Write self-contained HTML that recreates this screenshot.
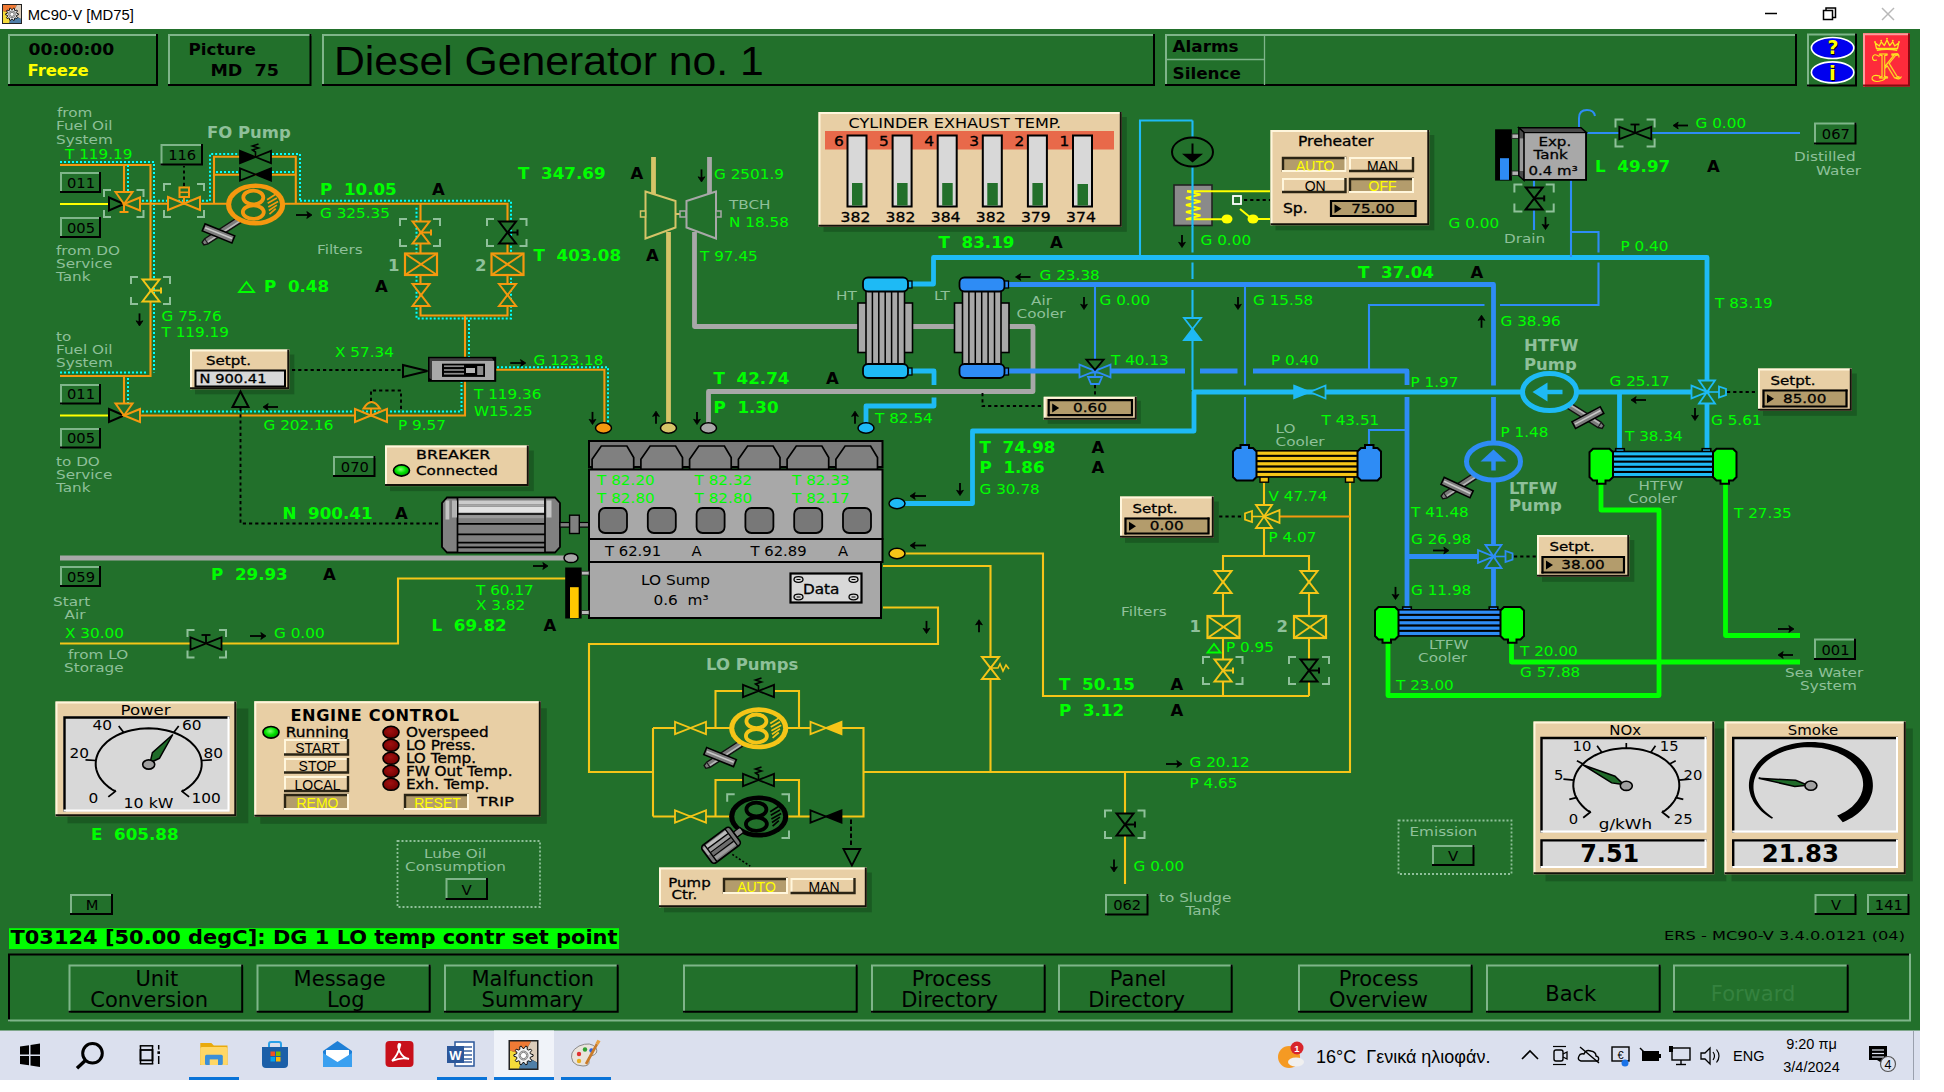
<!DOCTYPE html>
<html lang="en"><head><meta charset="utf-8"><title>MC90-V [MD75]</title>
<style>
html,body{margin:0;padding:0;background:#fff;overflow:hidden}
svg{display:block}
text{white-space:pre}
</style></head><body>
<svg width="1944" height="1092" viewBox="0 0 1944 1092">
<rect x="0.0" y="0.0" width="1944.0" height="1092.0" fill="#fff" />
<rect x="0.0" y="29.0" width="1920.0" height="1002.0" fill="#22702b" />
<rect x="2.0" y="4.0" width="20.0" height="20.0" fill="#222" />
<polygon points="3.0,5.0 17.0,5.0 12.0,14.0 3.0,11.0" fill="#f07a35" stroke-linejoin="miter" />
<polygon points="17.0,5.0 21.0,5.0 21.0,19.0 12.0,14.0" fill="#dccdbb" stroke-linejoin="miter" />
<polygon points="21.0,19.0 21.0,23.0 9.0,23.0 12.0,14.0" fill="#4f7fa8" stroke-linejoin="miter" />
<polygon points="9.0,23.0 3.0,23.0 3.0,11.0 12.0,14.0" fill="#f5dc3a" stroke-linejoin="miter" />
<polygon points="18.4,13.8 18.4,14.8 16.6,15.4 16.3,16.1 17.5,17.6 16.9,18.5 15.1,17.9 14.5,18.3 14.4,20.2 13.5,20.5 12.4,19.0 11.6,19.0 10.5,20.5 9.6,20.2 9.5,18.3 8.9,17.9 7.1,18.5 6.5,17.6 7.7,16.1 7.4,15.4 5.6,14.8 5.6,13.8 7.4,13.2 7.7,12.5 6.5,11.0 7.1,10.1 8.9,10.7 9.5,10.3 9.6,8.4 10.5,8.1 11.6,9.6 12.4,9.6 13.5,8.1 14.4,8.4 14.5,10.3 15.1,10.7 16.9,10.1 17.5,11.0 16.3,12.5 16.6,13.2" fill="#f2f2f2" stroke="#111" stroke-width="1.0" stroke-linejoin="miter" />
<ellipse cx="12.0" cy="14.3" rx="3.4" ry="3.4" fill="none" stroke="#7a7a7a" stroke-width="1.0"/>
<ellipse cx="12.0" cy="14.3" rx="2.1" ry="2.1" fill="#fff" stroke="#555" stroke-width="0.8"/>
<text transform="translate(27.8,20.1) scale(0.955,1)" font-size="15.5" fill="#000" font-family='"Liberation Sans", "DejaVu Sans", sans-serif' >MC90-V [MD75]</text>
<path d="M1765.0,13.5 L1777.0,13.5" fill="none" stroke="#000" stroke-width="1.5" stroke-linejoin="miter" />
<rect x="1823.5" y="10.5" width="9.0" height="9.0" fill="#fff" stroke="#000" stroke-width="1.5" />
<path d="M1826.0,10.0 L1826.0,8.0 L1835.5,8.0 L1835.5,17.5 L1833.0,17.5" fill="none" stroke="#000" stroke-width="1.5" stroke-linejoin="miter" />
<path d="M1882.0,8.0 L1894.0,20.0" fill="none" stroke="#b8b8b8" stroke-width="1.5" stroke-linejoin="miter" />
<path d="M1894.0,8.0 L1882.0,20.0" fill="none" stroke="#b8b8b8" stroke-width="1.5" stroke-linejoin="miter" />
<path d="M9.0,86.0 L9.0,35.0 L158.0,35.0" fill="none" stroke="#7fb58a" stroke-width="2" stroke-linejoin="miter" />
<path d="M8.0,85.0 L157.0,85.0 L157.0,34.0" fill="none" stroke="#000" stroke-width="2" stroke-linejoin="miter" />
<text transform="translate(28.5,54.5) scale(1.135,1)" font-size="15.2" fill="#000" font-weight="bold" font-family='"DejaVu Sans", "Liberation Sans", sans-serif' >00:00:00</text>
<text transform="translate(27.5,75.5) scale(1.08,1)" font-size="15.2" fill="#ffff00" font-weight="bold" font-family='"DejaVu Sans", "Liberation Sans", sans-serif' >Freeze</text>
<path d="M169.0,86.0 L169.0,35.0 L311.5,35.0" fill="none" stroke="#7fb58a" stroke-width="2" stroke-linejoin="miter" />
<path d="M168.0,85.0 L310.5,85.0 L310.5,34.0" fill="none" stroke="#000" stroke-width="2" stroke-linejoin="miter" />
<text transform="translate(188.5,54.5) scale(1.1,1)" font-size="15.2" fill="#000" font-weight="bold" font-family='"DejaVu Sans", "Liberation Sans", sans-serif' >Picture</text>
<text transform="translate(210.5,75.5) scale(1.15,1)" font-size="15.2" fill="#000" font-weight="bold" font-family='"DejaVu Sans", "Liberation Sans", sans-serif' >MD  75</text>
<path d="M323.0,86.0 L323.0,35.0 L1155.0,35.0" fill="none" stroke="#7fb58a" stroke-width="2" stroke-linejoin="miter" />
<path d="M322.0,85.0 L1154.0,85.0 L1154.0,34.0" fill="none" stroke="#000" stroke-width="2" stroke-linejoin="miter" />
<text transform="translate(334.0,75.3) scale(1.063,1)" font-size="40.2" fill="#000" font-family='"Liberation Sans", "DejaVu Sans", sans-serif' >Diesel Generator no. 1</text>
<path d="M1166.0,86.0 L1166.0,35.0 L1797.0,35.0" fill="none" stroke="#7fb58a" stroke-width="2" stroke-linejoin="miter" />
<path d="M1165.0,85.0 L1796.0,85.0 L1796.0,34.0" fill="none" stroke="#000" stroke-width="2" stroke-linejoin="miter" />
<path d="M1166.0,59.5 L1264.0,59.5" fill="none" stroke="#7fb58a" stroke-width="1.3" stroke-linejoin="miter" />
<path d="M1264.5,35.0 L1264.5,85.0" fill="none" stroke="#7fb58a" stroke-width="1.3" stroke-linejoin="miter" />
<text transform="translate(1172.5,52.0) scale(1.04,1)" font-size="16.2" fill="#000" font-weight="bold" font-family='"DejaVu Sans", "Liberation Sans", sans-serif' >Alarms</text>
<text transform="translate(1172.5,79.0) scale(1.04,1)" font-size="16.2" fill="#000" font-weight="bold" font-family='"DejaVu Sans", "Liberation Sans", sans-serif' >Silence</text>
<path d="M1808.0,86.5 L1808.0,34.5 L1857.0,34.5" fill="none" stroke="#7fb58a" stroke-width="2" stroke-linejoin="miter" />
<path d="M1807.0,85.5 L1856.0,85.5 L1856.0,33.5" fill="none" stroke="#000" stroke-width="2" stroke-linejoin="miter" />
<ellipse cx="1832.6" cy="48.0" rx="21.2" ry="10.5" fill="#0000ee" stroke="#fff" stroke-width="1.6"/>
<ellipse cx="1832.6" cy="72.4" rx="21.2" ry="10.5" fill="#0000ee" stroke="#fff" stroke-width="1.6"/>
<text x="1834.0" y="55.0" font-size="18.8" fill="#000" font-weight="bold" text-anchor="middle" font-family='"DejaVu Sans", "Liberation Sans", sans-serif' >?</text>
<text x="1833.0" y="54.0" font-size="18.8" fill="#ffff00" font-weight="bold" text-anchor="middle" font-family='"DejaVu Sans", "Liberation Sans", sans-serif' >?</text>
<text x="1833.6" y="80.9" font-size="19.7" fill="#000" font-weight="bold" text-anchor="middle" font-family='"DejaVu Sans", "Liberation Sans", sans-serif' >i</text>
<text x="1832.4" y="79.9" font-size="19.7" fill="#ffff00" font-weight="bold" text-anchor="middle" font-family='"DejaVu Sans", "Liberation Sans", sans-serif' >i</text>
<rect x="1863.0" y="33.2" width="47.0" height="53.4" fill="#fd2b3b" />
<path d="M1864.0,86.6 L1864.0,34.2 L1910.0,34.2" fill="none" stroke="#ff9c9c" stroke-width="2" stroke-linejoin="miter" />
<path d="M1863.0,85.6 L1909.0,85.6 L1909.0,33.2" fill="none" stroke="#8b0a12" stroke-width="2" stroke-linejoin="miter" />
<path d="M1876.5,48.5 L1875.3,43 L1879.3,46 L1881.3,41.8 L1884.3,45.6 L1887,40 L1889.7,45.6 L1892.7,41.8 L1894.7,46 L1898.7,43 L1897.5,48.5 Z" fill="none" stroke="#ffe61e" stroke-width="1.3" stroke-linejoin="round"/>
<ellipse cx="1875.0" cy="42.0" rx="0.9" ry="0.9" fill="#ffe61e"/>
<ellipse cx="1881.2" cy="40.6" rx="0.9" ry="0.9" fill="#ffe61e"/>
<ellipse cx="1887.0" cy="38.6" rx="0.9" ry="0.9" fill="#ffe61e"/>
<ellipse cx="1892.8" cy="40.6" rx="0.9" ry="0.9" fill="#ffe61e"/>
<ellipse cx="1899.0" cy="42.0" rx="0.9" ry="0.9" fill="#ffe61e"/>
<path d="M1876.8,50.3 Q1887,48.2 1897.2,50.3" fill="none" stroke="#ffe61e" stroke-width="1.5"/>
<text transform="translate(1889,78.3) scale(0.82,1)" font-size="35" text-anchor="middle" fill="#fd2b3b" stroke="#ffe61e" stroke-width="1.15" font-family='"Liberation Serif", "DejaVu Serif", serif'>K</text>
<path d="M1879.5,56.5 Q1873.5,52.5 1872.5,57.5 Q1872.5,61.5 1877,60 M1880,76 Q1871.5,74 1872,79 Q1874,83 1882,80.5 Q1887.5,78.5 1884,75.5 M1895.5,77.5 Q1899,81 1901.5,76.5 M1893,55 Q1899.5,52 1899,57.5" fill="none" stroke="#ffe61e" stroke-width="1.15"/>
<rect x="9.0" y="928.2" width="610.0" height="20.8" fill="#00ff00" />
<text x="10.5" y="944.3" font-size="19" font-weight="bold" fill="#000" font-family='"DejaVu Sans", "Liberation Sans", sans-serif' textLength="607" lengthAdjust="spacingAndGlyphs">T03124 [50.00 degC]: DG 1 LO temp contr set point</text>
<text x="1664" y="940" font-size="12.8" fill="#000" font-family='"DejaVu Sans", "Liberation Sans", sans-serif' textLength="241" lengthAdjust="spacingAndGlyphs">ERS - MC90-V 3.4.0.0121 (04)</text>
<path d="M9.0,1021.5 L9.0,954.5 L1911.0,954.5" fill="none" stroke="#000" stroke-width="2" stroke-linejoin="miter" />
<path d="M8.0,1020.5 L1910.0,1020.5 L1910.0,953.5" fill="none" stroke="#7fb58a" stroke-width="2" stroke-linejoin="miter" />
<path d="M69.5,1012.8 L69.5,965.5 L243.2,965.5" fill="none" stroke="#7fb58a" stroke-width="2" stroke-linejoin="miter" />
<path d="M68.5,1011.8 L242.2,1011.8 L242.2,964.5" fill="none" stroke="#000" stroke-width="2" stroke-linejoin="miter" />
<text x="135.5" y="985.5" font-size="21" fill="#000" font-family='"DejaVu Sans", "Liberation Sans", sans-serif' >Unit</text>
<text x="90.3" y="1006.5" font-size="21" fill="#000" font-family='"DejaVu Sans", "Liberation Sans", sans-serif' >Conversion</text>
<path d="M257.5,1012.8 L257.5,965.5 L430.7,965.5" fill="none" stroke="#7fb58a" stroke-width="2" stroke-linejoin="miter" />
<path d="M256.5,1011.8 L429.7,1011.8 L429.7,964.5" fill="none" stroke="#000" stroke-width="2" stroke-linejoin="miter" />
<text x="293.6" y="985.5" font-size="21" fill="#000" font-family='"DejaVu Sans", "Liberation Sans", sans-serif' >Message</text>
<text x="327.0" y="1006.5" font-size="21" fill="#000" font-family='"DejaVu Sans", "Liberation Sans", sans-serif' >Log</text>
<path d="M445.0,1012.8 L445.0,965.5 L618.7,965.5" fill="none" stroke="#7fb58a" stroke-width="2" stroke-linejoin="miter" />
<path d="M444.0,1011.8 L617.7,1011.8 L617.7,964.5" fill="none" stroke="#000" stroke-width="2" stroke-linejoin="miter" />
<text x="471.5" y="985.5" font-size="21" fill="#000" font-family='"DejaVu Sans", "Liberation Sans", sans-serif' >Malfunction</text>
<text x="481.6" y="1006.5" font-size="21" fill="#000" font-family='"DejaVu Sans", "Liberation Sans", sans-serif' >Summary</text>
<path d="M684.0,1012.8 L684.0,965.5 L857.7,965.5" fill="none" stroke="#7fb58a" stroke-width="2" stroke-linejoin="miter" />
<path d="M683.0,1011.8 L856.7,1011.8 L856.7,964.5" fill="none" stroke="#000" stroke-width="2" stroke-linejoin="miter" />
<path d="M872.0,1012.8 L872.0,965.5 L1045.7,965.5" fill="none" stroke="#7fb58a" stroke-width="2" stroke-linejoin="miter" />
<path d="M871.0,1011.8 L1044.7,1011.8 L1044.7,964.5" fill="none" stroke="#000" stroke-width="2" stroke-linejoin="miter" />
<text x="911.8" y="985.5" font-size="21" fill="#000" font-family='"DejaVu Sans", "Liberation Sans", sans-serif' >Process</text>
<text x="901.2" y="1006.5" font-size="21" fill="#000" font-family='"DejaVu Sans", "Liberation Sans", sans-serif' >Directory</text>
<path d="M1059.0,1012.8 L1059.0,965.5 L1232.7,965.5" fill="none" stroke="#7fb58a" stroke-width="2" stroke-linejoin="miter" />
<path d="M1058.0,1011.8 L1231.7,1011.8 L1231.7,964.5" fill="none" stroke="#000" stroke-width="2" stroke-linejoin="miter" />
<text x="1109.8" y="985.5" font-size="21" fill="#000" font-family='"DejaVu Sans", "Liberation Sans", sans-serif' >Panel</text>
<text x="1088.2" y="1006.5" font-size="21" fill="#000" font-family='"DejaVu Sans", "Liberation Sans", sans-serif' >Directory</text>
<path d="M1299.0,1012.8 L1299.0,965.5 L1472.7,965.5" fill="none" stroke="#7fb58a" stroke-width="2" stroke-linejoin="miter" />
<path d="M1298.0,1011.8 L1471.7,1011.8 L1471.7,964.5" fill="none" stroke="#000" stroke-width="2" stroke-linejoin="miter" />
<text x="1338.8" y="985.5" font-size="21" fill="#000" font-family='"DejaVu Sans", "Liberation Sans", sans-serif' >Process</text>
<text x="1329.0" y="1006.5" font-size="21" fill="#000" font-family='"DejaVu Sans", "Liberation Sans", sans-serif' >Overview</text>
<path d="M1487.0,1012.8 L1487.0,965.5 L1660.7,965.5" fill="none" stroke="#7fb58a" stroke-width="2" stroke-linejoin="miter" />
<path d="M1486.0,1011.8 L1659.7,1011.8 L1659.7,964.5" fill="none" stroke="#000" stroke-width="2" stroke-linejoin="miter" />
<text x="1545.3" y="1000.5" font-size="21" fill="#000" font-family='"DejaVu Sans", "Liberation Sans", sans-serif' >Back</text>
<path d="M1674.0,1012.8 L1674.0,965.5 L1848.7,965.5" fill="none" stroke="#7fb58a" stroke-width="2" stroke-linejoin="miter" />
<path d="M1673.0,1011.8 L1847.7,1011.8 L1847.7,964.5" fill="none" stroke="#000" stroke-width="2" stroke-linejoin="miter" />
<text x="1710.8" y="1000.5" font-size="21" fill="#35823f" font-family='"DejaVu Sans", "Liberation Sans", sans-serif' >Forward</text>
<path d="M60.0,165.0 L150.5,165.0 L150.5,376.0 L60.0,376.0" fill="none" stroke="#f5980f" stroke-width="2.1" stroke-linejoin="miter" />
<path d="M60.0,162.0 L154.0,162.0 L154.0,372.5" fill="none" stroke="#00ffff" stroke-width="2" stroke-linejoin="miter" stroke-dasharray="2 2"/>
<path d="M60.0,372.5 L146.0,372.5" fill="none" stroke="#00ffff" stroke-width="2" stroke-linejoin="miter" stroke-dasharray="2 2"/>
<path d="M124.0,165.0 L124.0,200.0" fill="none" stroke="#f5980f" stroke-width="2.1" stroke-linejoin="miter" />
<path d="M128.0,165.0 L128.0,197.0" fill="none" stroke="#00ffff" stroke-width="2" stroke-linejoin="miter" stroke-dasharray="2 2"/>
<path d="M60.0,204.0 L110.0,204.0" fill="none" stroke="#ffff00" stroke-width="2.1" stroke-linejoin="miter" />
<path d="M140.0,203.8 L228.0,203.8" fill="none" stroke="#f5980f" stroke-width="2.1" stroke-linejoin="miter" />
<path d="M142.0,200.8 L209.0,200.8" fill="none" stroke="#00ffff" stroke-width="2" stroke-linejoin="miter" stroke-dasharray="2 2"/>
<path d="M214.0,203.8 L214.0,156.8 L295.8,156.8 L295.8,203.8" fill="none" stroke="#f5980f" stroke-width="2.1" stroke-linejoin="miter" />
<path d="M214.0,174.7 L295.8,174.7" fill="none" stroke="#f5980f" stroke-width="2.1" stroke-linejoin="miter" />
<path d="M210.0,200.8 L210.0,154.0 L239.0,154.0" fill="none" stroke="#00ffff" stroke-width="2" stroke-linejoin="miter" stroke-dasharray="2 2"/>
<path d="M272.0,154.0 L300.0,154.0 L300.0,200.8" fill="none" stroke="#00ffff" stroke-width="2" stroke-linejoin="miter" stroke-dasharray="2 2"/>
<path d="M216.0,172.0 L239.0,172.0" fill="none" stroke="#00ffff" stroke-width="2" stroke-linejoin="miter" stroke-dasharray="2 2"/>
<path d="M272.0,172.0 L295.0,172.0" fill="none" stroke="#00ffff" stroke-width="2" stroke-linejoin="miter" stroke-dasharray="2 2"/>
<path d="M284.0,203.8 L507.5,203.8 L507.5,315.5 L420.5,315.5 L420.5,203.8" fill="none" stroke="#f5980f" stroke-width="2.1" stroke-linejoin="miter" />
<path d="M300.0,200.8 L511.0,200.8 L511.0,318.5 L416.5,318.5 L416.5,206.0" fill="none" stroke="#00ffff" stroke-width="2" stroke-linejoin="miter" stroke-dasharray="2 2"/>
<path d="M465.0,315.5 L465.0,358.0" fill="none" stroke="#f5980f" stroke-width="2.1" stroke-linejoin="miter" />
<path d="M469.0,320.0 L469.0,357.0" fill="none" stroke="#00ffff" stroke-width="2" stroke-linejoin="miter" stroke-dasharray="2 2"/>
<path d="M495.0,369.8 L604.4,369.8 L604.4,424.0" fill="none" stroke="#f5980f" stroke-width="2.1" stroke-linejoin="miter" />
<path d="M497.0,367.3 L608.0,367.3 L608.0,424.0" fill="none" stroke="#00ffff" stroke-width="2" stroke-linejoin="miter" stroke-dasharray="2 2"/>
<path d="M124.0,376.0 L124.0,405.0" fill="none" stroke="#f5980f" stroke-width="2.1" stroke-linejoin="miter" />
<path d="M128.0,378.0 L128.0,405.0" fill="none" stroke="#00ffff" stroke-width="2" stroke-linejoin="miter" stroke-dasharray="2 2"/>
<path d="M60.0,415.5 L110.0,415.5" fill="none" stroke="#ffff00" stroke-width="2.1" stroke-linejoin="miter" />
<path d="M140.0,415.5 L465.0,415.5 L465.0,381.0" fill="none" stroke="#f5980f" stroke-width="2.1" stroke-linejoin="miter" />
<path d="M142.0,411.5 L461.5,411.5 L461.5,382.0" fill="none" stroke="#00ffff" stroke-width="2" stroke-linejoin="miter" stroke-dasharray="2 2"/>
<path d="M60.0,558.0 L566.0,558.0" fill="none" stroke="#a8a8a8" stroke-width="4.8" stroke-linejoin="round" />
<path d="M653.5,157.0 L653.5,194.0" fill="none" stroke="#d6c468" stroke-width="4.8" stroke-linejoin="round" />
<path d="M668.5,232.0 L668.5,425.0" fill="none" stroke="#d6c468" stroke-width="4.8" stroke-linejoin="round" />
<path d="M709.5,157.0 L709.5,194.0" fill="none" stroke="#a8a8a8" stroke-width="4.8" stroke-linejoin="round" />
<path d="M694.5,232.0 L694.5,326.5 L1033.0,326.5 L1033.0,391.5 L708.5,391.5 L708.5,425.0" fill="none" stroke="#a8a8a8" stroke-width="4.8" stroke-linejoin="round" />
<path d="M910.0,284.0 L933.5,284.0 L933.5,257.5 L1707.0,257.5 L1707.0,452.0" fill="none" stroke="#1ebaf5" stroke-width="4.8" stroke-linejoin="round" />
<path d="M910.0,371.0 L934.0,371.0 L934.0,385.0" fill="none" stroke="#1ebaf5" stroke-width="4.8" stroke-linejoin="round" />
<path d="M934.0,397.5 L934.0,406.0 L866.0,406.0 L866.0,425.0" fill="none" stroke="#1ebaf5" stroke-width="4.8" stroke-linejoin="round" />
<path d="M903.0,503.5 L972.5,503.5 L972.5,431.0 L1194.0,431.0 L1194.0,392.0 L1522.0,392.0" fill="none" stroke="#1ebaf5" stroke-width="4.8" stroke-linejoin="round" />
<path d="M1578.0,392.0 L1707.0,392.0" fill="none" stroke="#1ebaf5" stroke-width="4.8" stroke-linejoin="round" />
<path d="M1619.5,392.0 L1619.5,452.0" fill="none" stroke="#1ebaf5" stroke-width="4.8" stroke-linejoin="round" />
<path d="M1192.5,120.5 L1140.0,120.5 L1140.0,257.0" fill="none" stroke="#1ebaf5" stroke-width="2.1" stroke-linejoin="miter" />
<path d="M1192.5,120.5 L1192.5,252.5" fill="none" stroke="#1ebaf5" stroke-width="2.1" stroke-linejoin="miter" />
<path d="M1192.5,262.5 L1192.5,279.0" fill="none" stroke="#1ebaf5" stroke-width="2.1" stroke-linejoin="miter" />
<path d="M1192.5,290.0 L1192.5,390.0" fill="none" stroke="#1ebaf5" stroke-width="2.1" stroke-linejoin="miter" />
<path d="M1579,130 V118 Q1579,110 1587,110 Q1594,110 1595,116" fill="none" stroke="#2e8cf5" stroke-width="2"/>
<path d="M1006.0,284.5 L1493.5,284.5 L1493.5,385.5" fill="none" stroke="#2e8cf5" stroke-width="4.8" stroke-linejoin="round" />
<path d="M1493.5,397.0 L1493.5,612.0" fill="none" stroke="#2e8cf5" stroke-width="4.8" stroke-linejoin="round" />
<path d="M1006.0,371.0 L1185.0,371.0" fill="none" stroke="#2e8cf5" stroke-width="4.8" stroke-linejoin="round" />
<path d="M1200.0,371.0 L1237.5,371.0" fill="none" stroke="#2e8cf5" stroke-width="4.8" stroke-linejoin="round" />
<path d="M1253.0,371.0 L1407.0,371.0 L1407.0,385.0" fill="none" stroke="#2e8cf5" stroke-width="4.8" stroke-linejoin="round" />
<path d="M1407.0,397.0 L1407.0,612.0" fill="none" stroke="#2e8cf5" stroke-width="4.8" stroke-linejoin="round" />
<path d="M1407.0,556.5 L1493.0,556.5" fill="none" stroke="#2e8cf5" stroke-width="4.8" stroke-linejoin="round" />
<path d="M1095.0,286.0 L1095.0,371.0" fill="none" stroke="#2e8cf5" stroke-width="2.1" stroke-linejoin="miter" />
<path d="M1245.0,286.0 L1245.0,385.5" fill="none" stroke="#2e8cf5" stroke-width="2.1" stroke-linejoin="miter" />
<path d="M1245.0,397.0 L1245.0,448.0" fill="none" stroke="#2e8cf5" stroke-width="2.1" stroke-linejoin="miter" />
<path d="M1369.0,369.0 L1369.0,305.0 L1484.5,305.0" fill="none" stroke="#2e8cf5" stroke-width="2.1" stroke-linejoin="miter" />
<path d="M1500.0,305.0 L1598.5,305.0 L1598.5,262.5" fill="none" stroke="#2e8cf5" stroke-width="2.1" stroke-linejoin="miter" />
<path d="M1598.5,252.5 L1598.5,232.0 L1571.0,232.0" fill="none" stroke="#2e8cf5" stroke-width="2.1" stroke-linejoin="miter" />
<path d="M1571.0,180.0 L1571.0,257.0" fill="none" stroke="#2e8cf5" stroke-width="2.1" stroke-linejoin="miter" />
<path d="M1369.0,448.0 L1369.0,430.0 L1407.0,430.0" fill="none" stroke="#2e8cf5" stroke-width="2.1" stroke-linejoin="miter" />
<path d="M1587.0,133.0 L1800.0,133.0" fill="none" stroke="#2e8cf5" stroke-width="2.1" stroke-linejoin="miter" />
<path d="M1534.0,180.0 L1534.0,230.0" fill="none" stroke="#2e8cf5" stroke-width="2.1" stroke-linejoin="miter" />
<path d="M1601.0,480.0 L1601.0,510.0 L1659.0,510.0 L1659.0,695.5 L1388.0,695.5 L1388.0,639.0" fill="none" stroke="#00ff00" stroke-width="4.8" stroke-linejoin="round" />
<path d="M1725.5,480.0 L1725.5,635.5 L1800.0,635.5" fill="none" stroke="#00ff00" stroke-width="4.8" stroke-linejoin="round" />
<path d="M1511.5,639.0 L1511.5,662.0 L1800.0,662.0" fill="none" stroke="#00ff00" stroke-width="4.8" stroke-linejoin="round" />
<path d="M60.0,643.5 L398.0,643.5 L398.0,578.5 L566.0,578.5" fill="none" stroke="#f5c518" stroke-width="2.1" stroke-linejoin="miter" />
<path d="M903.0,553.5 L1043.0,553.5 L1043.0,696.0 L1309.0,696.0" fill="none" stroke="#f5c518" stroke-width="2.1" stroke-linejoin="miter" />
<path d="M883.0,566.0 L990.5,566.0 L990.5,772.0" fill="none" stroke="#f5c518" stroke-width="2.1" stroke-linejoin="miter" />
<path d="M883.0,607.5 L938.0,607.5 L938.0,644.0 L589.0,644.0 L589.0,772.0 L653.0,772.0" fill="none" stroke="#f5c518" stroke-width="2.1" stroke-linejoin="miter" />
<path d="M653.0,728.0 L653.0,816.5" fill="none" stroke="#f5c518" stroke-width="2.1" stroke-linejoin="miter" />
<path d="M653.0,728.0 L730.0,728.0" fill="none" stroke="#f5c518" stroke-width="2.1" stroke-linejoin="miter" />
<path d="M788.0,728.0 L863.5,728.0 L863.5,816.5 L842.0,816.5" fill="none" stroke="#f5c518" stroke-width="2.1" stroke-linejoin="miter" />
<path d="M653.0,816.5 L730.0,816.5" fill="none" stroke="#f5c518" stroke-width="2.1" stroke-linejoin="miter" />
<path d="M788.0,816.5 L812.0,816.5" fill="none" stroke="#f5c518" stroke-width="2.1" stroke-linejoin="miter" />
<path d="M715.5,728.0 L715.5,691.0 L799.0,691.0 L799.0,728.0" fill="none" stroke="#f5c518" stroke-width="2.1" stroke-linejoin="miter" />
<path d="M715.5,816.5 L715.5,780.0 L799.0,780.0 L799.0,816.5" fill="none" stroke="#f5c518" stroke-width="2.1" stroke-linejoin="miter" />
<path d="M863.5,772.0 L1350.0,772.0 L1350.0,480.0" fill="none" stroke="#f5c518" stroke-width="2.1" stroke-linejoin="miter" />
<path d="M1125.0,772.0 L1125.0,884.0" fill="none" stroke="#f5c518" stroke-width="2.1" stroke-linejoin="miter" />
<path d="M1264.0,480.0 L1264.0,556.0 L1223.0,556.0 L1223.0,696.0" fill="none" stroke="#f5c518" stroke-width="2.1" stroke-linejoin="miter" />
<path d="M1264.0,556.0 L1309.0,556.0 L1309.0,696.0" fill="none" stroke="#f5c518" stroke-width="2.1" stroke-linejoin="miter" />
<path d="M1280.0,516.5 L1350.0,516.5" fill="none" stroke="#f5980f" stroke-width="2.1" stroke-linejoin="miter" />
<defs><radialGradient id="lg" cx="0.45" cy="0.4" r="0.6"><stop offset="0" stop-color="#7dff6a"/><stop offset="0.55" stop-color="#00e000"/><stop offset="1" stop-color="#009a00"/></radialGradient><radialGradient id="lr" cx="0.45" cy="0.4" r="0.65"><stop offset="0" stop-color="#a01010"/><stop offset="1" stop-color="#6e0000"/></radialGradient></defs>
<path d="M111.0,190.0 L104.0,190.0 L104.0,197.0" fill="none" stroke="#8fc09a" stroke-width="2" stroke-linejoin="miter" />
<path d="M136.5,190.0 L143.5,190.0 L143.5,197.0" fill="none" stroke="#8fc09a" stroke-width="2" stroke-linejoin="miter" />
<path d="M111.0,217.0 L104.0,217.0 L104.0,210.0" fill="none" stroke="#8fc09a" stroke-width="2" stroke-linejoin="miter" />
<path d="M136.5,217.0 L143.5,217.0 L143.5,210.0" fill="none" stroke="#8fc09a" stroke-width="2" stroke-linejoin="miter" />
<polygon points="109.0,197.5 124.0,204.0 109.0,210.5" fill="#22702b" stroke="#000" stroke-width="2" stroke-linejoin="miter" />
<polygon points="140.0,197.5 124.0,204.0 140.0,210.5" fill="#22702b" stroke="#f5980f" stroke-width="2" stroke-linejoin="miter" />
<polygon points="115.5,192.0 124.0,204.0 132.5,192.0" fill="#22702b" stroke="#f5980f" stroke-width="2" stroke-linejoin="miter" />
<path d="M124.0,204.0 L124.0,212.0" fill="none" stroke="#f5980f" stroke-width="2" stroke-linejoin="miter" />
<path d="M119.5,212.0 L128.5,212.0" fill="none" stroke="#f5980f" stroke-width="2" stroke-linejoin="miter" />
<polygon points="109.0,409.0 124.0,415.5 109.0,422.0" fill="#22702b" stroke="#000" stroke-width="2" stroke-linejoin="miter" />
<polygon points="140.0,409.0 124.0,415.5 140.0,422.0" fill="#22702b" stroke="#f5980f" stroke-width="2" stroke-linejoin="miter" />
<polygon points="115.5,403.5 124.0,415.5 132.5,403.5" fill="#22702b" stroke="#f5980f" stroke-width="2" stroke-linejoin="miter" />
<path d="M171.0,184.0 L164.0,184.0 L164.0,191.0" fill="none" stroke="#8fc09a" stroke-width="2" stroke-linejoin="miter" />
<path d="M197.0,184.0 L204.0,184.0 L204.0,191.0" fill="none" stroke="#8fc09a" stroke-width="2" stroke-linejoin="miter" />
<path d="M171.0,217.0 L164.0,217.0 L164.0,210.0" fill="none" stroke="#8fc09a" stroke-width="2" stroke-linejoin="miter" />
<path d="M197.0,217.0 L204.0,217.0 L204.0,210.0" fill="none" stroke="#8fc09a" stroke-width="2" stroke-linejoin="miter" />
<polygon points="168.0,197.0 184.0,203.5 168.0,210.0" fill="#22702b" stroke="#f5980f" stroke-width="2" stroke-linejoin="miter" />
<polygon points="200.0,197.0 184.0,203.5 200.0,210.0" fill="#22702b" stroke="#f5980f" stroke-width="2" stroke-linejoin="miter" />
<path d="M184.0,203.5 L184.0,197.0" fill="none" stroke="#f5980f" stroke-width="2" stroke-linejoin="miter" />
<rect x="179.5" y="187.5" width="9.5" height="9.5" fill="#22702b" stroke="#f5980f" stroke-width="2" />
<path d="M180.0,192.3 L188.0,192.3" fill="none" stroke="#f5980f" stroke-width="1.6" stroke-linejoin="miter" />
<path d="M184.0,186.0 L184.0,166.0" fill="none" stroke="#000" stroke-width="1.9" stroke-linejoin="miter" stroke-dasharray="3.2 3"/>
<path d="M161.5,165.5 L161.5,145.0 L203.0,145.0" fill="none" stroke="#7fb58a" stroke-width="2" stroke-linejoin="miter" />
<path d="M160.5,164.5 L202.0,164.5 L202.0,144.0" fill="none" stroke="#000" stroke-width="2" stroke-linejoin="miter" />
<text transform="translate(182.2,160.0) scale(1.08,1)" font-size="13.6" fill="#000" text-anchor="middle" font-family='"DejaVu Sans", "Liberation Sans", sans-serif' >116</text>
<polygon points="240.0,150.8 255.5,157.0 240.0,163.2" fill="#000" stroke="#000" stroke-width="1.8" stroke-linejoin="miter" />
<polygon points="271.0,150.8 255.5,157.0 271.0,163.2" fill="#22702b" stroke="#000" stroke-width="1.8" stroke-linejoin="miter" />
<path d="M255.5,157.0 L255.5,152.0 L252.5,150.0 L258.5,148.0 L252.5,146.0 L258.5,144.0" fill="none" stroke="#000" stroke-width="1.6" stroke-linejoin="miter" />
<polygon points="240.0,168.3 255.5,174.5 240.0,180.7" fill="#22702b" stroke="#000" stroke-width="1.8" stroke-linejoin="miter" />
<polygon points="271.0,168.3 255.5,174.5 271.0,180.7" fill="#000" stroke="#000" stroke-width="1.8" stroke-linejoin="miter" />
<g transform="translate(240.0,219.5) rotate(147.0)">
<path d="M0,-3.1 H40.1 L44.1,-1.6 V1.6 L40.1,3.1 H0 Z" fill="#7c7c7c" stroke="#111" stroke-width="1.4"/>
<path d="M1.0,-1.3 L39.1,-1.3" fill="none" stroke="#b8b8b8" stroke-width="1.6" stroke-linejoin="miter" />
<path d="M40.1,-3.1 L40.1,3.1" fill="none" stroke="#1a1a1a" stroke-width="1" stroke-linejoin="miter" />
</g>
<g transform="translate(218.5,233.4) rotate(22.0)">
<rect x="-16.0" y="-3.8" width="32.0" height="7.6" fill="#7c7c7c" stroke="#000" stroke-width="1.6" />
<path d="M-14.5,-0.3 L14.5,-0.3" fill="none" stroke="#c8c8c8" stroke-width="1.6" stroke-linejoin="miter" />
</g>
<ellipse cx="255.6" cy="204.5" rx="29.6" ry="21.0" fill="#f5980f"/>
<ellipse cx="255.6" cy="204.5" rx="24.4" ry="16.4" fill="#22702b"/>
<path d="M267.1,199.7 L275.7,194.3" fill="none" stroke="#f5980f" stroke-width="1.7" stroke-linejoin="miter" />
<path d="M267.7,203.3 L276.9,197.9" fill="none" stroke="#f5980f" stroke-width="1.7" stroke-linejoin="miter" />
<path d="M268.3,206.9 L278.1,201.5" fill="none" stroke="#f5980f" stroke-width="1.7" stroke-linejoin="miter" />
<path d="M268.9,210.5 L276.9,205.1" fill="none" stroke="#f5980f" stroke-width="1.7" stroke-linejoin="miter" />
<path d="M269.5,214.1 L275.7,208.7" fill="none" stroke="#f5980f" stroke-width="1.7" stroke-linejoin="miter" />
<ellipse cx="253.3" cy="197.5" rx="10.0" ry="6.8" fill="#22702b" stroke="#f5980f" stroke-width="3.8"/>
<ellipse cx="253.3" cy="212.1" rx="10.5" ry="6.8" fill="#22702b" stroke="#f5980f" stroke-width="3.8"/>
<path d="M138.0,277.0 L131.0,277.0 L131.0,284.0" fill="none" stroke="#8fc09a" stroke-width="2" stroke-linejoin="miter" />
<path d="M163.0,277.0 L170.0,277.0 L170.0,284.0" fill="none" stroke="#8fc09a" stroke-width="2" stroke-linejoin="miter" />
<path d="M138.0,304.0 L131.0,304.0 L131.0,297.0" fill="none" stroke="#8fc09a" stroke-width="2" stroke-linejoin="miter" />
<path d="M163.0,304.0 L170.0,304.0 L170.0,297.0" fill="none" stroke="#8fc09a" stroke-width="2" stroke-linejoin="miter" />
<polygon points="142.5,279.5 151.0,290.5 159.5,279.5" fill="#22702b" stroke="#f5c518" stroke-width="2" stroke-linejoin="miter" />
<polygon points="142.5,301.5 151.0,290.5 159.5,301.5" fill="#22702b" stroke="#f5c518" stroke-width="2" stroke-linejoin="miter" />
<path d="M151.0,290.5 L161.0,290.5" fill="none" stroke="#f5c518" stroke-width="2" stroke-linejoin="miter" />
<path d="M161.0,287.5 L161.0,293.5" fill="none" stroke="#f5c518" stroke-width="2" stroke-linejoin="miter" />
<path d="M407.0,219.0 L400.0,219.0 L400.0,226.0" fill="none" stroke="#8fc09a" stroke-width="2" stroke-linejoin="miter" />
<path d="M433.0,219.0 L440.0,219.0 L440.0,226.0" fill="none" stroke="#8fc09a" stroke-width="2" stroke-linejoin="miter" />
<path d="M407.0,246.0 L400.0,246.0 L400.0,239.0" fill="none" stroke="#8fc09a" stroke-width="2" stroke-linejoin="miter" />
<path d="M433.0,246.0 L440.0,246.0 L440.0,239.0" fill="none" stroke="#8fc09a" stroke-width="2" stroke-linejoin="miter" />
<polygon points="412.5,221.5 421.0,232.5 429.5,221.5" fill="#22702b" stroke="#f5980f" stroke-width="2" stroke-linejoin="miter" />
<polygon points="412.5,243.5 421.0,232.5 429.5,243.5" fill="#22702b" stroke="#f5980f" stroke-width="2" stroke-linejoin="miter" />
<path d="M421.0,232.5 L431.0,232.5" fill="none" stroke="#f5980f" stroke-width="2" stroke-linejoin="miter" />
<path d="M431.0,229.5 L431.0,235.5" fill="none" stroke="#f5980f" stroke-width="2" stroke-linejoin="miter" />
<path d="M494.0,219.0 L487.0,219.0 L487.0,226.0" fill="none" stroke="#8fc09a" stroke-width="2" stroke-linejoin="miter" />
<path d="M519.5,219.0 L526.5,219.0 L526.5,226.0" fill="none" stroke="#8fc09a" stroke-width="2" stroke-linejoin="miter" />
<path d="M494.0,246.0 L487.0,246.0 L487.0,239.0" fill="none" stroke="#8fc09a" stroke-width="2" stroke-linejoin="miter" />
<path d="M519.5,246.0 L526.5,246.0 L526.5,239.0" fill="none" stroke="#8fc09a" stroke-width="2" stroke-linejoin="miter" />
<polygon points="499.0,221.5 507.5,232.5 516.0,221.5" fill="#22702b" stroke="#000" stroke-width="2" stroke-linejoin="miter" />
<polygon points="499.0,243.5 507.5,232.5 516.0,243.5" fill="#22702b" stroke="#000" stroke-width="2" stroke-linejoin="miter" />
<path d="M507.5,232.5 L517.5,232.5" fill="none" stroke="#000" stroke-width="2" stroke-linejoin="miter" />
<path d="M517.5,229.5 L517.5,235.5" fill="none" stroke="#000" stroke-width="2" stroke-linejoin="miter" />
<rect x="405.0" y="253.5" width="32.0" height="21.5" fill="#22702b" stroke="#f5980f" stroke-width="2.2" />
<path d="M405.0,253.5 L437.0,275.0" fill="none" stroke="#f5980f" stroke-width="2" stroke-linejoin="miter" />
<path d="M405.0,275.0 L437.0,253.5" fill="none" stroke="#f5980f" stroke-width="2" stroke-linejoin="miter" />
<rect x="491.5" y="253.5" width="32.0" height="21.5" fill="#22702b" stroke="#f5980f" stroke-width="2.2" />
<path d="M491.5,253.5 L523.5,275.0" fill="none" stroke="#f5980f" stroke-width="2" stroke-linejoin="miter" />
<path d="M491.5,275.0 L523.5,253.5" fill="none" stroke="#f5980f" stroke-width="2" stroke-linejoin="miter" />
<polygon points="412.5,284.0 421.0,295.0 429.5,284.0" fill="#22702b" stroke="#f5980f" stroke-width="2" stroke-linejoin="miter" />
<polygon points="412.5,306.0 421.0,295.0 429.5,306.0" fill="#22702b" stroke="#f5980f" stroke-width="2" stroke-linejoin="miter" />
<polygon points="499.0,284.0 507.5,295.0 516.0,284.0" fill="#22702b" stroke="#f5980f" stroke-width="2" stroke-linejoin="miter" />
<polygon points="499.0,306.0 507.5,295.0 516.0,306.0" fill="#22702b" stroke="#f5980f" stroke-width="2" stroke-linejoin="miter" />
<polygon points="403.0,365.0 427.5,371.0 403.0,377.0" fill="#22702b" stroke="#000" stroke-width="2" stroke-linejoin="miter" />
<rect x="428.0" y="356.8" width="68.2" height="25.0" fill="#000" />
<polygon points="429.5,358.3 492.0,358.3 494.0,361.0 432.0,361.0 432.0,380.0 429.5,378.0" fill="#3c3c3c" stroke-linejoin="miter" />
<rect x="432.0" y="361.0" width="62.2" height="19.0" fill="#a8a8a8" />
<rect x="442.0" y="363.7" width="43.0" height="13.2" fill="#000" />
<path d="M444.0,366.2 L464.0,366.2" fill="none" stroke="#8c8c8c" stroke-width="1.7" stroke-linejoin="miter" />
<path d="M444.0,370.0 L464.0,370.0" fill="none" stroke="#8c8c8c" stroke-width="1.7" stroke-linejoin="miter" />
<path d="M444.0,373.7 L464.0,373.7" fill="none" stroke="#8c8c8c" stroke-width="1.7" stroke-linejoin="miter" />
<rect x="466.0" y="368.0" width="9.0" height="5.0" fill="#b4b4b4" />
<rect x="477.2" y="366.0" width="6.0" height="9.0" fill="#8c8c8c" />
<rect x="195.0" y="354.5" width="99.3" height="39.8" fill="#1a5a22" />
<rect x="190.0" y="349.5" width="99.3" height="39.8" fill="#e8cfa5" />
<path d="M191.0,389.3 L191.0,350.5 L289.3,350.5" fill="none" stroke="#fff6dc" stroke-width="2" stroke-linejoin="miter" />
<path d="M190.0,388.3 L288.3,388.3 L288.3,349.5" fill="none" stroke="#14120a" stroke-width="2" stroke-linejoin="miter" />
<text transform="translate(206.0,365.2) scale(1.16,1)" font-size="13.0" fill="#000" font-family='"DejaVu Sans", "Liberation Sans", sans-serif' stroke="#000" stroke-width="0.3">Setpt.</text>
<rect x="195.5" y="370.5" width="89.5" height="16.0" fill="#d8d8d8" stroke="#000" stroke-width="2" />
<text transform="translate(199.5,383.3) scale(1.13,1)" font-size="13.0" fill="#000" font-family='"DejaVu Sans", "Liberation Sans", sans-serif' stroke="#000" stroke-width="0.3">N 900.41</text>
<path d="M292.0,370.0 L402.0,370.0" fill="none" stroke="#000" stroke-width="1.9" stroke-linejoin="miter" stroke-dasharray="3.2 3"/>
<polygon points="232.5,407.0 240.5,391.5 248.5,407.0" fill="#22702b" stroke="#000" stroke-width="2" stroke-linejoin="miter" />
<path d="M240.5,408.0 L240.5,523.5 L441.0,523.5" fill="none" stroke="#000" stroke-width="1.9" stroke-linejoin="miter" stroke-dasharray="3.2 3"/>
<polygon points="355.0,409.0 371.0,415.5 355.0,422.0" fill="#22702b" stroke="#f5980f" stroke-width="2" stroke-linejoin="miter" />
<polygon points="387.0,409.0 371.0,415.5 387.0,422.0" fill="#22702b" stroke="#f5980f" stroke-width="2" stroke-linejoin="miter" />
<path d="M371.0,415.5 L371.0,409.0" fill="none" stroke="#f5980f" stroke-width="2" stroke-linejoin="miter" />
<path d="M363.5,408.5 Q371.5,395.5 380,408.5 Z" fill="#22702b" stroke="#f5980f" stroke-width="2"/>
<path d="M371.0,401.0 L371.0,390.5 L401.0,390.5 L401.0,411.0" fill="none" stroke="#000" stroke-width="1.9" stroke-linejoin="miter" stroke-dasharray="3.2 3"/>
<ellipse cx="603.5" cy="428.0" rx="8.0" ry="5.2" fill="#f5980f" stroke="#000" stroke-width="1.5"/>
<ellipse cx="668.5" cy="428.0" rx="8.0" ry="5.2" fill="#d6c468" stroke="#000" stroke-width="1.5"/>
<ellipse cx="708.5" cy="428.0" rx="8.0" ry="5.2" fill="#a8a8a8" stroke="#000" stroke-width="1.5"/>
<ellipse cx="866.0" cy="428.0" rx="8.0" ry="5.2" fill="#1ebaf5" stroke="#000" stroke-width="1.5"/>
<ellipse cx="897.0" cy="503.5" rx="8.0" ry="5.2" fill="#1ebaf5" stroke="#000" stroke-width="1.5"/>
<ellipse cx="897.0" cy="553.5" rx="8.0" ry="5.2" fill="#f5c518" stroke="#000" stroke-width="1.5"/>
<ellipse cx="571.0" cy="558.0" rx="7.0" ry="4.6" fill="#a8a8a8" stroke="#000" stroke-width="1.5"/>
<path d="M61.0,193.0 L61.0,173.0 L101.0,173.0" fill="none" stroke="#7fb58a" stroke-width="2" stroke-linejoin="miter" />
<path d="M60.0,192.0 L100.0,192.0 L100.0,172.0" fill="none" stroke="#000" stroke-width="2" stroke-linejoin="miter" />
<text transform="translate(81.0,187.5) scale(1.08,1)" font-size="13.6" fill="#000" text-anchor="middle" font-family='"DejaVu Sans", "Liberation Sans", sans-serif' >011</text>
<path d="M61.0,238.0 L61.0,218.0 L101.0,218.0" fill="none" stroke="#7fb58a" stroke-width="2" stroke-linejoin="miter" />
<path d="M60.0,237.0 L100.0,237.0 L100.0,217.0" fill="none" stroke="#000" stroke-width="2" stroke-linejoin="miter" />
<text transform="translate(81.0,232.5) scale(1.08,1)" font-size="13.6" fill="#000" text-anchor="middle" font-family='"DejaVu Sans", "Liberation Sans", sans-serif' >005</text>
<path d="M61.0,404.5 L61.0,385.0 L101.0,385.0" fill="none" stroke="#7fb58a" stroke-width="2" stroke-linejoin="miter" />
<path d="M60.0,403.5 L100.0,403.5 L100.0,384.0" fill="none" stroke="#000" stroke-width="2" stroke-linejoin="miter" />
<text transform="translate(81.0,399.0) scale(1.08,1)" font-size="13.6" fill="#000" text-anchor="middle" font-family='"DejaVu Sans", "Liberation Sans", sans-serif' >011</text>
<path d="M61.0,448.5 L61.0,429.0 L101.0,429.0" fill="none" stroke="#7fb58a" stroke-width="2" stroke-linejoin="miter" />
<path d="M60.0,447.5 L100.0,447.5 L100.0,428.0" fill="none" stroke="#000" stroke-width="2" stroke-linejoin="miter" />
<text transform="translate(81.0,443.0) scale(1.08,1)" font-size="13.6" fill="#000" text-anchor="middle" font-family='"DejaVu Sans", "Liberation Sans", sans-serif' >005</text>
<path d="M61.0,587.0 L61.0,567.0 L101.0,567.0" fill="none" stroke="#7fb58a" stroke-width="2" stroke-linejoin="miter" />
<path d="M60.0,586.0 L100.0,586.0 L100.0,566.0" fill="none" stroke="#000" stroke-width="2" stroke-linejoin="miter" />
<text transform="translate(81.0,581.5) scale(1.08,1)" font-size="13.6" fill="#000" text-anchor="middle" font-family='"DejaVu Sans", "Liberation Sans", sans-serif' >059</text>
<path d="M334.0,477.0 L334.0,457.0 L375.5,457.0" fill="none" stroke="#7fb58a" stroke-width="2" stroke-linejoin="miter" />
<path d="M333.0,476.0 L374.5,476.0 L374.5,456.0" fill="none" stroke="#000" stroke-width="2" stroke-linejoin="miter" />
<text transform="translate(354.8,471.5) scale(1.08,1)" font-size="13.6" fill="#000" text-anchor="middle" font-family='"DejaVu Sans", "Liberation Sans", sans-serif' >070</text>
<path d="M71.0,915.0 L71.0,895.0 L113.0,895.0" fill="none" stroke="#7fb58a" stroke-width="2" stroke-linejoin="miter" />
<path d="M70.0,914.0 L112.0,914.0 L112.0,894.0" fill="none" stroke="#000" stroke-width="2" stroke-linejoin="miter" />
<text transform="translate(92.0,909.5) scale(1.08,1)" font-size="13.6" fill="#000" text-anchor="middle" font-family='"DejaVu Sans", "Liberation Sans", sans-serif' >M</text>
<path d="M1106.0,915.5 L1106.0,895.0 L1148.5,895.0" fill="none" stroke="#7fb58a" stroke-width="2" stroke-linejoin="miter" />
<path d="M1105.0,914.5 L1147.5,914.5 L1147.5,894.0" fill="none" stroke="#000" stroke-width="2" stroke-linejoin="miter" />
<text transform="translate(1127.2,910.0) scale(1.08,1)" font-size="13.6" fill="#000" text-anchor="middle" font-family='"DejaVu Sans", "Liberation Sans", sans-serif' >062</text>
<path d="M1815.0,144.5 L1815.0,123.5 L1856.5,123.5" fill="none" stroke="#7fb58a" stroke-width="2" stroke-linejoin="miter" />
<path d="M1814.0,143.5 L1855.5,143.5 L1855.5,122.5" fill="none" stroke="#000" stroke-width="2" stroke-linejoin="miter" />
<text transform="translate(1835.8,139.0) scale(1.08,1)" font-size="13.6" fill="#000" text-anchor="middle" font-family='"DejaVu Sans", "Liberation Sans", sans-serif' >067</text>
<path d="M1815.0,660.0 L1815.0,639.5 L1856.0,639.5" fill="none" stroke="#7fb58a" stroke-width="2" stroke-linejoin="miter" />
<path d="M1814.0,659.0 L1855.0,659.0 L1855.0,638.5" fill="none" stroke="#000" stroke-width="2" stroke-linejoin="miter" />
<text transform="translate(1835.5,654.5) scale(1.08,1)" font-size="13.6" fill="#000" text-anchor="middle" font-family='"DejaVu Sans", "Liberation Sans", sans-serif' >001</text>
<path d="M1815.5,915.0 L1815.5,895.0 L1856.5,895.0" fill="none" stroke="#7fb58a" stroke-width="2" stroke-linejoin="miter" />
<path d="M1814.5,914.0 L1855.5,914.0 L1855.5,894.0" fill="none" stroke="#000" stroke-width="2" stroke-linejoin="miter" />
<text transform="translate(1836.0,909.5) scale(1.08,1)" font-size="13.6" fill="#000" text-anchor="middle" font-family='"DejaVu Sans", "Liberation Sans", sans-serif' >V</text>
<path d="M1868.0,915.0 L1868.0,895.0 L1909.5,895.0" fill="none" stroke="#7fb58a" stroke-width="2" stroke-linejoin="miter" />
<path d="M1867.0,914.0 L1908.5,914.0 L1908.5,894.0" fill="none" stroke="#000" stroke-width="2" stroke-linejoin="miter" />
<text transform="translate(1888.8,909.5) scale(1.08,1)" font-size="13.6" fill="#000" text-anchor="middle" font-family='"DejaVu Sans", "Liberation Sans", sans-serif' >141</text>
<rect x="390.0" y="450.5" width="143.8" height="40.6" fill="#1a5a22" />
<rect x="385.0" y="445.5" width="143.8" height="40.6" fill="#e8cfa5" />
<path d="M386.0,486.1 L386.0,446.5 L528.8,446.5" fill="none" stroke="#fff6dc" stroke-width="2" stroke-linejoin="miter" />
<path d="M385.0,485.1 L527.8,485.1 L527.8,445.5" fill="none" stroke="#14120a" stroke-width="2" stroke-linejoin="miter" />
<text transform="translate(416.0,458.8) scale(1.225,1)" font-size="13" fill="#000" font-family='"DejaVu Sans", "Liberation Sans", sans-serif' stroke="#000" stroke-width="0.3">BREAKER</text>
<text transform="translate(416.0,474.6) scale(1.17,1)" font-size="13" fill="#000" font-family='"DejaVu Sans", "Liberation Sans", sans-serif' stroke="#000" stroke-width="0.3">Connected</text>
<ellipse cx="401.5" cy="470.5" rx="8.0" ry="5.6" fill="url(#lg)" stroke="#000" stroke-width="1.6"/>
<polygon points="447.0,497.5 555.0,497.5 560.0,503.0 560.0,547.0 555.0,552.5 447.0,552.5 442.0,547.0 442.0,503.0" fill="#808080" stroke="#000" stroke-width="1.8" stroke-linejoin="miter" />
<rect x="457.5" y="498.4" width="87.5" height="53.2" fill="#808080" />
<rect x="458.5" y="500.5" width="85.5" height="3.6" fill="#cccccc" />
<rect x="458.5" y="507.0" width="85.5" height="5.6" fill="#e2e2e2" />
<rect x="458.5" y="504.3" width="85.5" height="2.4" fill="#a8a8a8" />
<path d="M457.5,514.0 L545.0,514.0" fill="none" stroke="#000" stroke-width="1.7" stroke-linejoin="miter" />
<path d="M457.5,523.8 L545.0,523.8" fill="none" stroke="#000" stroke-width="1.7" stroke-linejoin="miter" />
<path d="M457.5,534.4 L545.0,534.4" fill="none" stroke="#000" stroke-width="1.7" stroke-linejoin="miter" />
<path d="M457.5,542.7 L545.0,542.7" fill="none" stroke="#000" stroke-width="1.7" stroke-linejoin="miter" />
<path d="M457.5,547.3 L545.0,547.3" fill="none" stroke="#000" stroke-width="1.7" stroke-linejoin="miter" />
<rect x="458.5" y="515.2" width="85.5" height="3.0" fill="#9a9a9a" />
<path d="M457.5,498.0 L457.5,552.0" fill="none" stroke="#000" stroke-width="1.7" stroke-linejoin="miter" />
<path d="M545.0,498.0 L545.0,552.0" fill="none" stroke="#000" stroke-width="1.7" stroke-linejoin="miter" />
<rect x="445.5" y="500.5" width="3.8" height="19.0" fill="#c4c4c4" />
<rect x="452.0" y="500.5" width="5.0" height="17.0" fill="#b4b4b4" />
<rect x="546.5" y="500.5" width="5.0" height="17.0" fill="#c4c4c4" />
<rect x="560.0" y="522.5" width="29.0" height="4.6" fill="#808080" stroke="#000" stroke-width="1.2" />
<rect x="569.6" y="515.2" width="9.7" height="18.3" fill="#808080" stroke="#000" stroke-width="1.4" />
<rect x="589.0" y="441.0" width="293.5" height="26.0" fill="#787878" stroke="#000" stroke-width="2" />
<path d="M592.1,469.5 V459.3 L601.3,446 H626.9 L633.7,457.5 V469.5 Z" fill="#808080" stroke="#000" stroke-width="1.7"/>
<path d="M640.9,469.5 V459.3 L650.1,446 H675.6 L682.5,457.5 V469.5 Z" fill="#808080" stroke="#000" stroke-width="1.7"/>
<path d="M689.6,469.5 V459.3 L698.8,446 H724.4 L731.2,457.5 V469.5 Z" fill="#808080" stroke="#000" stroke-width="1.7"/>
<path d="M738.4,469.5 V459.3 L747.6,446 H773.1 L780.0,457.5 V469.5 Z" fill="#808080" stroke="#000" stroke-width="1.7"/>
<path d="M787.1,469.5 V459.3 L796.3,446 H821.9 L828.7,457.5 V469.5 Z" fill="#808080" stroke="#000" stroke-width="1.7"/>
<path d="M835.9,469.5 V459.3 L845.1,446 H870.6 L877.5,457.5 V469.5 Z" fill="#808080" stroke="#000" stroke-width="1.7"/>
<rect x="589.0" y="469.5" width="293.5" height="69.5" fill="#a8a8a8" stroke="#000" stroke-width="2" />
<rect x="599.0" y="508.0" width="28.0" height="25.0" fill="#787878" stroke="#000" stroke-width="1.8" rx="6" />
<rect x="647.8" y="508.0" width="28.0" height="25.0" fill="#787878" stroke="#000" stroke-width="1.8" rx="6" />
<rect x="696.6" y="508.0" width="28.0" height="25.0" fill="#787878" stroke="#000" stroke-width="1.8" rx="6" />
<rect x="745.4" y="508.0" width="28.0" height="25.0" fill="#787878" stroke="#000" stroke-width="1.8" rx="6" />
<rect x="794.2" y="508.0" width="28.0" height="25.0" fill="#787878" stroke="#000" stroke-width="1.8" rx="6" />
<rect x="843.0" y="508.0" width="28.0" height="25.0" fill="#787878" stroke="#000" stroke-width="1.8" rx="6" />
<rect x="589.0" y="539.0" width="293.5" height="23.0" fill="#a8a8a8" stroke="#000" stroke-width="2" />
<rect x="589.0" y="562.0" width="292.0" height="56.0" fill="#a8a8a8" stroke="#000" stroke-width="2" />
<rect x="790.5" y="573.5" width="71.0" height="29.0" fill="#d8d8d8" stroke="#000" stroke-width="2.2" />
<ellipse cx="798.5" cy="579.5" rx="4.5" ry="2.8" fill="#d8d8d8" stroke="#000" stroke-width="1.3"/>
<path d="M796.5,579.5 L800.5,579.5" fill="none" stroke="#000" stroke-width="1" stroke-linejoin="miter" />
<ellipse cx="853.5" cy="579.5" rx="4.5" ry="2.8" fill="#d8d8d8" stroke="#000" stroke-width="1.3"/>
<path d="M851.5,579.5 L855.5,579.5" fill="none" stroke="#000" stroke-width="1" stroke-linejoin="miter" />
<ellipse cx="798.5" cy="597.0" rx="4.5" ry="2.8" fill="#d8d8d8" stroke="#000" stroke-width="1.3"/>
<path d="M796.5,597.0 L800.5,597.0" fill="none" stroke="#000" stroke-width="1" stroke-linejoin="miter" />
<ellipse cx="853.5" cy="597.0" rx="4.5" ry="2.8" fill="#d8d8d8" stroke="#000" stroke-width="1.3"/>
<path d="M851.5,597.0 L855.5,597.0" fill="none" stroke="#000" stroke-width="1" stroke-linejoin="miter" />
<text transform="translate(803.0,593.8) scale(1.14,1)" font-size="13.4" fill="#000" font-family='"DejaVu Sans", "Liberation Sans", sans-serif' stroke="#000" stroke-width="0.3">Data</text>
<rect x="565.2" y="567.5" width="16.4" height="51.0" fill="#000" />
<rect x="570.0" y="587.2" width="8.7" height="30.8" fill="#ffc800" />
<rect x="581.6" y="571.2" width="7.5" height="3.8" fill="#bbb" stroke="#222" stroke-width="0.8" />
<rect x="581.6" y="610.6" width="7.5" height="3.8" fill="#bbb" stroke="#222" stroke-width="0.8" />
<polygon points="645.5,191.5 675.5,201.0 675.5,227.5 645.5,238.5" fill="#22702b" stroke="#d6c468" stroke-width="2" stroke-linejoin="miter" />
<rect x="640.5" y="211.0" width="5.0" height="6.0" fill="#22702b" stroke="#d6c468" stroke-width="1.5" />
<path d="M675.5,214.0 L686.5,214.0" fill="none" stroke="#d6c468" stroke-width="2" stroke-linejoin="miter" />
<rect x="680.0" y="211.0" width="6.0" height="6.0" fill="#22702b" stroke="#a8a8a8" stroke-width="1.5" />
<polygon points="716.0,191.5 686.5,201.0 686.5,227.5 716.0,238.5" fill="#22702b" stroke="#a8a8a8" stroke-width="2" stroke-linejoin="miter" />
<rect x="716.0" y="211.0" width="5.0" height="6.0" fill="#22702b" stroke="#a8a8a8" stroke-width="1.5" />
<rect x="858.0" y="303.0" width="54.5" height="49.5" fill="#a8a8a8" stroke="#000" stroke-width="1.6" />
<rect x="866.0" y="290.0" width="38.5" height="76.0" fill="#a8a8a8" stroke="#000" stroke-width="1.6" />
<path d="M872.4,291.0 L872.4,365.0" fill="none" stroke="#000" stroke-width="1.5" stroke-linejoin="miter" />
<path d="M878.8,291.0 L878.8,365.0" fill="none" stroke="#000" stroke-width="1.5" stroke-linejoin="miter" />
<path d="M885.2,291.0 L885.2,365.0" fill="none" stroke="#000" stroke-width="1.5" stroke-linejoin="miter" />
<path d="M891.6,291.0 L891.6,365.0" fill="none" stroke="#000" stroke-width="1.5" stroke-linejoin="miter" />
<path d="M898.0,291.0 L898.0,365.0" fill="none" stroke="#000" stroke-width="1.5" stroke-linejoin="miter" />
<rect x="907.0" y="281.0" width="5.0" height="7.0" fill="#1ebaf5" stroke="#000" stroke-width="1.3" />
<rect x="907.0" y="368.0" width="5.0" height="7.0" fill="#1ebaf5" stroke="#000" stroke-width="1.3" />
<rect x="863.0" y="277.5" width="45.0" height="14.0" fill="#1ebaf5" stroke="#000" stroke-width="1.8" rx="5" />
<rect x="863.0" y="364.0" width="45.0" height="14.0" fill="#1ebaf5" stroke="#000" stroke-width="1.8" rx="5" />
<rect x="954.5" y="303.0" width="54.5" height="49.5" fill="#a8a8a8" stroke="#000" stroke-width="1.6" />
<rect x="962.5" y="290.0" width="38.5" height="76.0" fill="#a8a8a8" stroke="#000" stroke-width="1.6" />
<path d="M968.9,291.0 L968.9,365.0" fill="none" stroke="#000" stroke-width="1.5" stroke-linejoin="miter" />
<path d="M975.3,291.0 L975.3,365.0" fill="none" stroke="#000" stroke-width="1.5" stroke-linejoin="miter" />
<path d="M981.7,291.0 L981.7,365.0" fill="none" stroke="#000" stroke-width="1.5" stroke-linejoin="miter" />
<path d="M988.1,291.0 L988.1,365.0" fill="none" stroke="#000" stroke-width="1.5" stroke-linejoin="miter" />
<path d="M994.5,291.0 L994.5,365.0" fill="none" stroke="#000" stroke-width="1.5" stroke-linejoin="miter" />
<rect x="1003.5" y="281.0" width="5.0" height="7.0" fill="#2e8cf5" stroke="#000" stroke-width="1.3" />
<rect x="1003.5" y="368.0" width="5.0" height="7.0" fill="#2e8cf5" stroke="#000" stroke-width="1.3" />
<rect x="959.5" y="277.5" width="45.0" height="14.0" fill="#2e8cf5" stroke="#000" stroke-width="1.8" rx="5" />
<rect x="959.5" y="364.0" width="45.0" height="14.0" fill="#2e8cf5" stroke="#000" stroke-width="1.8" rx="5" />
<polygon points="1079.5,364.7 1095.0,371.0 1079.5,377.3" fill="#22702b" stroke="#2e8cf5" stroke-width="1.8" stroke-linejoin="miter" />
<polygon points="1110.5,364.7 1095.0,371.0 1110.5,377.3" fill="#22702b" stroke="#2e8cf5" stroke-width="1.8" stroke-linejoin="miter" />
<polygon points="1086.4,359.7 1095.0,369.8 1103.6,359.7" fill="#22702b" stroke="#000" stroke-width="1.8" stroke-linejoin="miter" />
<path d="M1095.0,371.0 L1095.0,377.0" fill="none" stroke="#2e8cf5" stroke-width="1.6" stroke-linejoin="miter" />
<path d="M1088.0,377.0 H1102.0 L1099.0,384.0 H1091.0 Z" fill="#22702b" stroke="#2e8cf5" stroke-width="1.8"/>
<path d="M1095.0,385.0 L1095.0,396.0" fill="none" stroke="#000" stroke-width="1.9" stroke-linejoin="miter" stroke-dasharray="3.2 3"/>
<path d="M982.5,393.0 L982.5,406.0 L1043.0,406.0" fill="none" stroke="#000" stroke-width="1.9" stroke-linejoin="miter" stroke-dasharray="3.2 3"/>
<rect x="1047.7" y="400.8" width="93.1" height="23.0" fill="#1a5a22" />
<rect x="1043.7" y="396.8" width="93.1" height="23.0" fill="#e8cfa5" />
<path d="M1044.7,419.8 L1044.7,397.8 L1136.8,397.8" fill="none" stroke="#fff6dc" stroke-width="2" stroke-linejoin="miter" />
<path d="M1043.7,418.8 L1135.8,418.8 L1135.8,396.8" fill="none" stroke="#14120a" stroke-width="2" stroke-linejoin="miter" />
<rect x="1047.7" y="399.2" width="85.3" height="17.0" fill="#b39c6c" />
<path d="M1048.7,416.2 L1048.7,400.2 L1133.0,400.2" fill="none" stroke="#000" stroke-width="2.2" stroke-linejoin="miter" />
<path d="M1047.7,415.2 L1132.0,415.2 L1132.0,399.2" fill="none" stroke="#000" stroke-width="2.2" stroke-linejoin="miter" />
<polygon points="1052.2,403.5 1059.2,408.0 1052.2,412.5" fill="#000" stroke-linejoin="miter" />
<text transform="translate(1090.0,411.9) scale(1.17,1)" font-size="13.0" fill="#000" text-anchor="middle" font-family='"DejaVu Sans", "Liberation Sans", sans-serif' stroke="#000" stroke-width="0.3">0.60</text>
<ellipse cx="1192.5" cy="152.0" rx="20.5" ry="14.5" fill="#22702b" stroke="#000" stroke-width="2"/>
<path d="M1192.5,143.5 L1192.5,156.0" fill="none" stroke="#000" stroke-width="2" stroke-linejoin="miter" />
<polygon points="1182.0,153.7 1203.0,153.7 1192.5,162.5" fill="#000" stroke-linejoin="miter" />
<rect x="1174.0" y="185.0" width="38.0" height="40.5" fill="#8a8a8a" stroke="#222" stroke-width="1.6" />
<path d="M1187.0,191.3 L1270.0,191.3" fill="none" stroke="#ffff00" stroke-width="2" stroke-linejoin="miter" />
<path d="M1187.0,191.3 L1200.5,194.5 L1186.0,198.0 L1200.5,201.5 L1186.0,205.0 L1200.5,208.5 L1186.0,212.0 L1200.5,215.5 L1186.0,219.3 L1222.0,219.3" fill="none" stroke="#ffff00" stroke-width="2" stroke-linejoin="miter" />
<path d="M1192.5,184.0 L1192.5,227.0" fill="none" stroke="#1ebaf5" stroke-width="2.1" stroke-linejoin="miter" />
<ellipse cx="1227.0" cy="219.0" rx="5.5" ry="4.5" fill="#ffff00"/>
<ellipse cx="1253.0" cy="219.0" rx="5.5" ry="4.5" fill="#ffff00"/>
<path d="M1240.0,209.0 L1251.0,218.0" fill="none" stroke="#ffff00" stroke-width="2" stroke-linejoin="miter" />
<path d="M1253.0,219.0 L1270.0,219.0" fill="none" stroke="#ffff00" stroke-width="2" stroke-linejoin="miter" />
<rect x="1233.0" y="196.0" width="8.0" height="8.0" fill="#22702b" stroke="#fff" stroke-width="1.8" />
<path d="M1244.0,200.0 L1270.0,200.0" fill="none" stroke="#000" stroke-width="1.9" stroke-linejoin="miter" stroke-dasharray="3.2 3"/>
<polygon points="1184.0,318.0 1192.5,329.0 1201.0,318.0" fill="#22702b" stroke="#1ebaf5" stroke-width="1.8" stroke-linejoin="miter" />
<polygon points="1184.0,340.0 1192.5,329.0 1201.0,340.0" fill="#1ebaf5" stroke="#1ebaf5" stroke-width="1.8" stroke-linejoin="miter" />
<rect x="1275.5" y="135.0" width="158.8" height="95.3" fill="#1a5a22" />
<rect x="1270.5" y="130.0" width="158.8" height="95.3" fill="#e8cfa5" />
<path d="M1271.5,225.3 L1271.5,131.0 L1429.3,131.0" fill="none" stroke="#fff6dc" stroke-width="2" stroke-linejoin="miter" />
<path d="M1270.5,224.3 L1428.3,224.3 L1428.3,130.0" fill="none" stroke="#14120a" stroke-width="2" stroke-linejoin="miter" />
<text transform="translate(1298.0,146.0) scale(1.16,1)" font-size="13.4" fill="#000" font-family='"DejaVu Sans", "Liberation Sans", sans-serif' stroke="#000" stroke-width="0.3">Preheater</text>
<rect x="1282.0" y="157.0" width="64.5" height="15.0" fill="#b39c6c" />
<path d="M1283.0,172.0 L1283.0,158.0 L1346.5,158.0" fill="none" stroke="#2a2414" stroke-width="2.4" stroke-linejoin="miter" />
<path d="M1282.0,171.0 L1345.5,171.0 L1345.5,157.0" fill="none" stroke="#fff6dc" stroke-width="2" stroke-linejoin="miter" />
<clipPath id="c440"><rect x="1284" y="159" width="60.5" height="11.5"/></clipPath>
<g clip-path="url(#c440)">
<text x="1315.2" y="171.1" font-size="14" fill="#ffff00" text-anchor="middle" font-family='"Liberation Sans", "DejaVu Sans", sans-serif' >AUTO</text>
</g>
<rect x="1349.0" y="157.0" width="65.0" height="15.0" fill="#e8cfa5" />
<path d="M1350.0,172.0 L1350.0,158.0 L1414.0,158.0" fill="none" stroke="#fff6dc" stroke-width="2" stroke-linejoin="miter" />
<path d="M1349.0,171.0 L1413.0,171.0 L1413.0,157.0" fill="none" stroke="#2a2414" stroke-width="2.4" stroke-linejoin="miter" />
<clipPath id="c447"><rect x="1351" y="159" width="61" height="11.5"/></clipPath>
<g clip-path="url(#c447)">
<text x="1382.5" y="171.1" font-size="14" fill="#000" text-anchor="middle" font-family='"Liberation Sans", "DejaVu Sans", sans-serif' >MAN</text>
</g>
<rect x="1282.0" y="178.0" width="64.5" height="15.0" fill="#e8cfa5" />
<path d="M1283.0,193.0 L1283.0,179.0 L1346.5,179.0" fill="none" stroke="#fff6dc" stroke-width="2" stroke-linejoin="miter" />
<path d="M1282.0,192.0 L1345.5,192.0 L1345.5,178.0" fill="none" stroke="#2a2414" stroke-width="2.4" stroke-linejoin="miter" />
<clipPath id="c454"><rect x="1284" y="180" width="60.5" height="11.5"/></clipPath>
<g clip-path="url(#c454)">
<text x="1315.2" y="190.8" font-size="14" fill="#000" text-anchor="middle" font-family='"Liberation Sans", "DejaVu Sans", sans-serif' >ON</text>
</g>
<rect x="1349.0" y="178.0" width="65.0" height="15.0" fill="#b39c6c" />
<path d="M1350.0,193.0 L1350.0,179.0 L1414.0,179.0" fill="none" stroke="#2a2414" stroke-width="2.4" stroke-linejoin="miter" />
<path d="M1349.0,192.0 L1413.0,192.0 L1413.0,178.0" fill="none" stroke="#fff6dc" stroke-width="2" stroke-linejoin="miter" />
<clipPath id="c461"><rect x="1351" y="180" width="61" height="11.5"/></clipPath>
<g clip-path="url(#c461)">
<text x="1382.5" y="190.8" font-size="14" fill="#ffff00" text-anchor="middle" font-family='"Liberation Sans", "DejaVu Sans", sans-serif' >OFF</text>
</g>
<text transform="translate(1283.0,213.0) scale(1.16,1)" font-size="13.4" fill="#000" font-family='"DejaVu Sans", "Liberation Sans", sans-serif' stroke="#000" stroke-width="0.3">Sp.</text>
<rect x="1330.0" y="200.0" width="86.5" height="17.0" fill="#b39c6c" />
<path d="M1331.0,217.0 L1331.0,201.0 L1416.5,201.0" fill="none" stroke="#000" stroke-width="2.2" stroke-linejoin="miter" />
<path d="M1330.0,216.0 L1415.5,216.0 L1415.5,200.0" fill="none" stroke="#000" stroke-width="2.2" stroke-linejoin="miter" />
<polygon points="1334.5,204.3 1341.5,208.8 1334.5,213.3" fill="#000" stroke-linejoin="miter" />
<text transform="translate(1373.0,212.7) scale(1.17,1)" font-size="13.0" fill="#000" text-anchor="middle" font-family='"DejaVu Sans", "Liberation Sans", sans-serif' stroke="#000" stroke-width="0.3">75.00</text>
<rect x="1495.1" y="129.3" width="16.8" height="51.3" fill="#000" />
<rect x="1500.0" y="158.2" width="9.0" height="21.6" fill="#2e8cf5" />
<rect x="1511.9" y="134.0" width="12.5" height="4.4" fill="#b4b4b4" stroke="#222" stroke-width="0.9" />
<rect x="1511.9" y="171.0" width="12.5" height="4.4" fill="#b4b4b4" stroke="#222" stroke-width="0.9" />
<polygon points="1518.8,127.8 1581.0,127.8 1586.5,132.6 1524.0,132.6" fill="#4a4a4a" stroke="#000" stroke-width="1.4" stroke-linejoin="miter" />
<polygon points="1518.8,127.8 1524.0,132.6 1524.0,180.5 1518.8,175.8" fill="#4a4a4a" stroke="#000" stroke-width="1.4" stroke-linejoin="miter" />
<rect x="1519.8" y="138.4" width="3.4" height="32.6" fill="#9a9a9a" />
<rect x="1523.6" y="132.0" width="63.4" height="48.8" fill="#000" />
<rect x="1524.8" y="133.2" width="60.3" height="45.8" fill="#a8a8a8" />
<path d="M1522.4,184.5 L1514.4,184.5 L1514.4,192.5" fill="none" stroke="#8fc09a" stroke-width="2" stroke-linejoin="miter" />
<path d="M1545.7,184.5 L1553.7,184.5 L1553.7,192.5" fill="none" stroke="#8fc09a" stroke-width="2" stroke-linejoin="miter" />
<path d="M1522.4,211.6 L1514.4,211.6 L1514.4,203.6" fill="none" stroke="#8fc09a" stroke-width="2" stroke-linejoin="miter" />
<path d="M1545.7,211.6 L1553.7,211.6 L1553.7,203.6" fill="none" stroke="#8fc09a" stroke-width="2" stroke-linejoin="miter" />
<polygon points="1525.7,187.4 1534.2,198.4 1542.7,187.4" fill="#22702b" stroke="#000" stroke-width="2" stroke-linejoin="miter" />
<polygon points="1525.7,209.4 1534.2,198.4 1542.7,209.4" fill="#22702b" stroke="#000" stroke-width="2" stroke-linejoin="miter" />
<path d="M1534.2,198.4 L1544.2,198.4" fill="none" stroke="#000" stroke-width="2" stroke-linejoin="miter" />
<path d="M1544.2,195.4 L1544.2,201.4" fill="none" stroke="#000" stroke-width="2" stroke-linejoin="miter" />
<path d="M1623.5,119.5 L1615.5,119.5 L1615.5,127.5" fill="none" stroke="#8fc09a" stroke-width="2" stroke-linejoin="miter" />
<path d="M1646.6,119.5 L1654.6,119.5 L1654.6,127.5" fill="none" stroke="#8fc09a" stroke-width="2" stroke-linejoin="miter" />
<path d="M1623.5,146.6 L1615.5,146.6 L1615.5,138.6" fill="none" stroke="#8fc09a" stroke-width="2" stroke-linejoin="miter" />
<path d="M1646.6,146.6 L1654.6,146.6 L1654.6,138.6" fill="none" stroke="#8fc09a" stroke-width="2" stroke-linejoin="miter" />
<polygon points="1619.3,126.9 1635.3,133.0 1619.3,139.1" fill="#22702b" stroke="#000" stroke-width="1.8" stroke-linejoin="miter" />
<polygon points="1651.3,126.9 1635.3,133.0 1651.3,139.1" fill="#22702b" stroke="#000" stroke-width="1.8" stroke-linejoin="miter" />
<path d="M1635.0,133.0 L1635.0,124.5" fill="none" stroke="#000" stroke-width="1.8" stroke-linejoin="miter" />
<path d="M1630.5,124.5 L1639.5,124.5" fill="none" stroke="#000" stroke-width="1.8" stroke-linejoin="miter" />
<g transform="translate(1567.0,404.5) rotate(32.0)">
<path d="M0,-3.1 H38.5 L42.5,-1.6 V1.6 L38.5,3.1 H0 Z" fill="#7c7c7c" stroke="#111" stroke-width="1.4"/>
<path d="M1.0,-1.3 L37.5,-1.3" fill="none" stroke="#b8b8b8" stroke-width="1.6" stroke-linejoin="miter" />
<path d="M38.5,-3.1 L38.5,3.1" fill="none" stroke="#1a1a1a" stroke-width="1" stroke-linejoin="miter" />
</g>
<g transform="translate(1587.9,417.6) rotate(-28.0)">
<rect x="-16.0" y="-3.8" width="32.0" height="7.6" fill="#7c7c7c" stroke="#000" stroke-width="1.6" />
<path d="M-14.5,-0.3 L14.5,-0.3" fill="none" stroke="#c8c8c8" stroke-width="1.6" stroke-linejoin="miter" />
</g>
<ellipse cx="1549.5" cy="392.0" rx="27.0" ry="18.5" fill="#22702b" stroke="#1ebaf5" stroke-width="5"/>
<path d="M1541.5,392.0 L1562.5,392.0" fill="none" stroke="#1ebaf5" stroke-width="4.5" stroke-linejoin="round" />
<polygon points="1532.5,392.0 1547.5,382.5 1547.5,401.5" fill="#1ebaf5" stroke-linejoin="miter" />
<polygon points="1294.0,385.5 1310.0,392.0 1294.0,398.5" fill="#1ebaf5" stroke="#1ebaf5" stroke-width="1.5" stroke-linejoin="miter" />
<polygon points="1325.5,385.5 1310.0,392.0 1325.5,398.5" fill="#22702b" stroke="#1ebaf5" stroke-width="1.8" stroke-linejoin="miter" />
<polygon points="1691.5,385.7 1707.0,392.0 1691.5,398.3" fill="#22702b" stroke="#1ebaf5" stroke-width="1.8" stroke-linejoin="miter" />
<polygon points="1699.0,380.5 1707.0,392.0 1715.0,380.5" fill="#22702b" stroke="#1ebaf5" stroke-width="1.8" stroke-linejoin="miter" />
<polygon points="1699.0,403.5 1707.0,392.0 1715.0,403.5" fill="#22702b" stroke="#1ebaf5" stroke-width="1.8" stroke-linejoin="miter" />
<path d="M1707.0,392.0 L1719.0,392.0" fill="none" stroke="#1ebaf5" stroke-width="1.6" stroke-linejoin="miter" />
<path d="M1719.0,386.5 L1726.0,389.0 V395.0 L1719.0,397.5 Z" fill="#22702b" stroke="#1ebaf5" stroke-width="1.8"/>
<path d="M1727.0,392.0 L1758.0,392.0" fill="none" stroke="#000" stroke-width="1.9" stroke-linejoin="miter" stroke-dasharray="3.2 3"/>
<rect x="1763.0" y="373.5" width="93.8" height="42.3" fill="#1a5a22" />
<rect x="1758.0" y="368.5" width="93.8" height="42.3" fill="#e8cfa5" />
<path d="M1759.0,410.8 L1759.0,369.5 L1851.8,369.5" fill="none" stroke="#fff6dc" stroke-width="2" stroke-linejoin="miter" />
<path d="M1758.0,409.8 L1850.8,409.8 L1850.8,368.5" fill="none" stroke="#14120a" stroke-width="2" stroke-linejoin="miter" />
<text transform="translate(1770.5,384.8) scale(1.16,1)" font-size="13.0" fill="#000" font-family='"DejaVu Sans", "Liberation Sans", sans-serif' stroke="#000" stroke-width="0.3">Setpt.</text>
<rect x="1762.5" y="389.5" width="85.0" height="18.0" fill="#b39c6c" />
<path d="M1763.5,407.5 L1763.5,390.5 L1847.5,390.5" fill="none" stroke="#000" stroke-width="2.2" stroke-linejoin="miter" />
<path d="M1762.5,406.5 L1846.5,406.5 L1846.5,389.5" fill="none" stroke="#000" stroke-width="2.2" stroke-linejoin="miter" />
<polygon points="1767.0,394.3 1774.0,398.8 1767.0,403.3" fill="#000" stroke-linejoin="miter" />
<text transform="translate(1804.7,403.2) scale(1.17,1)" font-size="13.0" fill="#000" text-anchor="middle" font-family='"DejaVu Sans", "Liberation Sans", sans-serif' stroke="#000" stroke-width="0.3">85.00</text>
<g transform="translate(1478.0,474.0) rotate(146.9)">
<path d="M0,-3.1 H39.0 L43.0,-1.6 V1.6 L39.0,3.1 H0 Z" fill="#7c7c7c" stroke="#111" stroke-width="1.4"/>
<path d="M1.0,-1.3 L38.0,-1.3" fill="none" stroke="#b8b8b8" stroke-width="1.6" stroke-linejoin="miter" />
<path d="M39.0,-3.1 L39.0,3.1" fill="none" stroke="#1a1a1a" stroke-width="1" stroke-linejoin="miter" />
</g>
<g transform="translate(1457.1,487.6) rotate(25.0)">
<rect x="-16.0" y="-3.8" width="32.0" height="7.6" fill="#7c7c7c" stroke="#000" stroke-width="1.6" />
<path d="M-14.5,-0.3 L14.5,-0.3" fill="none" stroke="#c8c8c8" stroke-width="1.6" stroke-linejoin="miter" />
</g>
<ellipse cx="1493.5" cy="461.5" rx="27.0" ry="18.5" fill="#22702b" stroke="#2e8cf5" stroke-width="5"/>
<path d="M1493.5,470.5 L1493.5,456.5" fill="none" stroke="#2e8cf5" stroke-width="4.5" stroke-linejoin="round" />
<polygon points="1493.5,449.5 1480.5,461.5 1506.5,461.5" fill="#2e8cf5" stroke-linejoin="miter" />
<polygon points="1478.0,550.2 1493.5,556.5 1478.0,562.8" fill="#22702b" stroke="#2e8cf5" stroke-width="1.8" stroke-linejoin="miter" />
<polygon points="1485.5,545.0 1493.5,556.5 1501.5,545.0" fill="#22702b" stroke="#2e8cf5" stroke-width="1.8" stroke-linejoin="miter" />
<polygon points="1485.5,568.0 1493.5,556.5 1501.5,568.0" fill="#22702b" stroke="#2e8cf5" stroke-width="1.8" stroke-linejoin="miter" />
<path d="M1493.5,556.5 L1505.5,556.5" fill="none" stroke="#2e8cf5" stroke-width="1.6" stroke-linejoin="miter" />
<path d="M1505.5,551.0 L1512.5,553.5 V559.5 L1505.5,562.0 Z" fill="#22702b" stroke="#2e8cf5" stroke-width="1.8"/>
<path d="M1514.0,556.5 L1537.0,556.5" fill="none" stroke="#000" stroke-width="1.9" stroke-linejoin="miter" stroke-dasharray="3.2 3"/>
<rect x="1542.0" y="540.0" width="92.3" height="41.8" fill="#1a5a22" />
<rect x="1537.0" y="535.0" width="92.3" height="41.8" fill="#e8cfa5" />
<path d="M1538.0,576.8 L1538.0,536.0 L1629.3,536.0" fill="none" stroke="#fff6dc" stroke-width="2" stroke-linejoin="miter" />
<path d="M1537.0,575.8 L1628.3,575.8 L1628.3,535.0" fill="none" stroke="#14120a" stroke-width="2" stroke-linejoin="miter" />
<text transform="translate(1549.5,551.3) scale(1.16,1)" font-size="13.0" fill="#000" font-family='"DejaVu Sans", "Liberation Sans", sans-serif' stroke="#000" stroke-width="0.3">Setpt.</text>
<rect x="1541.5" y="556.0" width="83.5" height="17.5" fill="#b39c6c" />
<path d="M1542.5,573.5 L1542.5,557.0 L1625.0,557.0" fill="none" stroke="#000" stroke-width="2.2" stroke-linejoin="miter" />
<path d="M1541.5,572.5 L1624.0,572.5 L1624.0,556.0" fill="none" stroke="#000" stroke-width="2.2" stroke-linejoin="miter" />
<polygon points="1546.0,560.5 1553.0,565.0 1546.0,569.5" fill="#000" stroke-linejoin="miter" />
<text transform="translate(1583.0,569.2) scale(1.17,1)" font-size="13.0" fill="#000" text-anchor="middle" font-family='"DejaVu Sans", "Liberation Sans", sans-serif' stroke="#000" stroke-width="0.3">38.00</text>
<rect x="1260.0" y="476.7" width="8.5" height="5.5" fill="#f5c518" stroke="#000" stroke-width="1.4" />
<rect x="1345.5" y="476.7" width="8.5" height="5.5" fill="#f5c518" stroke="#000" stroke-width="1.4" />
<rect x="1255.5" y="450.0" width="103.0" height="27.7" fill="#000" />
<rect x="1256.5" y="451.6" width="101.0" height="3.2" fill="#f5c518" />
<rect x="1256.5" y="456.9" width="101.0" height="3.2" fill="#f5c518" />
<rect x="1256.5" y="462.2" width="101.0" height="3.2" fill="#f5c518" />
<rect x="1256.5" y="467.6" width="101.0" height="3.2" fill="#f5c518" />
<rect x="1256.5" y="472.9" width="101.0" height="3.2" fill="#f5c518" />
<polygon points="1236.5,448.0 1240.5,448.0 1240.5,445.0 1249.0,445.0 1249.0,448.0 1253.0,448.0 1256.5,451.5 1256.5,477.0 1253.0,480.5 1236.5,480.5 1233.0,477.0 1233.0,451.5" fill="#2e8cf5" stroke="#000" stroke-width="2" stroke-linejoin="miter" />
<polygon points="1361.0,448.0 1365.0,448.0 1365.0,445.0 1373.5,445.0 1373.5,448.0 1377.5,448.0 1381.0,451.5 1381.0,477.0 1377.5,480.5 1361.0,480.5 1357.5,477.0 1357.5,451.5" fill="#2e8cf5" stroke="#000" stroke-width="2" stroke-linejoin="miter" />
<rect x="1615.7" y="448.7" width="8.6" height="4.0" fill="#1ebaf5" stroke="#000" stroke-width="1.6" />
<rect x="1702.2" y="448.7" width="8.6" height="4.0" fill="#1ebaf5" stroke="#000" stroke-width="1.6" />
<rect x="1612.0" y="450.7" width="102.0" height="27.0" fill="#000" />
<rect x="1613.0" y="452.3" width="100.0" height="3.1" fill="#1ebaf5" />
<rect x="1613.0" y="457.5" width="100.0" height="3.1" fill="#1ebaf5" />
<rect x="1613.0" y="462.7" width="100.0" height="3.1" fill="#1ebaf5" />
<rect x="1613.0" y="467.8" width="100.0" height="3.1" fill="#1ebaf5" />
<rect x="1613.0" y="473.0" width="100.0" height="3.1" fill="#1ebaf5" />
<polygon points="1593.0,448.7 1609.5,448.7 1613.0,452.2 1613.0,477.0 1609.5,480.5 1605.5,480.5 1605.5,483.7 1597.0,483.7 1597.0,480.5 1593.0,480.5 1589.5,477.0 1589.5,452.2" fill="#00ff00" stroke="#000" stroke-width="2" stroke-linejoin="miter" />
<polygon points="1716.5,448.7 1733.0,448.7 1736.5,452.2 1736.5,477.0 1733.0,480.5 1729.0,480.5 1729.0,483.7 1720.5,483.7 1720.5,480.5 1716.5,480.5 1713.0,477.0 1713.0,452.2" fill="#00ff00" stroke="#000" stroke-width="2" stroke-linejoin="miter" />
<rect x="1402.7" y="607.0" width="8.6" height="4.0" fill="#2e8cf5" stroke="#000" stroke-width="1.6" />
<rect x="1489.2" y="607.0" width="8.6" height="4.0" fill="#2e8cf5" stroke="#000" stroke-width="1.6" />
<rect x="1397.5" y="609.0" width="104.0" height="27.7" fill="#000" />
<rect x="1398.5" y="610.6" width="102.0" height="3.2" fill="#2e8cf5" />
<rect x="1398.5" y="615.9" width="102.0" height="3.2" fill="#2e8cf5" />
<rect x="1398.5" y="621.2" width="102.0" height="3.2" fill="#2e8cf5" />
<rect x="1398.5" y="626.6" width="102.0" height="3.2" fill="#2e8cf5" />
<rect x="1398.5" y="631.9" width="102.0" height="3.2" fill="#2e8cf5" />
<polygon points="1378.5,607.0 1395.0,607.0 1398.5,610.5 1398.5,636.0 1395.0,639.5 1391.0,639.5 1391.0,642.7 1382.5,642.7 1382.5,639.5 1378.5,639.5 1375.0,636.0 1375.0,610.5" fill="#00ff00" stroke="#000" stroke-width="2" stroke-linejoin="miter" />
<polygon points="1504.0,607.0 1520.5,607.0 1524.0,610.5 1524.0,636.0 1520.5,639.5 1516.5,639.5 1516.5,642.7 1508.0,642.7 1508.0,639.5 1504.0,639.5 1500.5,636.0 1500.5,610.5" fill="#00ff00" stroke="#000" stroke-width="2" stroke-linejoin="miter" />
<polygon points="1256.0,505.0 1264.0,516.5 1272.0,505.0" fill="#22702b" stroke="#f5c518" stroke-width="1.8" stroke-linejoin="miter" />
<polygon points="1256.0,528.0 1264.0,516.5 1272.0,528.0" fill="#22702b" stroke="#f5c518" stroke-width="1.8" stroke-linejoin="miter" />
<polygon points="1279.5,510.2 1264.0,516.5 1279.5,522.8" fill="#22702b" stroke="#f5c518" stroke-width="1.8" stroke-linejoin="miter" />
<path d="M1264.0,516.5 L1252.0,516.5" fill="none" stroke="#f5c518" stroke-width="1.6" stroke-linejoin="miter" />
<path d="M1252.0,511.0 L1245.0,513.5 V519.5 L1252.0,522.0 Z" fill="#22702b" stroke="#f5c518" stroke-width="1.8"/>
<path d="M1213.0,516.5 L1244.0,516.5" fill="none" stroke="#000" stroke-width="1.9" stroke-linejoin="miter" stroke-dasharray="3.2 3"/>
<rect x="1125.0" y="501.5" width="93.8" height="41.3" fill="#1a5a22" />
<rect x="1120.0" y="496.5" width="93.8" height="41.3" fill="#e8cfa5" />
<path d="M1121.0,537.8 L1121.0,497.5 L1213.8,497.5" fill="none" stroke="#fff6dc" stroke-width="2" stroke-linejoin="miter" />
<path d="M1120.0,536.8 L1212.8,536.8 L1212.8,496.5" fill="none" stroke="#14120a" stroke-width="2" stroke-linejoin="miter" />
<text transform="translate(1132.5,512.8) scale(1.16,1)" font-size="13.0" fill="#000" font-family='"DejaVu Sans", "Liberation Sans", sans-serif' stroke="#000" stroke-width="0.3">Setpt.</text>
<rect x="1124.5" y="517.5" width="85.0" height="17.0" fill="#b39c6c" />
<path d="M1125.5,534.5 L1125.5,518.5 L1209.5,518.5" fill="none" stroke="#000" stroke-width="2.2" stroke-linejoin="miter" />
<path d="M1124.5,533.5 L1208.5,533.5 L1208.5,517.5" fill="none" stroke="#000" stroke-width="2.2" stroke-linejoin="miter" />
<polygon points="1129.0,521.8 1136.0,526.3 1129.0,530.8" fill="#000" stroke-linejoin="miter" />
<text transform="translate(1166.7,530.2) scale(1.17,1)" font-size="13.0" fill="#000" text-anchor="middle" font-family='"DejaVu Sans", "Liberation Sans", sans-serif' stroke="#000" stroke-width="0.3">0.00</text>
<polygon points="1214.5,571.0 1223.0,582.0 1231.5,571.0" fill="#22702b" stroke="#f5c518" stroke-width="2" stroke-linejoin="miter" />
<polygon points="1214.5,593.0 1223.0,582.0 1231.5,593.0" fill="#22702b" stroke="#f5c518" stroke-width="2" stroke-linejoin="miter" />
<polygon points="1300.5,571.0 1309.0,582.0 1317.5,571.0" fill="#22702b" stroke="#f5c518" stroke-width="2" stroke-linejoin="miter" />
<polygon points="1300.5,593.0 1309.0,582.0 1317.5,593.0" fill="#22702b" stroke="#f5c518" stroke-width="2" stroke-linejoin="miter" />
<rect x="1207.5" y="616.0" width="32.0" height="22.0" fill="#22702b" stroke="#f5c518" stroke-width="2.2" />
<path d="M1207.5,616.0 L1239.5,638.0" fill="none" stroke="#f5c518" stroke-width="2" stroke-linejoin="miter" />
<path d="M1207.5,638.0 L1239.5,616.0" fill="none" stroke="#f5c518" stroke-width="2" stroke-linejoin="miter" />
<rect x="1294.0" y="616.0" width="32.0" height="22.0" fill="#22702b" stroke="#f5c518" stroke-width="2.2" />
<path d="M1294.0,616.0 L1326.0,638.0" fill="none" stroke="#f5c518" stroke-width="2" stroke-linejoin="miter" />
<path d="M1294.0,638.0 L1326.0,616.0" fill="none" stroke="#f5c518" stroke-width="2" stroke-linejoin="miter" />
<path d="M1210.0,657.0 L1203.0,657.0 L1203.0,664.0" fill="none" stroke="#8fc09a" stroke-width="2" stroke-linejoin="miter" />
<path d="M1235.5,657.0 L1242.5,657.0 L1242.5,664.0" fill="none" stroke="#8fc09a" stroke-width="2" stroke-linejoin="miter" />
<path d="M1210.0,684.0 L1203.0,684.0 L1203.0,677.0" fill="none" stroke="#8fc09a" stroke-width="2" stroke-linejoin="miter" />
<path d="M1235.5,684.0 L1242.5,684.0 L1242.5,677.0" fill="none" stroke="#8fc09a" stroke-width="2" stroke-linejoin="miter" />
<polygon points="1214.5,659.5 1223.0,670.5 1231.5,659.5" fill="#22702b" stroke="#f5c518" stroke-width="2" stroke-linejoin="miter" />
<polygon points="1214.5,681.5 1223.0,670.5 1231.5,681.5" fill="#22702b" stroke="#f5c518" stroke-width="2" stroke-linejoin="miter" />
<path d="M1223.0,670.5 L1233.0,670.5" fill="none" stroke="#f5c518" stroke-width="2" stroke-linejoin="miter" />
<path d="M1233.0,667.5 L1233.0,673.5" fill="none" stroke="#f5c518" stroke-width="2" stroke-linejoin="miter" />
<path d="M1296.0,657.0 L1289.0,657.0 L1289.0,664.0" fill="none" stroke="#8fc09a" stroke-width="2" stroke-linejoin="miter" />
<path d="M1322.0,657.0 L1329.0,657.0 L1329.0,664.0" fill="none" stroke="#8fc09a" stroke-width="2" stroke-linejoin="miter" />
<path d="M1296.0,684.0 L1289.0,684.0 L1289.0,677.0" fill="none" stroke="#8fc09a" stroke-width="2" stroke-linejoin="miter" />
<path d="M1322.0,684.0 L1329.0,684.0 L1329.0,677.0" fill="none" stroke="#8fc09a" stroke-width="2" stroke-linejoin="miter" />
<polygon points="1300.5,659.5 1309.0,670.5 1317.5,659.5" fill="#22702b" stroke="#000" stroke-width="2" stroke-linejoin="miter" />
<polygon points="1300.5,681.5 1309.0,670.5 1317.5,681.5" fill="#22702b" stroke="#000" stroke-width="2" stroke-linejoin="miter" />
<path d="M1309.0,670.5 L1319.0,670.5" fill="none" stroke="#000" stroke-width="2" stroke-linejoin="miter" />
<path d="M1319.0,667.5 L1319.0,673.5" fill="none" stroke="#000" stroke-width="2" stroke-linejoin="miter" />
<polygon points="1207.5,652.5 1214.0,644.0 1220.5,652.5" fill="#22702b" stroke="#00ff00" stroke-width="1.8" stroke-linejoin="miter" />
<polygon points="239.0,292.0 246.5,282.0 254.0,292.0" fill="#22702b" stroke="#00ff00" stroke-width="1.8" stroke-linejoin="miter" />
<path d="M194.5,630.0 L187.5,630.0 L187.5,637.0" fill="none" stroke="#8fc09a" stroke-width="2" stroke-linejoin="miter" />
<path d="M219.0,630.0 L226.0,630.0 L226.0,637.0" fill="none" stroke="#8fc09a" stroke-width="2" stroke-linejoin="miter" />
<path d="M194.5,657.5 L187.5,657.5 L187.5,650.5" fill="none" stroke="#8fc09a" stroke-width="2" stroke-linejoin="miter" />
<path d="M219.0,657.5 L226.0,657.5 L226.0,650.5" fill="none" stroke="#8fc09a" stroke-width="2" stroke-linejoin="miter" />
<polygon points="190.5,637.3 206.0,643.5 190.5,649.7" fill="#22702b" stroke="#000" stroke-width="1.8" stroke-linejoin="miter" />
<polygon points="221.5,637.3 206.0,643.5 221.5,649.7" fill="#22702b" stroke="#000" stroke-width="1.8" stroke-linejoin="miter" />
<path d="M206.0,643.5 L206.0,635.0" fill="none" stroke="#000" stroke-width="1.8" stroke-linejoin="miter" />
<path d="M201.5,635.0 L210.5,635.0" fill="none" stroke="#000" stroke-width="1.8" stroke-linejoin="miter" />
<polygon points="982.0,657.0 990.5,668.0 999.0,657.0" fill="#22702b" stroke="#f5c518" stroke-width="2" stroke-linejoin="miter" />
<polygon points="982.0,679.0 990.5,668.0 999.0,679.0" fill="#22702b" stroke="#f5c518" stroke-width="2" stroke-linejoin="miter" />
<path d="M990.5,668.0 L998.0,668.0 L1000.0,664.0 L1003.0,671.0 L1006.0,665.0 L1009.0,669.0" fill="none" stroke="#f5c518" stroke-width="1.6" stroke-linejoin="miter" />
<path d="M1112.0,810.5 L1105.0,810.5 L1105.0,817.5" fill="none" stroke="#8fc09a" stroke-width="2" stroke-linejoin="miter" />
<path d="M1137.5,810.5 L1144.5,810.5 L1144.5,817.5" fill="none" stroke="#8fc09a" stroke-width="2" stroke-linejoin="miter" />
<path d="M1112.0,838.0 L1105.0,838.0 L1105.0,831.0" fill="none" stroke="#8fc09a" stroke-width="2" stroke-linejoin="miter" />
<path d="M1137.5,838.0 L1144.5,838.0 L1144.5,831.0" fill="none" stroke="#8fc09a" stroke-width="2" stroke-linejoin="miter" />
<polygon points="1116.5,813.5 1125.0,824.5 1133.5,813.5" fill="#22702b" stroke="#000" stroke-width="2" stroke-linejoin="miter" />
<polygon points="1116.5,835.5 1125.0,824.5 1133.5,835.5" fill="#22702b" stroke="#000" stroke-width="2" stroke-linejoin="miter" />
<path d="M1125.0,824.5 L1135.0,824.5" fill="none" stroke="#000" stroke-width="2" stroke-linejoin="miter" />
<path d="M1135.0,821.5 L1135.0,827.5" fill="none" stroke="#000" stroke-width="2" stroke-linejoin="miter" />
<polygon points="675.0,721.8 690.5,728.0 675.0,734.2" fill="#22702b" stroke="#f5c518" stroke-width="1.8" stroke-linejoin="miter" />
<polygon points="706.0,721.8 690.5,728.0 706.0,734.2" fill="#22702b" stroke="#f5c518" stroke-width="1.8" stroke-linejoin="miter" />
<polygon points="675.0,810.3 690.5,816.5 675.0,822.7" fill="#22702b" stroke="#f5c518" stroke-width="1.8" stroke-linejoin="miter" />
<polygon points="706.0,810.3 690.5,816.5 706.0,822.7" fill="#22702b" stroke="#f5c518" stroke-width="1.8" stroke-linejoin="miter" />
<polygon points="810.5,721.8 826.0,728.0 810.5,734.2" fill="#22702b" stroke="#f5c518" stroke-width="1.8" stroke-linejoin="miter" />
<polygon points="841.5,721.8 826.0,728.0 841.5,734.2" fill="#f5c518" stroke="#f5c518" stroke-width="1.8" stroke-linejoin="miter" />
<polygon points="810.5,810.3 826.0,816.5 810.5,822.7" fill="#22702b" stroke="#000" stroke-width="1.8" stroke-linejoin="miter" />
<polygon points="841.5,810.3 826.0,816.5 841.5,822.7" fill="#000" stroke="#000" stroke-width="1.8" stroke-linejoin="miter" />
<polygon points="743.0,684.8 758.5,691.0 743.0,697.2" fill="#22702b" stroke="#000" stroke-width="1.8" stroke-linejoin="miter" />
<polygon points="774.0,684.8 758.5,691.0 774.0,697.2" fill="#22702b" stroke="#000" stroke-width="1.8" stroke-linejoin="miter" />
<path d="M758.5,691.0 L758.5,686.0 L755.5,684.0 L761.5,682.0 L755.5,680.0 L761.5,678.0" fill="none" stroke="#000" stroke-width="1.6" stroke-linejoin="miter" />
<polygon points="743.0,773.8 758.5,780.0 743.0,786.2" fill="#22702b" stroke="#000" stroke-width="1.8" stroke-linejoin="miter" />
<polygon points="774.0,773.8 758.5,780.0 774.0,786.2" fill="#22702b" stroke="#000" stroke-width="1.8" stroke-linejoin="miter" />
<path d="M758.5,780.0 L758.5,775.0 L755.5,773.0 L761.5,771.0 L755.5,769.0 L761.5,767.0" fill="none" stroke="#000" stroke-width="1.6" stroke-linejoin="miter" />
<g transform="translate(741.0,743.5) rotate(146.9)">
<path d="M0,-3.1 H39.0 L43.0,-1.6 V1.6 L39.0,3.1 H0 Z" fill="#7c7c7c" stroke="#111" stroke-width="1.4"/>
<path d="M1.0,-1.3 L38.0,-1.3" fill="none" stroke="#b8b8b8" stroke-width="1.6" stroke-linejoin="miter" />
<path d="M39.0,-3.1 L39.0,3.1" fill="none" stroke="#1a1a1a" stroke-width="1" stroke-linejoin="miter" />
</g>
<g transform="translate(720.1,757.1) rotate(22.0)">
<rect x="-16.0" y="-3.8" width="32.0" height="7.6" fill="#7c7c7c" stroke="#000" stroke-width="1.6" />
<path d="M-14.5,-0.3 L14.5,-0.3" fill="none" stroke="#c8c8c8" stroke-width="1.6" stroke-linejoin="miter" />
</g>
<ellipse cx="758.7" cy="728.3" rx="29.6" ry="21.0" fill="#f5c518"/>
<ellipse cx="758.7" cy="728.3" rx="24.4" ry="16.4" fill="#22702b"/>
<path d="M770.2,723.5 L778.8,718.1" fill="none" stroke="#f5c518" stroke-width="1.7" stroke-linejoin="miter" />
<path d="M770.8,727.1 L780.0,721.7" fill="none" stroke="#f5c518" stroke-width="1.7" stroke-linejoin="miter" />
<path d="M771.4,730.7 L781.2,725.3" fill="none" stroke="#f5c518" stroke-width="1.7" stroke-linejoin="miter" />
<path d="M772.0,734.3 L780.0,728.9" fill="none" stroke="#f5c518" stroke-width="1.7" stroke-linejoin="miter" />
<path d="M772.6,737.9 L778.8,732.5" fill="none" stroke="#f5c518" stroke-width="1.7" stroke-linejoin="miter" />
<ellipse cx="756.4" cy="721.3" rx="10.0" ry="6.8" fill="#22702b" stroke="#f5c518" stroke-width="3.8"/>
<ellipse cx="756.4" cy="735.9" rx="10.5" ry="6.8" fill="#22702b" stroke="#f5c518" stroke-width="3.8"/>
<path d="M734.7,794.2 L727.2,794.2 L727.2,801.7" fill="none" stroke="#8fc09a" stroke-width="2" stroke-linejoin="miter" />
<path d="M781.5,794.2 L789.0,794.2 L789.0,801.7" fill="none" stroke="#8fc09a" stroke-width="2" stroke-linejoin="miter" />
<path d="M734.7,838.0 L727.2,838.0 L727.2,830.5" fill="none" stroke="#8fc09a" stroke-width="2" stroke-linejoin="miter" />
<path d="M781.5,838.0 L789.0,838.0 L789.0,830.5" fill="none" stroke="#8fc09a" stroke-width="2" stroke-linejoin="miter" />
<ellipse cx="758.7" cy="816.5" rx="29.6" ry="21.0" fill="#000"/>
<ellipse cx="758.7" cy="816.5" rx="24.4" ry="16.4" fill="#22702b"/>
<path d="M770.2,811.7 L778.8,806.3" fill="none" stroke="#000" stroke-width="1.7" stroke-linejoin="miter" />
<path d="M770.8,815.3 L780.0,809.9" fill="none" stroke="#000" stroke-width="1.7" stroke-linejoin="miter" />
<path d="M771.4,818.9 L781.2,813.5" fill="none" stroke="#000" stroke-width="1.7" stroke-linejoin="miter" />
<path d="M772.0,822.5 L780.0,817.1" fill="none" stroke="#000" stroke-width="1.7" stroke-linejoin="miter" />
<path d="M772.6,826.1 L778.8,820.7" fill="none" stroke="#000" stroke-width="1.7" stroke-linejoin="miter" />
<ellipse cx="756.4" cy="809.5" rx="10.0" ry="6.8" fill="#22702b" stroke="#000" stroke-width="3.8"/>
<ellipse cx="756.4" cy="824.1" rx="10.5" ry="6.8" fill="#22702b" stroke="#000" stroke-width="3.8"/>
<g transform="translate(721.0,845.3) rotate(-36.7)">
<rect x="17.0" y="-3.2" width="9.0" height="6.4" fill="#8c8c8c" stroke="#000" stroke-width="1.3" rx="1.5" />
<rect x="-17.6" y="-10.9" width="35.3" height="21.8" fill="#787878" stroke="#000" stroke-width="1.7" rx="3.5" />
<rect x="-12.5" y="-9.2" width="25.0" height="3.4" fill="#bcbcbc" />
<rect x="-12.5" y="-4.3" width="25.0" height="3.2" fill="#9c9c9c" />
<rect x="-12.5" y="0.6" width="25.0" height="3.2" fill="#6c6c6c" />
<rect x="-12.5" y="5.2" width="25.0" height="3.4" fill="#9c9c9c" />
<path d="M-12.5,-5.2 L12.5,-5.2" fill="none" stroke="#000" stroke-width="1.2" stroke-linejoin="miter" />
<path d="M-12.5,-0.5 L12.5,-0.5" fill="none" stroke="#000" stroke-width="1.2" stroke-linejoin="miter" />
<path d="M-12.5,4.2 L12.5,4.2" fill="none" stroke="#000" stroke-width="1.2" stroke-linejoin="miter" />
<path d="M-13.0,-10.5 L-13.0,10.5" fill="none" stroke="#000" stroke-width="1.3" stroke-linejoin="miter" />
<path d="M13.0,-10.5 L13.0,10.5" fill="none" stroke="#000" stroke-width="1.3" stroke-linejoin="miter" />
<rect x="-16.2" y="-8.5" width="2.2" height="9.0" fill="#b0b0b0" />
</g>
<path d="M851.0,819.5 L851.0,847.0" fill="none" stroke="#000" stroke-width="2" stroke-linejoin="miter" stroke-dasharray="4.5 2.5"/>
<polygon points="843.4,849.0 860.4,849.0 851.9,865.5" fill="#22702b" stroke="#000" stroke-width="1.8" stroke-linejoin="miter" />
<path d="M732.3,854.4 L750.3,866.2" fill="none" stroke="#000" stroke-width="1.6" stroke-linejoin="miter" stroke-dasharray="2 2"/>
<rect x="664.0" y="872.5" width="207.8" height="39.8" fill="#1a5a22" />
<rect x="659.0" y="867.5" width="207.8" height="39.8" fill="#e8cfa5" />
<path d="M660.0,907.3 L660.0,868.5 L866.8,868.5" fill="none" stroke="#fff6dc" stroke-width="2" stroke-linejoin="miter" />
<path d="M659.0,906.3 L865.8,906.3 L865.8,867.5" fill="none" stroke="#14120a" stroke-width="2" stroke-linejoin="miter" />
<text transform="translate(668.3,886.6) scale(1.17,1)" font-size="12.8" fill="#000" font-family='"DejaVu Sans", "Liberation Sans", sans-serif' stroke="#000" stroke-width="0.3">Pump</text>
<text transform="translate(671.5,899.3) scale(1.17,1)" font-size="12.8" fill="#000" font-family='"DejaVu Sans", "Liberation Sans", sans-serif' stroke="#000" stroke-width="0.3">Ctr.</text>
<rect x="723.0" y="878.0" width="65.0" height="16.0" fill="#b39c6c" />
<path d="M724.0,894.0 L724.0,879.0 L788.0,879.0" fill="none" stroke="#2a2414" stroke-width="2.4" stroke-linejoin="miter" />
<path d="M723.0,893.0 L787.0,893.0 L787.0,878.0" fill="none" stroke="#fff6dc" stroke-width="2" stroke-linejoin="miter" />
<clipPath id="c718"><rect x="725" y="880" width="61" height="12.5"/></clipPath>
<g clip-path="url(#c718)">
<text x="756.5" y="891.8" font-size="14" fill="#ffff00" text-anchor="middle" font-family='"Liberation Sans", "DejaVu Sans", sans-serif' >AUTO</text>
</g>
<rect x="790.5" y="878.0" width="65.0" height="16.0" fill="#e8cfa5" />
<path d="M791.5,894.0 L791.5,879.0 L855.5,879.0" fill="none" stroke="#fff6dc" stroke-width="2" stroke-linejoin="miter" />
<path d="M790.5,893.0 L854.5,893.0 L854.5,878.0" fill="none" stroke="#2a2414" stroke-width="2.4" stroke-linejoin="miter" />
<clipPath id="c725"><rect x="792.5" y="880" width="61.0" height="12.5"/></clipPath>
<g clip-path="url(#c725)">
<text x="824.0" y="891.8" font-size="14" fill="#000" text-anchor="middle" font-family='"Liberation Sans", "DejaVu Sans", sans-serif' >MAN</text>
</g>
<rect x="823.5" y="117.0" width="303.3" height="114.8" fill="#1a5a22" />
<rect x="818.5" y="112.0" width="303.3" height="114.8" fill="#e8cfa5" />
<path d="M819.5,226.8 L819.5,113.0 L1121.8,113.0" fill="none" stroke="#fff6dc" stroke-width="2" stroke-linejoin="miter" />
<path d="M818.5,225.8 L1120.8,225.8 L1120.8,112.0" fill="none" stroke="#14120a" stroke-width="2" stroke-linejoin="miter" />
<rect x="825.0" y="131.0" width="289.0" height="18.5" fill="#e8694a" />
<text transform="translate(848.5,127.5) scale(1.2,1)" font-size="13.4" fill="#000" font-family='"DejaVu Sans", "Liberation Sans", sans-serif' >CYLINDER EXHAUST TEMP.</text>
<rect x="847.5" y="135.5" width="19.0" height="71.0" fill="#d8d8d8" stroke="#000" stroke-width="2" />
<rect x="852.0" y="183.0" width="10.5" height="22.5" fill="#22702b" />
<text transform="translate(834.0,145.5) scale(1.15,1)" font-size="13.4" fill="#000" font-family='"DejaVu Sans", "Liberation Sans", sans-serif' stroke="#000" stroke-width="0.3">6</text>
<text transform="translate(840.5,222.0) scale(1.15,1)" font-size="13.6" fill="#000" font-family='"DejaVu Sans", "Liberation Sans", sans-serif' stroke="#000" stroke-width="0.3">382</text>
<rect x="892.6" y="135.5" width="19.0" height="71.0" fill="#d8d8d8" stroke="#000" stroke-width="2" />
<rect x="897.1" y="183.0" width="10.5" height="22.5" fill="#22702b" />
<text transform="translate(879.1,145.5) scale(1.15,1)" font-size="13.4" fill="#000" font-family='"DejaVu Sans", "Liberation Sans", sans-serif' stroke="#000" stroke-width="0.3">5</text>
<text transform="translate(885.6,222.0) scale(1.15,1)" font-size="13.6" fill="#000" font-family='"DejaVu Sans", "Liberation Sans", sans-serif' stroke="#000" stroke-width="0.3">382</text>
<rect x="937.7" y="135.5" width="19.0" height="71.0" fill="#d8d8d8" stroke="#000" stroke-width="2" />
<rect x="942.2" y="183.0" width="10.5" height="22.5" fill="#22702b" />
<text transform="translate(924.2,145.5) scale(1.15,1)" font-size="13.4" fill="#000" font-family='"DejaVu Sans", "Liberation Sans", sans-serif' stroke="#000" stroke-width="0.3">4</text>
<text transform="translate(930.7,222.0) scale(1.15,1)" font-size="13.6" fill="#000" font-family='"DejaVu Sans", "Liberation Sans", sans-serif' stroke="#000" stroke-width="0.3">384</text>
<rect x="982.8" y="135.5" width="19.0" height="71.0" fill="#d8d8d8" stroke="#000" stroke-width="2" />
<rect x="987.3" y="183.0" width="10.5" height="22.5" fill="#22702b" />
<text transform="translate(969.3,145.5) scale(1.15,1)" font-size="13.4" fill="#000" font-family='"DejaVu Sans", "Liberation Sans", sans-serif' stroke="#000" stroke-width="0.3">3</text>
<text transform="translate(975.8,222.0) scale(1.15,1)" font-size="13.6" fill="#000" font-family='"DejaVu Sans", "Liberation Sans", sans-serif' stroke="#000" stroke-width="0.3">382</text>
<rect x="1027.9" y="135.5" width="19.0" height="71.0" fill="#d8d8d8" stroke="#000" stroke-width="2" />
<rect x="1032.4" y="183.0" width="10.5" height="22.5" fill="#22702b" />
<text transform="translate(1014.4,145.5) scale(1.15,1)" font-size="13.4" fill="#000" font-family='"DejaVu Sans", "Liberation Sans", sans-serif' stroke="#000" stroke-width="0.3">2</text>
<text transform="translate(1020.9,222.0) scale(1.15,1)" font-size="13.6" fill="#000" font-family='"DejaVu Sans", "Liberation Sans", sans-serif' stroke="#000" stroke-width="0.3">379</text>
<rect x="1073.0" y="135.5" width="19.0" height="71.0" fill="#d8d8d8" stroke="#000" stroke-width="2" />
<rect x="1077.5" y="184.0" width="10.5" height="21.5" fill="#22702b" />
<text transform="translate(1059.5,145.5) scale(1.15,1)" font-size="13.4" fill="#000" font-family='"DejaVu Sans", "Liberation Sans", sans-serif' stroke="#000" stroke-width="0.3">1</text>
<text transform="translate(1066.0,222.0) scale(1.15,1)" font-size="13.6" fill="#000" font-family='"DejaVu Sans", "Liberation Sans", sans-serif' stroke="#000" stroke-width="0.3">374</text>
<rect x="397.5" y="841.0" width="142.5" height="66.0" fill="none" stroke="#8fc09a" stroke-width="1.8" stroke-dasharray="2 2"/>
<path d="M446.5,900.0 L446.5,879.0 L488.0,879.0" fill="none" stroke="#7fb58a" stroke-width="2" stroke-linejoin="miter" />
<path d="M445.5,899.0 L487.0,899.0 L487.0,878.0" fill="none" stroke="#000" stroke-width="2" stroke-linejoin="miter" />
<text text-anchor="middle" transform="translate(466.5,895.0) scale(1.1,1)" font-size="13.6" fill="#000" font-family='"DejaVu Sans", "Liberation Sans", sans-serif' >V</text>
<rect x="1398.5" y="820.5" width="113.0" height="53.5" fill="none" stroke="#8fc09a" stroke-width="1.8" stroke-dasharray="2 2"/>
<path d="M1433.0,866.0 L1433.0,846.0 L1474.5,846.0" fill="none" stroke="#7fb58a" stroke-width="2" stroke-linejoin="miter" />
<path d="M1432.0,865.0 L1473.5,865.0 L1473.5,845.0" fill="none" stroke="#000" stroke-width="2" stroke-linejoin="miter" />
<text text-anchor="middle" transform="translate(1453.0,861.0) scale(1.1,1)" font-size="13.6" fill="#000" font-family='"DejaVu Sans", "Liberation Sans", sans-serif' >V</text>
<rect x="67.5" y="708.5" width="180.8" height="114.8" fill="#1a5a22" />
<rect x="55.5" y="701.5" width="180.8" height="114.8" fill="#e8cfa5" />
<path d="M56.5,816.3 L56.5,702.5 L236.3,702.5" fill="none" stroke="#fff6dc" stroke-width="2" stroke-linejoin="miter" />
<path d="M55.5,815.3 L235.3,815.3 L235.3,701.5" fill="none" stroke="#14120a" stroke-width="2" stroke-linejoin="miter" />
<text transform="translate(120.5,714.8) scale(1.22,1)" font-size="13.6" fill="#000" font-family='"DejaVu Sans", "Liberation Sans", sans-serif' >Power</text>
<rect x="63.5" y="716.5" width="166.0" height="95.0" fill="#d8d8d8" />
<path d="M64.5,811.5 L64.5,717.5 L229.5,717.5" fill="none" stroke="#000" stroke-width="2.4" stroke-linejoin="miter" />
<path d="M63.5,810.5 L228.5,810.5 L228.5,716.5" fill="none" stroke="#fff" stroke-width="2" stroke-linejoin="miter" />
<path d="M115.3,791.4 L112.1,789.5 L109.1,787.4 L106.3,785.1 L103.9,782.7 L101.7,780.2 L99.8,777.6 L98.3,774.8 L97.1,772.0 L96.3,769.2 L95.8,766.3 L95.7,763.4 L95.9,760.5 L96.5,757.6 L97.5,754.7 L98.7,751.9 L100.4,749.2 L102.3,746.6 L104.6,744.2 L107.1,741.8 L109.9,739.6 L113.0,737.5 L116.4,735.7 L119.9,734.0 L123.7,732.5 L127.6,731.2 L131.6,730.2 L135.8,729.4 L140.0,728.8 L144.4,728.4 L148.7,728.3 L153.0,728.4 L157.4,728.8 L161.6,729.4 L165.8,730.2 L169.8,731.2 L173.7,732.5 L177.5,734.0 L181.0,735.7 L184.4,737.5 L187.5,739.6 L190.3,741.8 L192.8,744.2 L195.1,746.6 L197.0,749.2 L198.7,751.9 L199.9,754.7 L200.9,757.6 L201.5,760.5 L201.7,763.4 L201.6,766.3 L201.1,769.2 L200.3,772.0 L199.1,774.8 L197.6,777.6 L195.7,780.2 L193.5,782.7 L191.1,785.1 L188.3,787.4 L185.3,789.5 L182.1,791.4" fill="none" stroke="#000" stroke-width="2" stroke-linejoin="miter" />
<path d="M114.3,789.9 L115.3,791.4 L108.3,796.9" fill="none" stroke="#000" stroke-width="1.8" stroke-linejoin="miter" />
<path d="M95.9,760.5 L85.5,759.8" fill="none" stroke="#000" stroke-width="1.7" stroke-linejoin="miter" />
<path d="M123.7,732.5 L118.7,726.0" fill="none" stroke="#000" stroke-width="1.7" stroke-linejoin="miter" />
<path d="M173.7,732.5 L178.7,726.0" fill="none" stroke="#000" stroke-width="1.7" stroke-linejoin="miter" />
<path d="M201.5,760.5 L211.9,759.8" fill="none" stroke="#000" stroke-width="1.7" stroke-linejoin="miter" />
<path d="M183.1,789.9 L182.1,791.4 L189.1,796.9" fill="none" stroke="#000" stroke-width="1.8" stroke-linejoin="miter" />
<text transform="translate(88.5,803.0) scale(1.13,1)" font-size="13.6" fill="#000" font-family='"DejaVu Sans", "Liberation Sans", sans-serif' >0</text>
<text transform="translate(69.5,758.0) scale(1.13,1)" font-size="13.6" fill="#000" font-family='"DejaVu Sans", "Liberation Sans", sans-serif' >20</text>
<text transform="translate(92.5,730.0) scale(1.13,1)" font-size="13.6" fill="#000" font-family='"DejaVu Sans", "Liberation Sans", sans-serif' >40</text>
<text transform="translate(182.0,730.0) scale(1.13,1)" font-size="13.6" fill="#000" font-family='"DejaVu Sans", "Liberation Sans", sans-serif' >60</text>
<text transform="translate(203.5,758.0) scale(1.13,1)" font-size="13.6" fill="#000" font-family='"DejaVu Sans", "Liberation Sans", sans-serif' >80</text>
<text transform="translate(191.5,803.0) scale(1.13,1)" font-size="13.6" fill="#000" font-family='"DejaVu Sans", "Liberation Sans", sans-serif' >100</text>
<text transform="translate(123.5,808.0) scale(1.13,1)" font-size="14" fill="#000" font-family='"DejaVu Sans", "Liberation Sans", sans-serif' >10 kW</text>
<polygon points="150.1,762.7 159.4,758.3 172.8,734.5 152.4,752.7" fill="#1f6b29" stroke="#000" stroke-width="1.5" stroke-linejoin="miter" />
<ellipse cx="148.7" cy="764.5" rx="6.0" ry="4.6" fill="#a0a0a0" stroke="#000" stroke-width="1.6"/>
<text transform="translate(91.0,840.3) scale(1.1,1)" font-size="15.2" fill="#00ff00" font-weight="bold" font-family='"DejaVu Sans", "Liberation Sans", sans-serif' xml:space="preserve">E  605.88</text>
<rect x="1545.5" y="728.5" width="180.8" height="152.8" fill="#1a5a22" />
<rect x="1533.5" y="721.5" width="180.8" height="152.8" fill="#e8cfa5" />
<path d="M1534.5,874.3 L1534.5,722.5 L1714.3,722.5" fill="none" stroke="#fff6dc" stroke-width="2" stroke-linejoin="miter" />
<path d="M1533.5,873.3 L1713.3,873.3 L1713.3,721.5" fill="none" stroke="#14120a" stroke-width="2" stroke-linejoin="miter" />
<text transform="translate(1609.3,734.8) scale(1.1,1)" font-size="13.6" fill="#000" font-family='"DejaVu Sans", "Liberation Sans", sans-serif' >NOx</text>
<rect x="1540.5" y="737.0" width="166.0" height="95.5" fill="#d8d8d8" />
<path d="M1541.5,832.5 L1541.5,738.0 L1706.5,738.0" fill="none" stroke="#000" stroke-width="2.4" stroke-linejoin="miter" />
<path d="M1540.5,831.5 L1705.5,831.5 L1705.5,737.0" fill="none" stroke="#fff" stroke-width="2" stroke-linejoin="miter" />
<rect x="1540.5" y="839.4" width="166.0" height="28.6" fill="#d8d8d8" />
<path d="M1541.5,868.0 L1541.5,840.4 L1706.5,840.4" fill="none" stroke="#000" stroke-width="2.4" stroke-linejoin="miter" />
<path d="M1540.5,867.0 L1705.5,867.0 L1705.5,839.4" fill="none" stroke="#fff" stroke-width="2" stroke-linejoin="miter" />
<path d="M1590.2,812.3 L1587.2,810.2 L1584.5,807.9 L1582.0,805.5 L1579.8,803.0 L1577.9,800.3 L1576.4,797.6 L1575.1,794.8 L1574.2,791.9 L1573.6,789.0 L1573.3,786.1 L1573.4,783.1 L1573.8,780.2 L1574.5,777.3 L1575.6,774.4 L1577.0,771.6 L1578.7,768.9 L1580.7,766.3 L1583.0,763.9 L1585.6,761.5 L1588.4,759.3 L1591.5,757.3 L1594.7,755.5 L1598.2,753.8 L1601.9,752.4 L1605.7,751.1 L1609.7,750.1 L1613.7,749.3 L1617.9,748.7 L1622.1,748.3 L1626.3,748.2 L1630.5,748.3 L1634.7,748.7 L1638.9,749.3 L1642.9,750.1 L1646.9,751.1 L1650.7,752.4 L1654.4,753.8 L1657.9,755.5 L1661.1,757.3 L1664.2,759.3 L1667.0,761.5 L1669.6,763.9 L1671.9,766.3 L1673.9,768.9 L1675.6,771.6 L1677.0,774.4 L1678.1,777.3 L1678.8,780.2 L1679.2,783.1 L1679.3,786.1 L1679.0,789.0 L1678.4,791.9 L1677.5,794.8 L1676.2,797.6 L1674.7,800.3 L1672.8,803.0 L1670.6,805.5 L1668.1,807.9 L1665.4,810.2 L1662.4,812.3" fill="none" stroke="#000" stroke-width="2" stroke-linejoin="miter" />
<path d="M1589.2,810.8 L1590.2,812.3 L1583.2,817.8" fill="none" stroke="#000" stroke-width="1.8" stroke-linejoin="miter" />
<path d="M1576.4,797.6 L1569.3,799.4" fill="none" stroke="#000" stroke-width="1.7" stroke-linejoin="miter" />
<path d="M1573.8,780.2 L1563.4,779.2" fill="none" stroke="#000" stroke-width="1.7" stroke-linejoin="miter" />
<path d="M1583.0,763.9 L1576.9,760.8" fill="none" stroke="#000" stroke-width="1.7" stroke-linejoin="miter" />
<path d="M1601.9,752.4 L1597.1,745.8" fill="none" stroke="#000" stroke-width="1.7" stroke-linejoin="miter" />
<path d="M1626.3,748.2 L1626.3,743.0" fill="none" stroke="#000" stroke-width="1.7" stroke-linejoin="miter" />
<path d="M1650.7,752.4 L1655.5,745.8" fill="none" stroke="#000" stroke-width="1.7" stroke-linejoin="miter" />
<path d="M1669.6,763.9 L1675.7,760.8" fill="none" stroke="#000" stroke-width="1.7" stroke-linejoin="miter" />
<path d="M1678.8,780.2 L1689.2,779.2" fill="none" stroke="#000" stroke-width="1.7" stroke-linejoin="miter" />
<path d="M1676.2,797.6 L1683.3,799.4" fill="none" stroke="#000" stroke-width="1.7" stroke-linejoin="miter" />
<path d="M1663.4,810.8 L1662.4,812.3 L1669.4,817.8" fill="none" stroke="#000" stroke-width="1.8" stroke-linejoin="miter" />
<text transform="translate(1568.7,823.5) scale(1.12,1)" font-size="13.2" fill="#000" font-family='"DejaVu Sans", "Liberation Sans", sans-serif' >0</text>
<text transform="translate(1554.0,779.6) scale(1.12,1)" font-size="13.2" fill="#000" font-family='"DejaVu Sans", "Liberation Sans", sans-serif' >5</text>
<text transform="translate(1572.5,750.7) scale(1.12,1)" font-size="13.2" fill="#000" font-family='"DejaVu Sans", "Liberation Sans", sans-serif' >10</text>
<text transform="translate(1659.8,750.7) scale(1.12,1)" font-size="13.2" fill="#000" font-family='"DejaVu Sans", "Liberation Sans", sans-serif' >15</text>
<text transform="translate(1683.5,779.6) scale(1.12,1)" font-size="13.2" fill="#000" font-family='"DejaVu Sans", "Liberation Sans", sans-serif' >20</text>
<text transform="translate(1673.8,823.5) scale(1.12,1)" font-size="13.2" fill="#000" font-family='"DejaVu Sans", "Liberation Sans", sans-serif' >25</text>
<text transform="translate(1598.8,828.8) scale(1.2,1)" font-size="14" fill="#000" font-family='"DejaVu Sans", "Liberation Sans", sans-serif' >g/kWh</text>
<polygon points="1623.7,784.6 1615.0,776.2 1583.2,765.0 1611.7,782.9" fill="#1f6b29" stroke="#000" stroke-width="1.5" stroke-linejoin="miter" />
<ellipse cx="1626.3" cy="785.8" rx="6.0" ry="4.6" fill="#a0a0a0" stroke="#000" stroke-width="1.6"/>
<text transform="translate(1580.2,862.4) scale(0.965,1)" font-size="24.8" fill="#000" font-weight="bold" font-family='"DejaVu Sans", "Liberation Sans", sans-serif' >7.51</text>
<rect x="1731.5" y="728.5" width="181.3" height="152.8" fill="#1a5a22" />
<rect x="1724.5" y="721.5" width="181.3" height="152.8" fill="#e8cfa5" />
<path d="M1725.5,874.3 L1725.5,722.5 L1905.8,722.5" fill="none" stroke="#fff6dc" stroke-width="2" stroke-linejoin="miter" />
<path d="M1724.5,873.3 L1904.8,873.3 L1904.8,721.5" fill="none" stroke="#14120a" stroke-width="2" stroke-linejoin="miter" />
<text transform="translate(1787.8,734.8) scale(1.1,1)" font-size="13.6" fill="#000" font-family='"DejaVu Sans", "Liberation Sans", sans-serif' >Smoke</text>
<rect x="1732.2" y="737.0" width="165.8" height="95.5" fill="#d8d8d8" />
<path d="M1733.2,832.5 L1733.2,738.0 L1898.0,738.0" fill="none" stroke="#000" stroke-width="2.4" stroke-linejoin="miter" />
<path d="M1732.2,831.5 L1897.0,831.5 L1897.0,737.0" fill="none" stroke="#fff" stroke-width="2" stroke-linejoin="miter" />
<rect x="1732.2" y="839.4" width="165.8" height="28.6" fill="#d8d8d8" />
<path d="M1733.2,868.0 L1733.2,840.4 L1898.0,840.4" fill="none" stroke="#000" stroke-width="2.4" stroke-linejoin="miter" />
<path d="M1732.2,867.0 L1897.0,867.0 L1897.0,839.4" fill="none" stroke="#fff" stroke-width="2" stroke-linejoin="miter" />
<polygon points="1771.9,818.8 1768.9,817.0 1766.1,815.1 1763.5,813.0 1761.1,810.9 1758.8,808.6 1756.8,806.3 1755.0,803.9 1753.4,801.4 1752.1,798.8 1750.9,796.2 1750.1,793.5 1749.4,790.8 1749.0,788.1 1748.9,785.4 1749.0,782.7 1749.4,779.9 1750.0,777.2 1750.8,774.6 1751.9,771.9 1753.2,769.4 1754.8,766.9 1756.5,764.4 1758.5,762.1 1760.7,759.8 1763.1,757.6 1765.7,755.6 1768.5,753.7 1771.5,751.9 1774.6,750.2 1777.8,748.7 1781.2,747.3 1784.7,746.0 1788.3,745.0 1792.0,744.1 1795.8,743.3 1799.6,742.7 1803.5,742.3 1807.4,742.1 1811.3,742.0 1815.2,742.1 1819.1,742.4 1823.0,742.8 1826.8,743.4 1830.6,744.2 1834.3,745.2 1837.8,746.3 1841.3,747.6 1844.7,749.0 1847.9,750.5 1851.0,752.2 1853.9,754.1 1856.6,756.0 1859.2,758.1 1861.5,760.3 1863.7,762.5 1865.6,764.9 1867.4,767.4 1868.9,769.9 1870.2,772.5 1871.2,775.1 1872.0,777.8 1872.5,780.5 1872.8,783.2 1872.9,786.0 1872.7,788.7 1872.3,791.4 1871.6,794.1 1870.6,796.7 1869.5,799.4 1868.1,801.9 1866.4,804.4 1864.6,806.8 1862.5,809.1 1860.3,811.3 1857.8,813.5 1855.1,815.5 1852.3,817.4 1849.3,819.1 1846.1,820.7 1842.8,822.2 1837.1,815.6 1839.8,814.4 1842.5,813.1 1845.0,811.7 1847.4,810.2 1849.7,808.6 1851.8,806.9 1853.7,805.0 1855.5,803.1 1857.1,801.2 1858.6,799.1 1859.8,797.0 1860.9,794.9 1861.7,792.6 1862.4,790.4 1862.8,788.1 1863.1,785.8 1863.1,783.5 1862.9,781.2 1862.6,778.9 1862.0,776.7 1861.2,774.4 1860.2,772.2 1859.0,770.0 1857.6,767.9 1856.0,765.8 1854.2,763.9 1852.3,761.9 1850.2,760.1 1847.9,758.4 1845.4,756.8 1842.8,755.3 1840.1,753.9 1837.3,752.6 1834.3,751.4 1831.2,750.4 1828.0,749.5 1824.8,748.8 1821.5,748.1 1818.1,747.7 1814.7,747.4 1811.3,747.2 1807.8,747.2 1804.3,747.3 1800.9,747.6 1797.5,748.1 1794.1,748.7 1790.8,749.4 1787.6,750.3 1784.4,751.3 1781.3,752.5 1778.3,753.8 1775.5,755.3 1772.8,756.8 1770.2,758.5 1767.8,760.3 1765.5,762.2 1763.4,764.2 1761.5,766.3 1759.8,768.5 1758.2,770.7 1756.9,773.1 1755.8,775.4 1754.9,777.9 1754.2,780.3 1753.7,782.9 1753.5,785.4 1753.5,787.9 1753.7,790.4 1754.2,793.0 1754.8,795.5 1755.7,798.0 1756.9,800.4 1758.2,802.8 1759.8,805.2 1761.5,807.4 1763.5,809.7 1765.6,811.8 1768.0,813.8 1770.5,815.8 1773.1,817.8" fill="#000" stroke-linejoin="miter" />
<polygon points="1807.8,785.2 1795.7,780.3 1758.7,778.2 1794.8,786.5" fill="#1f6b29" stroke="#000" stroke-width="1.5" stroke-linejoin="miter" />
<ellipse cx="1810.9" cy="785.6" rx="6.0" ry="4.6" fill="#a0a0a0" stroke="#000" stroke-width="1.6"/>
<text transform="translate(1761.7,862.4) scale(0.985,1)" font-size="24.8" fill="#000" font-weight="bold" font-family='"DejaVu Sans", "Liberation Sans", sans-serif' >21.83</text>
<rect x="260.3" y="708.3" width="286.5" height="115.5" fill="#1a5a22" />
<rect x="254.3" y="701.3" width="286.5" height="115.5" fill="#e8cfa5" />
<path d="M255.3,816.8 L255.3,702.3 L540.8,702.3" fill="none" stroke="#fff6dc" stroke-width="2" stroke-linejoin="miter" />
<path d="M254.3,815.8 L539.8,815.8 L539.8,701.3" fill="none" stroke="#14120a" stroke-width="2" stroke-linejoin="miter" />
<text transform="translate(290.4,720.5) scale(1.05,1)" font-size="15.4" fill="#000" font-weight="bold" font-family='"DejaVu Sans", "Liberation Sans", sans-serif' letter-spacing="0.6">ENGINE CONTROL</text>
<ellipse cx="271.0" cy="732.3" rx="8.0" ry="5.8" fill="url(#lg)" stroke="#000" stroke-width="1.6"/>
<text transform="translate(285.8,736.8) scale(1.165,1)" font-size="13.2" fill="#000" font-family='"DejaVu Sans", "Liberation Sans", sans-serif' stroke="#000" stroke-width="0.3">Running</text>
<rect x="284.0" y="739.0" width="65.0" height="16.5" fill="#e8cfa5" />
<path d="M285.0,755.5 L285.0,740.0 L349.0,740.0" fill="none" stroke="#fff6dc" stroke-width="2" stroke-linejoin="miter" />
<path d="M284.0,754.5 L348.0,754.5 L348.0,739.0" fill="none" stroke="#2a2414" stroke-width="2.4" stroke-linejoin="miter" />
<clipPath id="c850"><rect x="286" y="741" width="61" height="13.0"/></clipPath>
<g clip-path="url(#c850)">
<text x="317.5" y="753.3" font-size="14" fill="#000" text-anchor="middle" font-family='"Liberation Sans", "DejaVu Sans", sans-serif' >START</text>
</g>
<rect x="284.0" y="758.0" width="65.0" height="15.5" fill="#e8cfa5" />
<path d="M285.0,773.5 L285.0,759.0 L349.0,759.0" fill="none" stroke="#fff6dc" stroke-width="2" stroke-linejoin="miter" />
<path d="M284.0,772.5 L348.0,772.5 L348.0,758.0" fill="none" stroke="#2a2414" stroke-width="2.4" stroke-linejoin="miter" />
<clipPath id="c857"><rect x="286" y="760" width="61" height="12.0"/></clipPath>
<g clip-path="url(#c857)">
<text x="317.5" y="771.3" font-size="14" fill="#000" text-anchor="middle" font-family='"Liberation Sans", "DejaVu Sans", sans-serif' >STOP</text>
</g>
<rect x="284.0" y="776.0" width="65.0" height="16.0" fill="#e8cfa5" />
<path d="M285.0,792.0 L285.0,777.0 L349.0,777.0" fill="none" stroke="#fff6dc" stroke-width="2" stroke-linejoin="miter" />
<path d="M284.0,791.0 L348.0,791.0 L348.0,776.0" fill="none" stroke="#2a2414" stroke-width="2.4" stroke-linejoin="miter" />
<clipPath id="c864"><rect x="286" y="778" width="61" height="12.5"/></clipPath>
<g clip-path="url(#c864)">
<text x="317.5" y="790.4" font-size="14" fill="#000" text-anchor="middle" font-family='"Liberation Sans", "DejaVu Sans", sans-serif' >LOCAL</text>
</g>
<rect x="284.0" y="794.0" width="65.0" height="16.0" fill="#b39c6c" />
<path d="M285.0,810.0 L285.0,795.0 L349.0,795.0" fill="none" stroke="#2a2414" stroke-width="2.4" stroke-linejoin="miter" />
<path d="M284.0,809.0 L348.0,809.0 L348.0,794.0" fill="none" stroke="#fff6dc" stroke-width="2" stroke-linejoin="miter" />
<clipPath id="c871"><rect x="286" y="796" width="61" height="12.5"/></clipPath>
<g clip-path="url(#c871)">
<text x="317.5" y="807.8" font-size="14" fill="#ffff00" text-anchor="middle" font-family='"Liberation Sans", "DejaVu Sans", sans-serif' >REMO</text>
</g>
<ellipse cx="391.0" cy="732.3" rx="8.0" ry="6.0" fill="url(#lr)" stroke="#000" stroke-width="1.6"/>
<text transform="translate(405.9,736.7) scale(1.155,1)" font-size="13.2" fill="#000" font-family='"DejaVu Sans", "Liberation Sans", sans-serif' stroke="#000" stroke-width="0.3">Overspeed</text>
<ellipse cx="391.0" cy="745.3" rx="8.0" ry="6.0" fill="url(#lr)" stroke="#000" stroke-width="1.6"/>
<text transform="translate(405.9,749.8) scale(1.155,1)" font-size="13.2" fill="#000" font-family='"DejaVu Sans", "Liberation Sans", sans-serif' stroke="#000" stroke-width="0.3">LO Press.</text>
<ellipse cx="391.0" cy="758.3" rx="8.0" ry="6.0" fill="url(#lr)" stroke="#000" stroke-width="1.6"/>
<text transform="translate(405.9,762.9) scale(1.155,1)" font-size="13.2" fill="#000" font-family='"DejaVu Sans", "Liberation Sans", sans-serif' stroke="#000" stroke-width="0.3">LO Temp.</text>
<ellipse cx="391.0" cy="771.3" rx="8.0" ry="6.0" fill="url(#lr)" stroke="#000" stroke-width="1.6"/>
<text transform="translate(405.9,775.9) scale(1.155,1)" font-size="13.2" fill="#000" font-family='"DejaVu Sans", "Liberation Sans", sans-serif' stroke="#000" stroke-width="0.3">FW Out Temp.</text>
<ellipse cx="391.0" cy="784.3" rx="8.0" ry="6.0" fill="url(#lr)" stroke="#000" stroke-width="1.6"/>
<text transform="translate(405.9,789.0) scale(1.155,1)" font-size="13.2" fill="#000" font-family='"DejaVu Sans", "Liberation Sans", sans-serif' stroke="#000" stroke-width="0.3">Exh. Temp.</text>
<rect x="404.0" y="794.0" width="65.0" height="16.0" fill="#b39c6c" />
<path d="M405.0,810.0 L405.0,795.0 L469.0,795.0" fill="none" stroke="#2a2414" stroke-width="2.4" stroke-linejoin="miter" />
<path d="M404.0,809.0 L468.0,809.0 L468.0,794.0" fill="none" stroke="#fff6dc" stroke-width="2" stroke-linejoin="miter" />
<clipPath id="c888"><rect x="406" y="796" width="61" height="12.5"/></clipPath>
<g clip-path="url(#c888)">
<text x="437.5" y="807.8" font-size="14" fill="#ffff00" text-anchor="middle" font-family='"Liberation Sans", "DejaVu Sans", sans-serif' >RESET</text>
</g>
<text transform="translate(477.6,806.4) scale(1.29,1)" font-size="12.8" fill="#000" font-family='"DejaVu Sans", "Liberation Sans", sans-serif' stroke="#000" stroke-width="0.3">TRIP</text>
<text transform="translate(57.0,117.0) scale(1.21,1)" font-size="12.6" fill="#8fc09a" font-family='"DejaVu Sans", "Liberation Sans", sans-serif' >from</text>
<text transform="translate(56.0,130.0) scale(1.21,1)" font-size="12.6" fill="#8fc09a" font-family='"DejaVu Sans", "Liberation Sans", sans-serif' >Fuel Oil</text>
<text transform="translate(56.0,143.5) scale(1.21,1)" font-size="12.6" fill="#8fc09a" font-family='"DejaVu Sans", "Liberation Sans", sans-serif' >System</text>
<text transform="translate(56.0,255.0) scale(1.21,1)" font-size="12.6" fill="#8fc09a" font-family='"DejaVu Sans", "Liberation Sans", sans-serif' >from DO</text>
<text transform="translate(56.0,268.0) scale(1.21,1)" font-size="12.6" fill="#8fc09a" font-family='"DejaVu Sans", "Liberation Sans", sans-serif' >Service</text>
<text transform="translate(56.0,281.0) scale(1.21,1)" font-size="12.6" fill="#8fc09a" font-family='"DejaVu Sans", "Liberation Sans", sans-serif' >Tank</text>
<text transform="translate(56.0,341.0) scale(1.21,1)" font-size="12.6" fill="#8fc09a" font-family='"DejaVu Sans", "Liberation Sans", sans-serif' >to</text>
<text transform="translate(56.0,354.0) scale(1.21,1)" font-size="12.6" fill="#8fc09a" font-family='"DejaVu Sans", "Liberation Sans", sans-serif' >Fuel Oil</text>
<text transform="translate(56.0,367.0) scale(1.21,1)" font-size="12.6" fill="#8fc09a" font-family='"DejaVu Sans", "Liberation Sans", sans-serif' >System</text>
<text transform="translate(56.0,466.0) scale(1.21,1)" font-size="12.6" fill="#8fc09a" font-family='"DejaVu Sans", "Liberation Sans", sans-serif' >to DO</text>
<text transform="translate(56.0,479.0) scale(1.21,1)" font-size="12.6" fill="#8fc09a" font-family='"DejaVu Sans", "Liberation Sans", sans-serif' >Service</text>
<text transform="translate(56.0,492.0) scale(1.21,1)" font-size="12.6" fill="#8fc09a" font-family='"DejaVu Sans", "Liberation Sans", sans-serif' >Tank</text>
<text transform="translate(53.0,605.5) scale(1.21,1)" font-size="12.6" fill="#8fc09a" font-family='"DejaVu Sans", "Liberation Sans", sans-serif' >Start</text>
<text transform="translate(64.5,618.5) scale(1.21,1)" font-size="12.6" fill="#8fc09a" font-family='"DejaVu Sans", "Liberation Sans", sans-serif' >Air</text>
<text transform="translate(68.0,659.0) scale(1.21,1)" font-size="12.6" fill="#8fc09a" font-family='"DejaVu Sans", "Liberation Sans", sans-serif' >from LO</text>
<text transform="translate(64.0,672.0) scale(1.21,1)" font-size="12.6" fill="#8fc09a" font-family='"DejaVu Sans", "Liberation Sans", sans-serif' >Storage</text>
<text transform="translate(207.0,137.5) scale(1.085,1)" font-size="15.2" fill="#8fc09a" font-weight="bold" font-family='"DejaVu Sans", "Liberation Sans", sans-serif' >FO Pump</text>
<text transform="translate(317.0,253.5) scale(1.21,1)" font-size="12.6" fill="#8fc09a" font-family='"DejaVu Sans", "Liberation Sans", sans-serif' >Filters</text>
<text transform="translate(388.0,271.0) scale(1.085,1)" font-size="15.2" fill="#8fc09a" font-weight="bold" font-family='"DejaVu Sans", "Liberation Sans", sans-serif' >1</text>
<text transform="translate(475.0,271.0) scale(1.085,1)" font-size="15.2" fill="#8fc09a" font-weight="bold" font-family='"DejaVu Sans", "Liberation Sans", sans-serif' >2</text>
<text transform="translate(729.0,208.5) scale(1.21,1)" font-size="12.6" fill="#8fc09a" font-family='"DejaVu Sans", "Liberation Sans", sans-serif' >TBCH</text>
<text transform="translate(836.0,300.0) scale(1.21,1)" font-size="12.6" fill="#8fc09a" font-family='"DejaVu Sans", "Liberation Sans", sans-serif' >HT</text>
<text transform="translate(934.0,300.0) scale(1.21,1)" font-size="12.6" fill="#8fc09a" font-family='"DejaVu Sans", "Liberation Sans", sans-serif' >LT</text>
<text transform="translate(1031.0,305.0) scale(1.21,1)" font-size="12.6" fill="#8fc09a" font-family='"DejaVu Sans", "Liberation Sans", sans-serif' >Air</text>
<text transform="translate(1016.5,318.0) scale(1.21,1)" font-size="12.6" fill="#8fc09a" font-family='"DejaVu Sans", "Liberation Sans", sans-serif' >Cooler</text>
<text transform="translate(1504.0,243.0) scale(1.21,1)" font-size="12.6" fill="#8fc09a" font-family='"DejaVu Sans", "Liberation Sans", sans-serif' >Drain</text>
<text transform="translate(1794.0,161.0) scale(1.21,1)" font-size="12.6" fill="#8fc09a" font-family='"DejaVu Sans", "Liberation Sans", sans-serif' >Distilled</text>
<text transform="translate(1816.0,174.5) scale(1.21,1)" font-size="12.6" fill="#8fc09a" font-family='"DejaVu Sans", "Liberation Sans", sans-serif' >Water</text>
<text transform="translate(1524.0,351.0) scale(1.085,1)" font-size="15.2" fill="#8fc09a" font-weight="bold" font-family='"DejaVu Sans", "Liberation Sans", sans-serif' >HTFW</text>
<text transform="translate(1524.0,369.5) scale(1.085,1)" font-size="15.2" fill="#8fc09a" font-weight="bold" font-family='"DejaVu Sans", "Liberation Sans", sans-serif' >Pump</text>
<text transform="translate(1509.0,493.5) scale(1.085,1)" font-size="15.2" fill="#8fc09a" font-weight="bold" font-family='"DejaVu Sans", "Liberation Sans", sans-serif' >LTFW</text>
<text transform="translate(1509.0,511.0) scale(1.085,1)" font-size="15.2" fill="#8fc09a" font-weight="bold" font-family='"DejaVu Sans", "Liberation Sans", sans-serif' >Pump</text>
<text transform="translate(1275.5,433.0) scale(1.21,1)" font-size="12.6" fill="#8fc09a" font-family='"DejaVu Sans", "Liberation Sans", sans-serif' >LO</text>
<text transform="translate(1275.5,446.0) scale(1.21,1)" font-size="12.6" fill="#8fc09a" font-family='"DejaVu Sans", "Liberation Sans", sans-serif' >Cooler</text>
<text transform="translate(1638.5,490.0) scale(1.21,1)" font-size="12.6" fill="#8fc09a" font-family='"DejaVu Sans", "Liberation Sans", sans-serif' >HTFW</text>
<text transform="translate(1628.0,503.0) scale(1.21,1)" font-size="12.6" fill="#8fc09a" font-family='"DejaVu Sans", "Liberation Sans", sans-serif' >Cooler</text>
<text transform="translate(1429.0,649.0) scale(1.21,1)" font-size="12.6" fill="#8fc09a" font-family='"DejaVu Sans", "Liberation Sans", sans-serif' >LTFW</text>
<text transform="translate(1418.0,662.0) scale(1.21,1)" font-size="12.6" fill="#8fc09a" font-family='"DejaVu Sans", "Liberation Sans", sans-serif' >Cooler</text>
<text transform="translate(1785.0,677.0) scale(1.21,1)" font-size="12.6" fill="#8fc09a" font-family='"DejaVu Sans", "Liberation Sans", sans-serif' >Sea Water</text>
<text transform="translate(1800.0,690.0) scale(1.21,1)" font-size="12.6" fill="#8fc09a" font-family='"DejaVu Sans", "Liberation Sans", sans-serif' >System</text>
<text transform="translate(1121.0,615.5) scale(1.21,1)" font-size="12.6" fill="#8fc09a" font-family='"DejaVu Sans", "Liberation Sans", sans-serif' >Filters</text>
<text transform="translate(1189.5,631.5) scale(1.085,1)" font-size="15.2" fill="#8fc09a" font-weight="bold" font-family='"DejaVu Sans", "Liberation Sans", sans-serif' >1</text>
<text transform="translate(1276.5,631.5) scale(1.085,1)" font-size="15.2" fill="#8fc09a" font-weight="bold" font-family='"DejaVu Sans", "Liberation Sans", sans-serif' >2</text>
<text transform="translate(706.0,669.5) scale(1.085,1)" font-size="15.2" fill="#8fc09a" font-weight="bold" font-family='"DejaVu Sans", "Liberation Sans", sans-serif' >LO Pumps</text>
<text transform="translate(1159.0,902.0) scale(1.21,1)" font-size="12.6" fill="#8fc09a" font-family='"DejaVu Sans", "Liberation Sans", sans-serif' >to Sludge</text>
<text transform="translate(1185.5,915.0) scale(1.21,1)" font-size="12.6" fill="#8fc09a" font-family='"DejaVu Sans", "Liberation Sans", sans-serif' >Tank</text>
<text transform="translate(424.0,858.0) scale(1.21,1)" font-size="12.6" fill="#8fc09a" font-family='"DejaVu Sans", "Liberation Sans", sans-serif' >Lube Oil</text>
<text transform="translate(405.0,871.0) scale(1.21,1)" font-size="12.6" fill="#8fc09a" font-family='"DejaVu Sans", "Liberation Sans", sans-serif' >Consumption</text>
<text transform="translate(1409.5,836.0) scale(1.21,1)" font-size="12.6" fill="#8fc09a" font-family='"DejaVu Sans", "Liberation Sans", sans-serif' >Emission</text>
<text transform="translate(320.0,194.8) scale(1.1,1)" font-size="15.2" fill="#00ff00" font-weight="bold" font-family='"DejaVu Sans", "Liberation Sans", sans-serif' xml:space="preserve">P  10.05</text>
<text transform="translate(432.0,194.5) scale(1.085,1)" font-size="15.2" fill="#000" font-weight="bold" font-family='"DejaVu Sans", "Liberation Sans", sans-serif' >A</text>
<text transform="translate(264.0,292.3) scale(1.1,1)" font-size="15.2" fill="#00ff00" font-weight="bold" font-family='"DejaVu Sans", "Liberation Sans", sans-serif' xml:space="preserve">P  0.48</text>
<text transform="translate(375.0,292.0) scale(1.085,1)" font-size="15.2" fill="#000" font-weight="bold" font-family='"DejaVu Sans", "Liberation Sans", sans-serif' >A</text>
<text transform="translate(518.0,179.3) scale(1.1,1)" font-size="15.2" fill="#00ff00" font-weight="bold" font-family='"DejaVu Sans", "Liberation Sans", sans-serif' xml:space="preserve">T  347.69</text>
<text transform="translate(630.5,179.0) scale(1.085,1)" font-size="15.2" fill="#000" font-weight="bold" font-family='"DejaVu Sans", "Liberation Sans", sans-serif' >A</text>
<text transform="translate(533.5,260.8) scale(1.1,1)" font-size="15.2" fill="#00ff00" font-weight="bold" font-family='"DejaVu Sans", "Liberation Sans", sans-serif' xml:space="preserve">T  403.08</text>
<text transform="translate(646.0,260.5) scale(1.085,1)" font-size="15.2" fill="#000" font-weight="bold" font-family='"DejaVu Sans", "Liberation Sans", sans-serif' >A</text>
<text transform="translate(282.5,519.3) scale(1.1,1)" font-size="15.2" fill="#00ff00" font-weight="bold" font-family='"DejaVu Sans", "Liberation Sans", sans-serif' xml:space="preserve">N  900.41</text>
<text transform="translate(395.0,519.0) scale(1.085,1)" font-size="15.2" fill="#000" font-weight="bold" font-family='"DejaVu Sans", "Liberation Sans", sans-serif' >A</text>
<text transform="translate(211.0,579.8) scale(1.1,1)" font-size="15.2" fill="#00ff00" font-weight="bold" font-family='"DejaVu Sans", "Liberation Sans", sans-serif' xml:space="preserve">P  29.93</text>
<text transform="translate(323.0,579.5) scale(1.085,1)" font-size="15.2" fill="#000" font-weight="bold" font-family='"DejaVu Sans", "Liberation Sans", sans-serif' >A</text>
<text transform="translate(431.5,630.8) scale(1.1,1)" font-size="15.2" fill="#00ff00" font-weight="bold" font-family='"DejaVu Sans", "Liberation Sans", sans-serif' xml:space="preserve">L  69.82</text>
<text transform="translate(543.5,630.5) scale(1.085,1)" font-size="15.2" fill="#000" font-weight="bold" font-family='"DejaVu Sans", "Liberation Sans", sans-serif' >A</text>
<text transform="translate(938.5,248.3) scale(1.1,1)" font-size="15.2" fill="#00ff00" font-weight="bold" font-family='"DejaVu Sans", "Liberation Sans", sans-serif' xml:space="preserve">T  83.19</text>
<text transform="translate(1050.0,248.0) scale(1.085,1)" font-size="15.2" fill="#000" font-weight="bold" font-family='"DejaVu Sans", "Liberation Sans", sans-serif' >A</text>
<text transform="translate(713.5,383.8) scale(1.1,1)" font-size="15.2" fill="#00ff00" font-weight="bold" font-family='"DejaVu Sans", "Liberation Sans", sans-serif' xml:space="preserve">T  42.74</text>
<text transform="translate(826.0,383.5) scale(1.085,1)" font-size="15.2" fill="#000" font-weight="bold" font-family='"DejaVu Sans", "Liberation Sans", sans-serif' >A</text>
<text transform="translate(713.5,412.8) scale(1.1,1)" font-size="15.2" fill="#00ff00" font-weight="bold" font-family='"DejaVu Sans", "Liberation Sans", sans-serif' xml:space="preserve">P  1.30</text>
<text transform="translate(979.5,452.9) scale(1.1,1)" font-size="15.2" fill="#00ff00" font-weight="bold" font-family='"DejaVu Sans", "Liberation Sans", sans-serif' xml:space="preserve">T  74.98</text>
<text transform="translate(1091.5,452.6) scale(1.085,1)" font-size="15.2" fill="#000" font-weight="bold" font-family='"DejaVu Sans", "Liberation Sans", sans-serif' >A</text>
<text transform="translate(979.5,472.9) scale(1.1,1)" font-size="15.2" fill="#00ff00" font-weight="bold" font-family='"DejaVu Sans", "Liberation Sans", sans-serif' xml:space="preserve">P  1.86</text>
<text transform="translate(1091.5,472.6) scale(1.085,1)" font-size="15.2" fill="#000" font-weight="bold" font-family='"DejaVu Sans", "Liberation Sans", sans-serif' >A</text>
<text transform="translate(1358.0,277.8) scale(1.1,1)" font-size="15.2" fill="#00ff00" font-weight="bold" font-family='"DejaVu Sans", "Liberation Sans", sans-serif' xml:space="preserve">T  37.04</text>
<text transform="translate(1470.5,277.5) scale(1.085,1)" font-size="15.2" fill="#000" font-weight="bold" font-family='"DejaVu Sans", "Liberation Sans", sans-serif' >A</text>
<text transform="translate(1595.0,172.3) scale(1.1,1)" font-size="15.2" fill="#00ff00" font-weight="bold" font-family='"DejaVu Sans", "Liberation Sans", sans-serif' xml:space="preserve">L  49.97</text>
<text transform="translate(1707.0,172.0) scale(1.085,1)" font-size="15.2" fill="#000" font-weight="bold" font-family='"DejaVu Sans", "Liberation Sans", sans-serif' >A</text>
<text transform="translate(1059.0,690.3) scale(1.1,1)" font-size="15.2" fill="#00ff00" font-weight="bold" font-family='"DejaVu Sans", "Liberation Sans", sans-serif' xml:space="preserve">T  50.15</text>
<text transform="translate(1170.5,690.0) scale(1.085,1)" font-size="15.2" fill="#000" font-weight="bold" font-family='"DejaVu Sans", "Liberation Sans", sans-serif' >A</text>
<text transform="translate(1059.0,716.3) scale(1.1,1)" font-size="15.2" fill="#00ff00" font-weight="bold" font-family='"DejaVu Sans", "Liberation Sans", sans-serif' xml:space="preserve">P  3.12</text>
<text transform="translate(1170.5,716.0) scale(1.085,1)" font-size="15.2" fill="#000" font-weight="bold" font-family='"DejaVu Sans", "Liberation Sans", sans-serif' >A</text>
<text transform="translate(65.0,159.0) scale(1.155,1)" font-size="13.2" fill="#00ff00" font-family='"DejaVu Sans", "Liberation Sans", sans-serif' >T 119.19</text>
<text transform="translate(320.0,218.0) scale(1.155,1)" font-size="13.2" fill="#00ff00" font-family='"DejaVu Sans", "Liberation Sans", sans-serif' >G 325.35</text>
<text transform="translate(161.5,320.5) scale(1.155,1)" font-size="13.2" fill="#00ff00" font-family='"DejaVu Sans", "Liberation Sans", sans-serif' >G 75.76</text>
<text transform="translate(161.5,337.0) scale(1.155,1)" font-size="13.2" fill="#00ff00" font-family='"DejaVu Sans", "Liberation Sans", sans-serif' >T 119.19</text>
<text transform="translate(335.0,357.0) scale(1.155,1)" font-size="13.2" fill="#00ff00" font-family='"DejaVu Sans", "Liberation Sans", sans-serif' >X 57.34</text>
<text transform="translate(533.5,365.0) scale(1.155,1)" font-size="13.2" fill="#00ff00" font-family='"DejaVu Sans", "Liberation Sans", sans-serif' >G 123.18</text>
<text transform="translate(474.0,399.0) scale(1.155,1)" font-size="13.2" fill="#00ff00" font-family='"DejaVu Sans", "Liberation Sans", sans-serif' >T 119.36</text>
<text transform="translate(474.0,415.5) scale(1.155,1)" font-size="13.2" fill="#00ff00" font-family='"DejaVu Sans", "Liberation Sans", sans-serif' >W15.25</text>
<text transform="translate(263.5,430.0) scale(1.155,1)" font-size="13.2" fill="#00ff00" font-family='"DejaVu Sans", "Liberation Sans", sans-serif' >G 202.16</text>
<text transform="translate(398.0,430.0) scale(1.155,1)" font-size="13.2" fill="#00ff00" font-family='"DejaVu Sans", "Liberation Sans", sans-serif' >P 9.57</text>
<text transform="translate(65.0,638.0) scale(1.155,1)" font-size="13.2" fill="#00ff00" font-family='"DejaVu Sans", "Liberation Sans", sans-serif' >X 30.00</text>
<text transform="translate(274.0,638.0) scale(1.155,1)" font-size="13.2" fill="#00ff00" font-family='"DejaVu Sans", "Liberation Sans", sans-serif' >G 0.00</text>
<text transform="translate(476.0,594.5) scale(1.155,1)" font-size="13.2" fill="#00ff00" font-family='"DejaVu Sans", "Liberation Sans", sans-serif' >T 60.17</text>
<text transform="translate(476.0,610.0) scale(1.155,1)" font-size="13.2" fill="#00ff00" font-family='"DejaVu Sans", "Liberation Sans", sans-serif' >X 3.82</text>
<text transform="translate(714.0,179.0) scale(1.155,1)" font-size="13.2" fill="#00ff00" font-family='"DejaVu Sans", "Liberation Sans", sans-serif' >G 2501.9</text>
<text transform="translate(729.0,227.0) scale(1.155,1)" font-size="13.2" fill="#00ff00" font-family='"DejaVu Sans", "Liberation Sans", sans-serif' >N 18.58</text>
<text transform="translate(700.0,260.5) scale(1.155,1)" font-size="13.2" fill="#00ff00" font-family='"DejaVu Sans", "Liberation Sans", sans-serif' >T 97.45</text>
<text transform="translate(875.0,422.8) scale(1.155,1)" font-size="13.2" fill="#00ff00" font-family='"DejaVu Sans", "Liberation Sans", sans-serif' >T 82.54</text>
<text transform="translate(1039.5,279.5) scale(1.155,1)" font-size="13.2" fill="#00ff00" font-family='"DejaVu Sans", "Liberation Sans", sans-serif' >G 23.38</text>
<text transform="translate(1099.5,305.0) scale(1.155,1)" font-size="13.2" fill="#00ff00" font-family='"DejaVu Sans", "Liberation Sans", sans-serif' >G 0.00</text>
<text transform="translate(1111.0,365.0) scale(1.155,1)" font-size="13.2" fill="#00ff00" font-family='"DejaVu Sans", "Liberation Sans", sans-serif' >T 40.13</text>
<text transform="translate(1200.5,245.0) scale(1.155,1)" font-size="13.2" fill="#00ff00" font-family='"DejaVu Sans", "Liberation Sans", sans-serif' >G 0.00</text>
<text transform="translate(1448.5,227.5) scale(1.155,1)" font-size="13.2" fill="#00ff00" font-family='"DejaVu Sans", "Liberation Sans", sans-serif' >G 0.00</text>
<text transform="translate(1695.5,127.5) scale(1.155,1)" font-size="13.2" fill="#00ff00" font-family='"DejaVu Sans", "Liberation Sans", sans-serif' >G 0.00</text>
<text transform="translate(1620.5,251.0) scale(1.155,1)" font-size="13.2" fill="#00ff00" font-family='"DejaVu Sans", "Liberation Sans", sans-serif' >P 0.40</text>
<text transform="translate(1715.0,308.0) scale(1.155,1)" font-size="13.2" fill="#00ff00" font-family='"DejaVu Sans", "Liberation Sans", sans-serif' >T 83.19</text>
<text transform="translate(1253.0,305.0) scale(1.155,1)" font-size="13.2" fill="#00ff00" font-family='"DejaVu Sans", "Liberation Sans", sans-serif' >G 15.58</text>
<text transform="translate(1500.5,326.0) scale(1.155,1)" font-size="13.2" fill="#00ff00" font-family='"DejaVu Sans", "Liberation Sans", sans-serif' >G 38.96</text>
<text transform="translate(1271.0,365.0) scale(1.155,1)" font-size="13.2" fill="#00ff00" font-family='"DejaVu Sans", "Liberation Sans", sans-serif' >P 0.40</text>
<text transform="translate(1410.5,386.5) scale(1.155,1)" font-size="13.2" fill="#00ff00" font-family='"DejaVu Sans", "Liberation Sans", sans-serif' >P 1.97</text>
<text transform="translate(1609.5,386.0) scale(1.155,1)" font-size="13.2" fill="#00ff00" font-family='"DejaVu Sans", "Liberation Sans", sans-serif' >G 25.17</text>
<text transform="translate(1711.0,425.0) scale(1.155,1)" font-size="13.2" fill="#00ff00" font-family='"DejaVu Sans", "Liberation Sans", sans-serif' >G 5.61</text>
<text transform="translate(1625.0,441.0) scale(1.155,1)" font-size="13.2" fill="#00ff00" font-family='"DejaVu Sans", "Liberation Sans", sans-serif' >T 38.34</text>
<text transform="translate(1500.5,437.0) scale(1.155,1)" font-size="13.2" fill="#00ff00" font-family='"DejaVu Sans", "Liberation Sans", sans-serif' >P 1.48</text>
<text transform="translate(1321.5,425.0) scale(1.155,1)" font-size="13.2" fill="#00ff00" font-family='"DejaVu Sans", "Liberation Sans", sans-serif' >T 43.51</text>
<text transform="translate(1411.0,516.5) scale(1.155,1)" font-size="13.2" fill="#00ff00" font-family='"DejaVu Sans", "Liberation Sans", sans-serif' >T 41.48</text>
<text transform="translate(1411.0,543.5) scale(1.155,1)" font-size="13.2" fill="#00ff00" font-family='"DejaVu Sans", "Liberation Sans", sans-serif' >G 26.98</text>
<text transform="translate(1411.0,595.0) scale(1.155,1)" font-size="13.2" fill="#00ff00" font-family='"DejaVu Sans", "Liberation Sans", sans-serif' >G 11.98</text>
<text transform="translate(1734.0,518.0) scale(1.155,1)" font-size="13.2" fill="#00ff00" font-family='"DejaVu Sans", "Liberation Sans", sans-serif' >T 27.35</text>
<text transform="translate(1520.0,656.0) scale(1.155,1)" font-size="13.2" fill="#00ff00" font-family='"DejaVu Sans", "Liberation Sans", sans-serif' >T 20.00</text>
<text transform="translate(1520.0,677.0) scale(1.155,1)" font-size="13.2" fill="#00ff00" font-family='"DejaVu Sans", "Liberation Sans", sans-serif' >G 57.88</text>
<text transform="translate(1396.0,690.0) scale(1.155,1)" font-size="13.2" fill="#00ff00" font-family='"DejaVu Sans", "Liberation Sans", sans-serif' >T 23.00</text>
<text transform="translate(979.5,493.6) scale(1.155,1)" font-size="13.2" fill="#00ff00" font-family='"DejaVu Sans", "Liberation Sans", sans-serif' >G 30.78</text>
<text transform="translate(1268.5,500.5) scale(1.155,1)" font-size="13.2" fill="#00ff00" font-family='"DejaVu Sans", "Liberation Sans", sans-serif' >V 47.74</text>
<text transform="translate(1268.5,542.0) scale(1.155,1)" font-size="13.2" fill="#00ff00" font-family='"DejaVu Sans", "Liberation Sans", sans-serif' >P 4.07</text>
<text transform="translate(1226.0,652.0) scale(1.155,1)" font-size="13.2" fill="#00ff00" font-family='"DejaVu Sans", "Liberation Sans", sans-serif' >P 0.95</text>
<text transform="translate(1189.5,767.0) scale(1.155,1)" font-size="13.2" fill="#00ff00" font-family='"DejaVu Sans", "Liberation Sans", sans-serif' >G 20.12</text>
<text transform="translate(1189.5,788.0) scale(1.155,1)" font-size="13.2" fill="#00ff00" font-family='"DejaVu Sans", "Liberation Sans", sans-serif' >P 4.65</text>
<text transform="translate(1133.5,871.0) scale(1.155,1)" font-size="13.2" fill="#00ff00" font-family='"DejaVu Sans", "Liberation Sans", sans-serif' >G 0.00</text>
<text transform="translate(597.0,484.5) scale(1.155,1)" font-size="13.2" fill="#00ff00" font-family='"DejaVu Sans", "Liberation Sans", sans-serif' >T 82.20</text>
<text transform="translate(597.0,502.6) scale(1.155,1)" font-size="13.2" fill="#00ff00" font-family='"DejaVu Sans", "Liberation Sans", sans-serif' >T 82.80</text>
<text transform="translate(694.5,484.5) scale(1.155,1)" font-size="13.2" fill="#00ff00" font-family='"DejaVu Sans", "Liberation Sans", sans-serif' >T 82.32</text>
<text transform="translate(694.5,502.6) scale(1.155,1)" font-size="13.2" fill="#00ff00" font-family='"DejaVu Sans", "Liberation Sans", sans-serif' >T 82.80</text>
<text transform="translate(792.0,484.5) scale(1.155,1)" font-size="13.2" fill="#00ff00" font-family='"DejaVu Sans", "Liberation Sans", sans-serif' >T 82.33</text>
<text transform="translate(792.0,502.6) scale(1.155,1)" font-size="13.2" fill="#00ff00" font-family='"DejaVu Sans", "Liberation Sans", sans-serif' >T 82.17</text>
<text transform="translate(605.0,556.0) scale(1.09,1)" font-size="13.6" fill="#000" font-family='"DejaVu Sans", "Liberation Sans", sans-serif' >T 62.91</text>
<text transform="translate(691.5,556.0) scale(1.09,1)" font-size="13.6" fill="#000" font-family='"DejaVu Sans", "Liberation Sans", sans-serif' >A</text>
<text transform="translate(750.5,556.0) scale(1.09,1)" font-size="13.6" fill="#000" font-family='"DejaVu Sans", "Liberation Sans", sans-serif' >T 62.89</text>
<text transform="translate(838.0,556.0) scale(1.09,1)" font-size="13.6" fill="#000" font-family='"DejaVu Sans", "Liberation Sans", sans-serif' >A</text>
<text transform="translate(641.0,584.5) scale(1.08,1)" font-size="14.2" fill="#000" font-family='"DejaVu Sans", "Liberation Sans", sans-serif' >LO Sump</text>
<text transform="translate(653.5,605.0) scale(1.08,1)" font-size="14.2" fill="#000" font-family='"DejaVu Sans", "Liberation Sans", sans-serif' >0.6  m³</text>
<text transform="translate(1538.4,145.5) scale(1.16,1)" font-size="13.0" fill="#000" font-family='"DejaVu Sans", "Liberation Sans", sans-serif' stroke="#000" stroke-width="0.3">Exp.</text>
<text transform="translate(1533.6,158.6) scale(1.16,1)" font-size="13.0" fill="#000" font-family='"DejaVu Sans", "Liberation Sans", sans-serif' stroke="#000" stroke-width="0.3">Tank</text>
<text transform="translate(1528.6,174.7) scale(1.15,1)" font-size="13.0" fill="#000" font-family='"DejaVu Sans", "Liberation Sans", sans-serif' stroke="#000" stroke-width="0.3">0.4 m³</text>
<path d="M296.0,215.0 L309.0,215.0" fill="none" stroke="#000" stroke-width="1.8" stroke-linejoin="miter" />
<polygon points="312.0,215.0 306.8,211.6 308.0,215.0 306.8,218.4" fill="#000" stroke="#000" stroke-width="0.8" stroke-linejoin="miter" />
<path d="M139.5,313.4 L139.5,323.0" fill="none" stroke="#000" stroke-width="1.8" stroke-linejoin="miter" />
<polygon points="139.5,326.0 136.1,320.8 139.5,322.0 142.9,320.8" fill="#000" stroke="#000" stroke-width="0.8" stroke-linejoin="miter" />
<path d="M510.2,363.0 L522.8,363.0" fill="none" stroke="#000" stroke-width="1.8" stroke-linejoin="miter" />
<polygon points="525.8,363.0 520.5,359.6 521.8,363.0 520.5,366.4" fill="#000" stroke="#000" stroke-width="0.8" stroke-linejoin="miter" />
<path d="M278.0,407.0 L266.0,407.0" fill="none" stroke="#000" stroke-width="1.8" stroke-linejoin="miter" />
<polygon points="263.0,407.0 268.2,403.6 267.0,407.0 268.2,410.4" fill="#000" stroke="#000" stroke-width="0.8" stroke-linejoin="miter" />
<path d="M592.5,411.9 L592.5,421.5" fill="none" stroke="#000" stroke-width="1.8" stroke-linejoin="miter" />
<polygon points="592.5,424.5 589.1,419.3 592.5,420.5 595.9,419.3" fill="#000" stroke="#000" stroke-width="0.8" stroke-linejoin="miter" />
<path d="M656.0,423.8 L656.0,414.2" fill="none" stroke="#000" stroke-width="1.8" stroke-linejoin="miter" />
<polygon points="656.0,411.2 652.6,416.4 656.0,415.2 659.4,416.4" fill="#000" stroke="#000" stroke-width="0.8" stroke-linejoin="miter" />
<path d="M697.0,411.9 L697.0,421.5" fill="none" stroke="#000" stroke-width="1.8" stroke-linejoin="miter" />
<polygon points="697.0,424.5 693.6,419.3 697.0,420.5 700.4,419.3" fill="#000" stroke="#000" stroke-width="0.8" stroke-linejoin="miter" />
<path d="M855.0,423.8 L855.0,414.2" fill="none" stroke="#000" stroke-width="1.8" stroke-linejoin="miter" />
<polygon points="855.0,411.2 851.6,416.4 855.0,415.2 858.4,416.4" fill="#000" stroke="#000" stroke-width="0.8" stroke-linejoin="miter" />
<path d="M701.5,169.4 L701.5,179.0" fill="none" stroke="#000" stroke-width="1.8" stroke-linejoin="miter" />
<polygon points="701.5,182.0 698.1,176.8 701.5,178.0 704.9,176.8" fill="#000" stroke="#000" stroke-width="0.8" stroke-linejoin="miter" />
<path d="M533.0,566.0 L545.0,566.0" fill="none" stroke="#000" stroke-width="1.8" stroke-linejoin="miter" />
<polygon points="548.0,566.0 542.8,562.6 544.0,566.0 542.8,569.4" fill="#000" stroke="#000" stroke-width="0.8" stroke-linejoin="miter" />
<path d="M250.0,636.0 L263.0,636.0" fill="none" stroke="#000" stroke-width="1.8" stroke-linejoin="miter" />
<polygon points="266.0,636.0 260.8,632.6 262.0,636.0 260.8,639.4" fill="#000" stroke="#000" stroke-width="0.8" stroke-linejoin="miter" />
<path d="M1030.5,277.0 L1018.5,277.0" fill="none" stroke="#000" stroke-width="1.8" stroke-linejoin="miter" />
<polygon points="1015.5,277.0 1020.7,273.6 1019.5,277.0 1020.7,280.4" fill="#000" stroke="#000" stroke-width="0.8" stroke-linejoin="miter" />
<path d="M1084.0,296.9 L1084.0,306.5" fill="none" stroke="#000" stroke-width="1.8" stroke-linejoin="miter" />
<polygon points="1084.0,309.5 1080.6,304.3 1084.0,305.5 1087.4,304.3" fill="#000" stroke="#000" stroke-width="0.8" stroke-linejoin="miter" />
<path d="M1182.0,234.9 L1182.0,244.5" fill="none" stroke="#000" stroke-width="1.8" stroke-linejoin="miter" />
<polygon points="1182.0,247.5 1178.6,242.3 1182.0,243.5 1185.4,242.3" fill="#000" stroke="#000" stroke-width="0.8" stroke-linejoin="miter" />
<path d="M1238.0,296.9 L1238.0,306.5" fill="none" stroke="#000" stroke-width="1.8" stroke-linejoin="miter" />
<polygon points="1238.0,309.5 1234.6,304.3 1238.0,305.5 1241.4,304.3" fill="#000" stroke="#000" stroke-width="0.8" stroke-linejoin="miter" />
<path d="M1481.5,327.8 L1481.5,318.2" fill="none" stroke="#000" stroke-width="1.8" stroke-linejoin="miter" />
<polygon points="1481.5,315.2 1478.1,320.4 1481.5,319.2 1484.9,320.4" fill="#000" stroke="#000" stroke-width="0.8" stroke-linejoin="miter" />
<path d="M1545.5,216.9 L1545.5,226.5" fill="none" stroke="#000" stroke-width="1.8" stroke-linejoin="miter" />
<polygon points="1545.5,229.5 1542.1,224.3 1545.5,225.5 1548.9,224.3" fill="#000" stroke="#000" stroke-width="0.8" stroke-linejoin="miter" />
<path d="M1688.0,125.5 L1676.0,125.5" fill="none" stroke="#000" stroke-width="1.8" stroke-linejoin="miter" />
<polygon points="1673.0,125.5 1678.2,122.1 1677.0,125.5 1678.2,128.9" fill="#000" stroke="#000" stroke-width="0.8" stroke-linejoin="miter" />
<path d="M1646.0,400.0 L1634.0,400.0" fill="none" stroke="#000" stroke-width="1.8" stroke-linejoin="miter" />
<polygon points="1631.0,400.0 1636.2,396.6 1635.0,400.0 1636.2,403.4" fill="#000" stroke="#000" stroke-width="0.8" stroke-linejoin="miter" />
<path d="M1695.0,407.9 L1695.0,417.5" fill="none" stroke="#000" stroke-width="1.8" stroke-linejoin="miter" />
<polygon points="1695.0,420.5 1691.6,415.3 1695.0,416.5 1698.4,415.3" fill="#000" stroke="#000" stroke-width="0.8" stroke-linejoin="miter" />
<path d="M1433.0,550.5 L1446.0,550.5" fill="none" stroke="#000" stroke-width="1.8" stroke-linejoin="miter" />
<polygon points="1449.0,550.5 1443.8,547.1 1445.0,550.5 1443.8,553.9" fill="#000" stroke="#000" stroke-width="0.8" stroke-linejoin="miter" />
<path d="M1395.5,586.9 L1395.5,596.5" fill="none" stroke="#000" stroke-width="1.8" stroke-linejoin="miter" />
<polygon points="1395.5,599.5 1392.1,594.3 1395.5,595.5 1398.9,594.3" fill="#000" stroke="#000" stroke-width="0.8" stroke-linejoin="miter" />
<path d="M1778.0,629.0 L1791.0,629.0" fill="none" stroke="#000" stroke-width="1.8" stroke-linejoin="miter" />
<polygon points="1794.0,629.0 1788.8,625.6 1790.0,629.0 1788.8,632.4" fill="#000" stroke="#000" stroke-width="0.8" stroke-linejoin="miter" />
<path d="M1793.0,655.0 L1781.0,655.0" fill="none" stroke="#000" stroke-width="1.8" stroke-linejoin="miter" />
<polygon points="1778.0,655.0 1783.2,651.6 1782.0,655.0 1783.2,658.4" fill="#000" stroke="#000" stroke-width="0.8" stroke-linejoin="miter" />
<path d="M926.0,496.0 L913.0,496.0" fill="none" stroke="#000" stroke-width="1.8" stroke-linejoin="miter" />
<polygon points="910.0,496.0 915.2,492.6 914.0,496.0 915.2,499.4" fill="#000" stroke="#000" stroke-width="0.8" stroke-linejoin="miter" />
<path d="M960.0,482.9 L960.0,492.5" fill="none" stroke="#000" stroke-width="1.8" stroke-linejoin="miter" />
<polygon points="960.0,495.5 956.6,490.3 960.0,491.5 963.4,490.3" fill="#000" stroke="#000" stroke-width="0.8" stroke-linejoin="miter" />
<path d="M926.0,545.5 L913.0,545.5" fill="none" stroke="#000" stroke-width="1.8" stroke-linejoin="miter" />
<polygon points="910.0,545.5 915.2,542.1 914.0,545.5 915.2,548.9" fill="#000" stroke="#000" stroke-width="0.8" stroke-linejoin="miter" />
<path d="M926.5,620.9 L926.5,630.5" fill="none" stroke="#000" stroke-width="1.8" stroke-linejoin="miter" />
<polygon points="926.5,633.5 923.1,628.3 926.5,629.5 929.9,628.3" fill="#000" stroke="#000" stroke-width="0.8" stroke-linejoin="miter" />
<path d="M979.0,632.3 L979.0,622.7" fill="none" stroke="#000" stroke-width="1.8" stroke-linejoin="miter" />
<polygon points="979.0,619.7 975.6,624.9 979.0,623.7 982.4,624.9" fill="#000" stroke="#000" stroke-width="0.8" stroke-linejoin="miter" />
<path d="M1166.0,764.0 L1179.0,764.0" fill="none" stroke="#000" stroke-width="1.8" stroke-linejoin="miter" />
<polygon points="1182.0,764.0 1176.8,760.6 1178.0,764.0 1176.8,767.4" fill="#000" stroke="#000" stroke-width="0.8" stroke-linejoin="miter" />
<path d="M1114.0,859.4 L1114.0,869.0" fill="none" stroke="#000" stroke-width="1.8" stroke-linejoin="miter" />
<polygon points="1114.0,872.0 1110.6,866.8 1114.0,868.0 1117.4,866.8" fill="#000" stroke="#000" stroke-width="0.8" stroke-linejoin="miter" />
<rect x="0.0" y="1030.5" width="1920.0" height="49.5" fill="#dbe0ee" />
<rect x="494.0" y="1030.5" width="60.0" height="49.5" fill="#f0f3f9" />
<rect x="189.0" y="1077.0" width="50.0" height="3.0" fill="#0a74d8" />
<rect x="437.0" y="1077.0" width="50.0" height="3.0" fill="#0a74d8" />
<rect x="494.0" y="1077.0" width="60.0" height="3.0" fill="#0a74d8" />
<rect x="561.0" y="1077.0" width="50.0" height="3.0" fill="#0a74d8" />
<polygon points="20.0,1046.5 29.0,1045.2 29.0,1054.5 20.0,1054.5" fill="#000" stroke-linejoin="miter" />
<polygon points="30.5,1045.0 40.0,1043.5 40.0,1054.5 30.5,1054.5" fill="#000" stroke-linejoin="miter" />
<polygon points="20.0,1056.0 29.0,1056.0 29.0,1065.3 20.0,1064.0" fill="#000" stroke-linejoin="miter" />
<polygon points="30.5,1056.0 40.0,1056.0 40.0,1067.0 30.5,1065.5" fill="#000" stroke-linejoin="miter" />
<ellipse cx="92.5" cy="1053.3" rx="9.8" ry="9.8" fill="none" stroke="#000" stroke-width="3"/>
<path d="M85.3,1060.5 L77.0,1068.3" fill="none" stroke="#000" stroke-width="3.4" stroke-linejoin="miter" />
<rect x="140.5" y="1050.0" width="12.0" height="10.3" fill="none" stroke="#000" stroke-width="1.8" />
<path d="M139.7,1045.8 L153.3,1045.8" fill="none" stroke="#000" stroke-width="1.5" stroke-linejoin="miter" />
<path d="M139.7,1063.8 L153.3,1063.8" fill="none" stroke="#000" stroke-width="1.5" stroke-linejoin="miter" />
<path d="M140.5,1045.8 L140.5,1063.8" fill="none" stroke="#000" stroke-width="1.5" stroke-linejoin="miter" />
<path d="M152.5,1045.8 L152.5,1063.8" fill="none" stroke="#000" stroke-width="1.5" stroke-linejoin="miter" />
<path d="M158.7,1045.0 L158.7,1049.5" fill="none" stroke="#000" stroke-width="1.5" stroke-linejoin="miter" />
<rect x="157.4" y="1051.3" width="2.6" height="2.6" fill="#000" />
<path d="M158.7,1056.0 L158.7,1064.0" fill="none" stroke="#000" stroke-width="1.5" stroke-linejoin="miter" />
<path d="M200.3,1043 h11 l2.5,2.5 h13.7 v19.5 h-27.2 z" fill="#e9aa0c"/>
<rect x="200.3" y="1047.0" width="27.2" height="18.0" fill="#ffd766" rx="1.5" />
<rect x="205.0" y="1054.8" width="17.8" height="10.2" fill="#3b8fd9" rx="1.5" />
<rect x="209.7" y="1059.4" width="8.3" height="5.6" fill="#ffd766" />
<path d="M262,1047 h26 v17 q0,4 -4,4 h-18 q-4,0 -4,-4 z" fill="#1b5fa8"/>
<path d="M269,1047 v-3 q0,-2 2,-2 h8 q2,0 2,2 v3" fill="none" stroke="#2aa0e8" stroke-width="2"/>
<rect x="270.5" y="1051.5" width="4.5" height="4.5" fill="#f25022" />
<rect x="276.0" y="1051.5" width="4.5" height="4.5" fill="#7fba00" />
<rect x="270.5" y="1057.0" width="4.5" height="4.5" fill="#00a4ef" />
<rect x="276.0" y="1057.0" width="4.5" height="4.5" fill="#ffb900" />
<polygon points="323.0,1051.0 337.5,1041.0 352.0,1051.0 352.0,1067.0 323.0,1067.0" fill="#1f7fd6" stroke-linejoin="miter" />
<polygon points="326.0,1050.0 349.0,1050.0 349.0,1058.0 337.5,1064.0 326.0,1058.0" fill="#ffffff" stroke-linejoin="miter" />
<polygon points="323.0,1053.0 337.5,1062.0 352.0,1053.0 352.0,1067.0 323.0,1067.0" fill="#3aa0f0" stroke-linejoin="miter" />
<rect x="385.5" y="1041.0" width="28.0" height="26.0" fill="#c8101a" rx="4" />
<path d="M392,1061 q6,-6 8,-15 q1,-2 -1,-2 q-2,2 1,8 q3,6 9,7 q-8,-2 -17,2" fill="none" stroke="#fff" stroke-width="1.8"/>
<rect x="455.0" y="1042.0" width="19.0" height="24.0" fill="#fff" stroke="#2b579a" stroke-width="1.5" />
<path d="M463.0,1047.0 L472.0,1047.0" fill="none" stroke="#2b579a" stroke-width="1.4" stroke-linejoin="miter" />
<path d="M463.0,1051.0 L472.0,1051.0" fill="none" stroke="#2b579a" stroke-width="1.4" stroke-linejoin="miter" />
<path d="M463.0,1055.0 L472.0,1055.0" fill="none" stroke="#2b579a" stroke-width="1.4" stroke-linejoin="miter" />
<path d="M463.0,1059.0 L472.0,1059.0" fill="none" stroke="#2b579a" stroke-width="1.4" stroke-linejoin="miter" />
<path d="M463.0,1062.0 L472.0,1062.0" fill="none" stroke="#2b579a" stroke-width="1.4" stroke-linejoin="miter" />
<rect x="447.0" y="1046.0" width="17.0" height="17.0" fill="#2b579a" />
<text x="455.5" y="1060.0" font-size="13" fill="#fff" font-weight="bold" text-anchor="middle" font-family='"Liberation Sans", "DejaVu Sans", sans-serif' >W</text>
<rect x="508.5" y="1040.0" width="30.0" height="30.0" fill="#222" />
<polygon points="510.0,1041.5 531.0,1041.5 523.5,1055.0 510.0,1050.5" fill="#f07a35" stroke-linejoin="miter" />
<polygon points="531.0,1041.5 537.0,1041.5 537.0,1062.5 523.5,1055.0" fill="#dccdbb" stroke-linejoin="miter" />
<polygon points="537.0,1062.5 537.0,1068.5 519.0,1068.5 523.5,1055.0" fill="#4f7fa8" stroke-linejoin="miter" />
<polygon points="519.0,1068.5 510.0,1068.5 510.0,1050.5 523.5,1055.0" fill="#f5dc3a" stroke-linejoin="miter" />
<polygon points="533.1,1054.7 533.1,1056.2 530.4,1057.1 530.0,1058.1 531.7,1060.5 530.8,1061.7 528.1,1060.8 527.2,1061.5 527.2,1064.3 525.7,1064.8 524.1,1062.5 522.9,1062.5 521.3,1064.8 519.8,1064.3 519.8,1061.5 518.9,1060.8 516.2,1061.7 515.3,1060.5 517.0,1058.1 516.6,1057.1 513.9,1056.2 513.9,1054.7 516.6,1053.8 517.0,1052.8 515.3,1050.4 516.2,1049.2 518.9,1050.1 519.8,1049.4 519.8,1046.6 521.3,1046.1 522.9,1048.4 524.1,1048.4 525.7,1046.1 527.2,1046.6 527.2,1049.4 528.1,1050.1 530.8,1049.2 531.7,1050.4 530.0,1052.8 530.4,1053.8" fill="#f2f2f2" stroke="#111" stroke-width="1.0" stroke-linejoin="miter" />
<ellipse cx="523.5" cy="1055.5" rx="4.5" ry="4.5" fill="none" stroke="#7a7a7a" stroke-width="1.0"/>
<ellipse cx="523.5" cy="1055.5" rx="3.2" ry="3.2" fill="#fff" stroke="#555" stroke-width="0.8"/>
<path d="M573,1062 q-5,-10 6,-16 q12,-5 17,2 q3,6 -5,8 q-4,1 -2,5 q1,5 -6,5 q-7,0 -10,-4 z" fill="#e9e4dc" stroke="#8a8a8a" stroke-width="1"/>
<ellipse cx="579.0" cy="1054.0" rx="2.2" ry="2.2" fill="#e03030"/>
<ellipse cx="585.0" cy="1049.5" rx="2.2" ry="2.2" fill="#30a030"/>
<ellipse cx="591.5" cy="1050.5" rx="2.2" ry="2.2" fill="#3060e0"/>
<ellipse cx="579.0" cy="1061.0" rx="2.2" ry="2.2" fill="#e8b020"/>
<path d="M586.0,1064.0 L597.0,1044.0" fill="none" stroke="#c97a28" stroke-width="2.6" stroke-linejoin="miter" />
<path d="M597.0,1044.0 L599.0,1040.5" fill="none" stroke="#e8a040" stroke-width="3.5" stroke-linejoin="miter" />
<ellipse cx="1289.0" cy="1057.0" rx="11.0" ry="11.0" fill="#f59a23"/>
<ellipse cx="1296.0" cy="1062.0" rx="8.0" ry="4.5" fill="#f0f0f0"/>
<ellipse cx="1297.0" cy="1048.0" rx="6.5" ry="6.5" fill="#d8252c"/>
<text x="1297.0" y="1052.0" font-size="9.5" fill="#fff" font-weight="bold" text-anchor="middle" font-family='"Liberation Sans", "DejaVu Sans", sans-serif' >1</text>
<text x="1316.0" y="1062.5" font-size="18" fill="#000" font-family='"Liberation Sans", "DejaVu Sans", sans-serif' >16°C  Γενικά ηλιοφάν.</text>
<path d="M1522.0,1059.0 L1530.0,1051.0 L1538.0,1059.0" fill="none" stroke="#000" stroke-width="1.6" stroke-linejoin="miter" />
<rect x="1554.0" y="1050.0" width="9.0" height="11.0" fill="none" stroke="#000" stroke-width="1.4" rx="2" />
<path d="M1563.0,1054.0 L1567.0,1052.0 L1567.0,1059.0 L1563.0,1057.0" fill="none" stroke="#000" stroke-width="1.3" stroke-linejoin="miter" />
<path d="M1553.0,1046.5 L1566.0,1046.5" fill="none" stroke="#000" stroke-width="1.2" stroke-linejoin="miter" />
<path d="M1553.0,1064.5 L1566.0,1064.5" fill="none" stroke="#000" stroke-width="1.2" stroke-linejoin="miter" />
<path d="M1581,1061 q-4,-1 -2,-5 q1,-3 5,-2 q2,-5 7,-3 q5,1 5,5 q4,1 2,5 z" fill="none" stroke="#000" stroke-width="1.4"/>
<path d="M1580.0,1047.0 L1599.0,1063.0" fill="none" stroke="#000" stroke-width="1.4" stroke-linejoin="miter" />
<rect x="1612.0" y="1047.0" width="17.0" height="14.0" fill="none" stroke="#000" stroke-width="1.4" />
<text x="1620.5" y="1059.0" font-size="11" fill="#000" text-anchor="middle" font-family='"Liberation Sans", "DejaVu Sans", sans-serif' >€</text>
<ellipse cx="1625.0" cy="1063.0" rx="3.5" ry="3.5" fill="#1a73e8"/>
<rect x="1642.0" y="1051.0" width="17.0" height="10.0" fill="#000" />
<rect x="1659.0" y="1054.0" width="2.0" height="4.0" fill="#000" />
<path d="M1640.0,1048.0 L1645.0,1053.0" fill="none" stroke="#000" stroke-width="1.4" stroke-linejoin="miter" />
<rect x="1672.0" y="1048.0" width="18.0" height="12.0" fill="none" stroke="#000" stroke-width="1.4" />
<path d="M1681.0,1060.0 L1681.0,1064.0" fill="none" stroke="#000" stroke-width="1.4" stroke-linejoin="miter" />
<path d="M1676.0,1064.5 L1686.0,1064.5" fill="none" stroke="#000" stroke-width="1.4" stroke-linejoin="miter" />
<rect x="1669.0" y="1046.0" width="4.0" height="6.0" fill="#000" />
<polygon points="1701.0,1053.0 1705.0,1053.0 1710.0,1048.0 1710.0,1064.0 1705.0,1059.0 1701.0,1059.0" fill="none" stroke="#000" stroke-width="1.3" stroke-linejoin="miter" />
<path d="M1713,1052 q3,4 0,8 M1716.5,1049.5 q5,6.5 0,13" fill="none" stroke="#000" stroke-width="1.2"/>
<text x="1733.0" y="1061.0" font-size="14.5" fill="#000" font-family='"Liberation Sans", "DejaVu Sans", sans-serif' >ENG</text>
<text x="1811.5" y="1049.0" font-size="14.5" fill="#000" text-anchor="middle" font-family='"Liberation Sans", "DejaVu Sans", sans-serif' >9:20 πμ</text>
<text x="1811.5" y="1072.0" font-size="14.5" fill="#000" text-anchor="middle" font-family='"Liberation Sans", "DejaVu Sans", sans-serif' >3/4/2024</text>
<path d="M1869,1046 h18 v14 h-5 l3,5 l-8,-5 h-8 z" fill="#000"/>
<path d="M1872.0,1050.0 L1884.0,1050.0" fill="none" stroke="#dde2ef" stroke-width="1.2" stroke-linejoin="miter" />
<path d="M1872.0,1053.5 L1884.0,1053.5" fill="none" stroke="#dde2ef" stroke-width="1.2" stroke-linejoin="miter" />
<path d="M1872.0,1057.0 L1884.0,1057.0" fill="none" stroke="#dde2ef" stroke-width="1.2" stroke-linejoin="miter" />
<ellipse cx="1888.0" cy="1064.0" rx="7.5" ry="7.5" fill="#dde2ef" stroke="#555" stroke-width="1.2"/>
<text x="1888.0" y="1069.0" font-size="12.5" fill="#000" text-anchor="middle" font-family='"Liberation Sans", "DejaVu Sans", sans-serif' >4</text>
<path d="M1913.5,1031.0 L1913.5,1080.0" fill="none" stroke="#9aa0ad" stroke-width="1" stroke-linejoin="miter" />
</svg>
</body></html>
